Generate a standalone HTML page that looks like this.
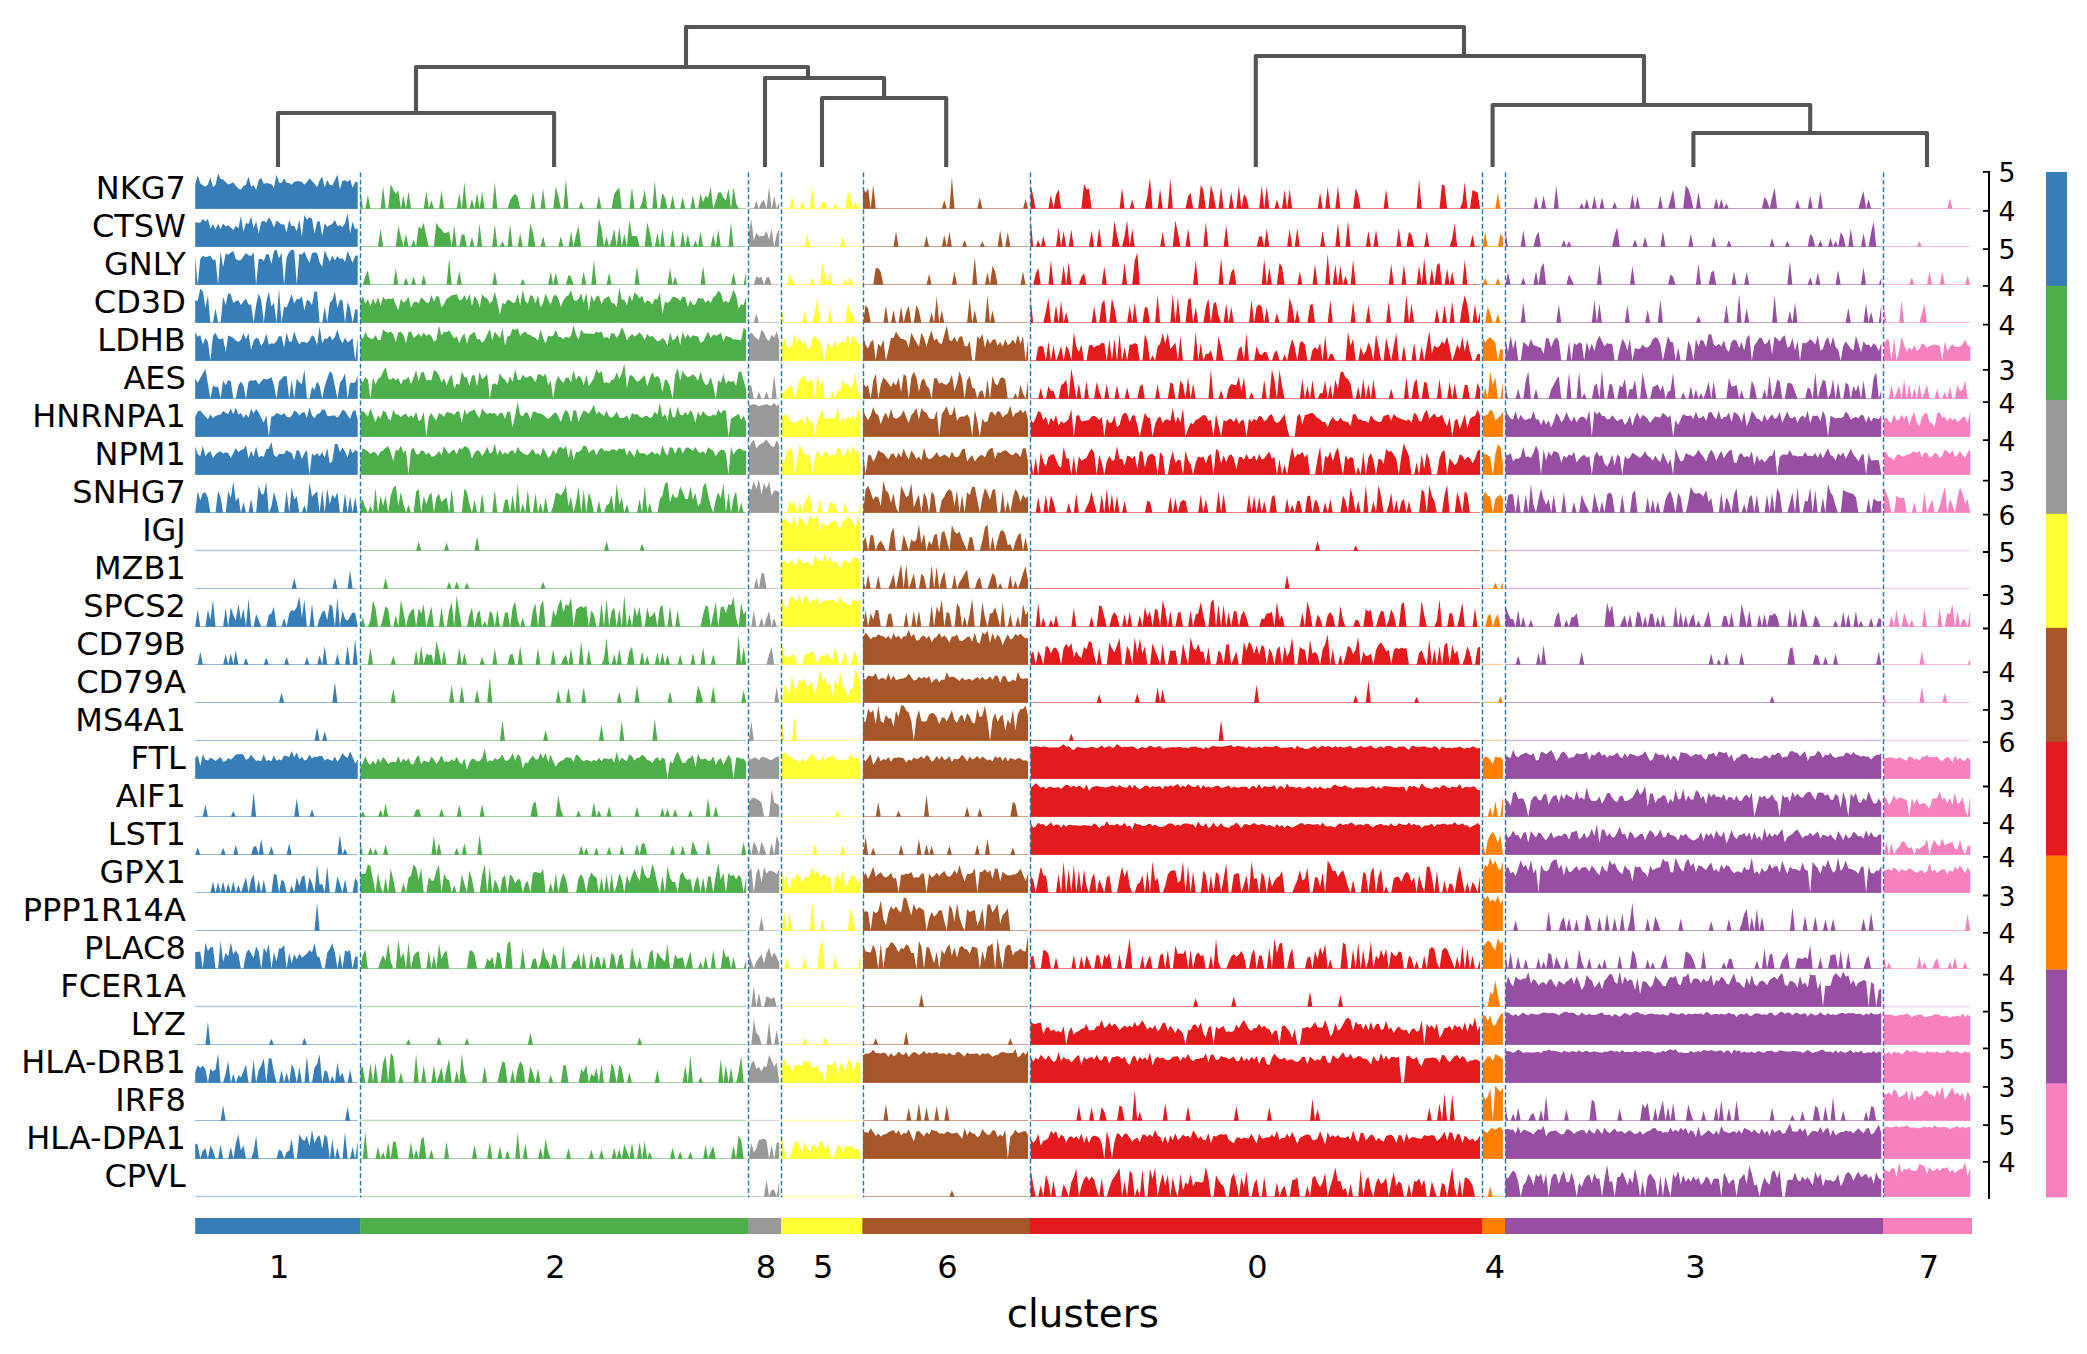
<!DOCTYPE html>
<html><head><meta charset="utf-8"><title>tracksplot</title>
<style>html,body{margin:0;padding:0;background:#fff}svg{display:block}text{font-family:"DejaVu Sans","Liberation Sans",sans-serif;fill:#000}</style></head><body>
<svg width="2087" height="1354" viewBox="0 0 2087 1354">
<rect width="2087" height="1354" fill="#fff"/>
<path d="M278,167V113H554.1V167M822,167V98H946.2V167M765,167V78H884.1V98M416,113V67H808V78M1693.4,167V133H1927V167M1492.6,167V105H1810.2V133M1255.8,167V56H1644V105M686,67V27H1464V56" fill="none" stroke="#555" stroke-width="4.1" stroke-linejoin="round"/>
<g>
<path d="M195.2,208.5H357.7" stroke="#377eb8" stroke-width="1" stroke-opacity="0.55" fill="none"/>
<path d="M195.2,208.8L195.2,184.5L197.7,175.3L200.3,183.2L202.8,185.2L205.4,186.8L207.9,184.5L210.4,177.5L213,187L215.5,185L218.1,173.4L220.6,179.1L223.1,179.4L225.7,182.2L228.2,184.6L230.8,183.4L233.3,182.2L235.8,185.7L238.4,188.4L240.9,189.8L243.4,186L246,184.8L248.5,176.4L251.1,186.8L253.6,185.3L256.1,189.9L258.7,180.1L261.2,177.9L263.8,183.9L266.3,183L268.8,183.5L271.4,184.1L273.9,188L276.5,174.6L279,182.6L281.5,183.2L284.1,178.3L286.6,182.7L289.2,183L291.7,184.7L294.2,181.7L296.8,181.2L299.3,181.3L301.9,182L304.4,184.4L306.9,182.2L309.5,178.2L312,181.1L314.5,183.5L317.1,187.2L319.6,180.6L322.2,176.6L324.7,187.4L327.2,180.1L329.8,184.8L332.3,185.6L334.9,180.3L337.4,174.5L339.9,189.2L342.5,180.8L345,180.2L347.6,181.9L350.1,179.3L352.6,187.8L355.2,181.8L357.7,182.3L357.7,208.8Z" fill="#377eb8"/>
<path d="M360.3,208.5H746.2" stroke="#4daf4a" stroke-width="1" stroke-opacity="0.55" fill="none"/>
<path d="M360.3,208.8L360.3,189.1L362.8,208.8L365.3,208.8L367.9,194.7L370.4,208.8L380.6,208.8L383.1,186L385.6,208.8L388.2,208.8L390.7,183.9L393.3,189.7L395.8,194.2L398.3,189.9L400.9,208.8L403.4,195.4L406,208.8L408.5,191.3L411,208.8L423.7,208.8L426.3,191L428.8,208.8L431.4,200.2L433.9,208.8L439,208.8L441.5,190.5L444.1,208.8L456.7,208.8L459.3,193.3L461.8,208.8L464.4,182.3L466.9,208.8L469.4,208.8L472,198.8L474.5,208.8L477.1,193L479.6,208.8L482.1,191.2L484.7,208.8L492.3,208.8L494.8,182.2L497.4,208.8L507.5,208.8L510.1,200.2L512.6,196.6L515.2,193.6L517.7,197.3L520.2,208.8L530.4,208.8L532.9,191.3L535.5,208.8L540.5,208.8L543.1,188.6L545.6,208.8L553.2,208.8L555.8,186.5L558.3,196.1L560.9,208.8L563.4,208.8L565.9,178.4L568.5,208.8L578.6,208.8L581.2,201.6L583.7,208.8L596.4,208.8L598.9,195.6L601.5,208.8L611.6,208.8L614.2,194L616.7,190.4L619.3,187.6L621.8,208.8L629.4,208.8L632,187.1L634.5,208.8L639.6,208.8L642.1,202.2L644.7,189.4L647.2,208.8L652.3,208.8L654.8,180.5L657.4,208.8L659.9,208.8L662.4,192.9L665,197.5L667.5,208.8L670,208.8L672.6,195.2L675.1,208.8L680.2,208.8L682.7,196.9L685.3,208.8L690.4,208.8L692.9,195.1L695.4,208.8L698,208.8L700.5,193.3L703.1,202.4L705.6,195.6L708.1,198.3L710.7,186.7L713.2,208.8L715.8,201L718.3,192.5L720.8,192.3L723.4,197.5L725.9,200.4L728.5,188.5L731,208.8L733.5,187.1L736.1,203.1L738.6,208.8L746.2,208.8L746.2,208.8Z" fill="#4daf4a"/>
<path d="M748.8,208.5H779.2" stroke="#999999" stroke-width="1" stroke-opacity="0.55" fill="none"/>
<path d="M748.8,208.8L748.8,208.8L753.8,208.8L756.4,201.1L758.9,208.8L761.5,202L764,200.1L766.5,208.8L769.1,186.8L771.6,208.8L774.2,196.1L776.7,208.8L779.2,201.9L779.2,208.8Z" fill="#999999"/>
<path d="M781.8,208.5H860.5" stroke="#ffff33" stroke-width="1" stroke-opacity="0.55" fill="none"/>
<path d="M781.8,208.8L781.8,208.8L789.4,208.8L791.9,195.8L794.5,208.8L799.6,208.8L802.1,200.9L804.6,208.8L809.7,208.8L812.2,186.6L814.8,208.8L819.9,208.8L822.4,201.3L824.9,202.5L827.5,208.8L832.6,208.8L835.1,202.9L837.6,208.8L845.3,208.8L847.8,191.6L850.3,195.7L852.9,208.8L855.4,200.7L858,208.8L860.5,202.5L860.5,208.8Z" fill="#ffff33"/>
<path d="M863,208.5H1028.1" stroke="#a65628" stroke-width="1" stroke-opacity="0.55" fill="none"/>
<path d="M863,208.8L863,188L865.6,192.7L868.1,188.3L870.7,208.8L873.2,184.3L875.7,208.8L941.8,208.8L944.3,200.1L946.8,208.8L949.4,208.8L951.9,177.1L954.5,208.8L977.3,208.8L979.8,197.5L982.4,208.8L1023,208.8L1025.6,199L1028.1,208.8L1028.1,208.8Z" fill="#a65628"/>
<path d="M1030.6,208.5H1480.1" stroke="#e41a1c" stroke-width="1" stroke-opacity="0.55" fill="none"/>
<path d="M1030.6,208.8L1030.6,184.5L1033.2,196.3L1035.7,208.8L1048.4,208.8L1050.9,194.5L1053.5,208.8L1056,194.7L1058.6,189.4L1061.1,208.8L1081.4,208.8L1084,184.1L1086.5,189.6L1089,188.5L1091.6,208.8L1119.5,208.8L1122,187.8L1124.6,208.8L1129.7,208.8L1132.2,199.5L1134.7,208.8L1144.9,208.8L1147.4,196.3L1150,177.9L1152.5,208.8L1157.6,208.8L1160.1,188.8L1162.7,208.8L1167.8,208.8L1170.3,178.4L1172.8,208.8L1185.5,208.8L1188.1,196.3L1190.6,192.7L1193.1,208.8L1198.2,208.8L1200.8,185L1203.3,189.9L1205.8,208.8L1208.4,208.8L1210.9,185.1L1213.5,194.7L1216,208.8L1218.5,208.8L1221.1,186.5L1223.6,208.8L1228.7,208.8L1231.2,192L1233.8,208.8L1236.3,208.8L1238.9,185L1241.4,208.8L1243.9,194.1L1246.5,197.7L1249,208.8L1259.2,208.8L1261.7,185.2L1264.2,208.8L1266.8,185.7L1269.3,208.8L1274.4,208.8L1276.9,199.4L1279.5,208.8L1282,208.8L1284.6,189.8L1287.1,208.8L1289.6,189.1L1292.2,208.8L1317.6,208.8L1320.1,192.8L1322.6,208.8L1325.2,208.8L1327.7,186.5L1330.3,208.8L1335.3,208.8L1337.9,186L1340.4,208.8L1353.1,208.8L1355.7,188.2L1358.2,194.7L1360.7,208.8L1383.6,208.8L1386.1,189.3L1388.7,208.8L1416.6,208.8L1419.1,179L1421.7,208.8L1439.5,208.8L1442,184.8L1444.5,185.2L1447.1,208.8L1459.8,208.8L1462.3,202.7L1464.8,182.1L1467.4,208.8L1469.9,208.8L1472.5,189.9L1475,191.2L1477.5,192.3L1480.1,208.8L1480.1,208.8Z" fill="#e41a1c"/>
<path d="M1482.6,208.5H1502.9" stroke="#ff7f00" stroke-width="1" stroke-opacity="0.55" fill="none"/>
<path d="M1482.6,208.8L1482.6,208.8L1495.3,208.8L1497.9,193.1L1500.4,208.8L1502.9,208.8L1502.9,208.8Z" fill="#ff7f00"/>
<path d="M1505.5,208.5H1881.3" stroke="#984ea3" stroke-width="1" stroke-opacity="0.55" fill="none"/>
<path d="M1505.5,208.8L1505.5,208.8L1533.4,208.8L1536,196.2L1538.5,208.8L1541,208.8L1543.6,195.3L1546.1,208.8L1553.7,208.8L1556.3,185.6L1558.8,208.8L1579.1,208.8L1581.7,203.3L1584.2,208.8L1586.7,198.5L1589.3,208.8L1591.8,208.8L1594.4,195.9L1596.9,208.8L1599.4,208.8L1602,197.5L1604.5,208.8L1612.1,208.8L1614.7,201.8L1617.2,208.8L1629.9,208.8L1632.4,194.3L1635,208.8L1637.5,196.2L1640.1,208.8L1657.8,208.8L1660.4,195.5L1662.9,208.8L1668,208.8L1670.5,199.7L1673.1,189.6L1675.6,208.8L1683.2,208.8L1685.8,185.2L1688.3,189.1L1690.8,196.5L1693.4,208.8L1695.9,208.8L1698.5,192L1701,208.8L1713.7,208.8L1716.2,198L1718.8,208.8L1721.3,198.5L1723.9,208.8L1726.4,203.4L1728.9,208.8L1761.9,208.8L1764.5,196.8L1767,200.5L1769.6,208.8L1772.1,197.5L1774.6,187.4L1777.2,208.8L1795,208.8L1797.5,199.8L1800,208.8L1807.7,208.8L1810.2,195.5L1812.7,208.8L1817.8,208.8L1820.4,191.6L1822.9,208.8L1858.4,208.8L1861,199L1863.5,191L1866.1,208.8L1868.6,199.1L1871.1,208.8L1881.3,208.8L1881.3,208.8Z" fill="#984ea3"/>
<path d="M1883.8,208.5H1970.2" stroke="#f781bf" stroke-width="1" stroke-opacity="0.55" fill="none"/>
<path d="M1883.8,208.8L1883.8,208.8L1947.3,208.8L1949.9,198.3L1952.4,208.8L1970.2,208.8L1970.2,208.8Z" fill="#f781bf"/>
</g>
<g>
<path d="M195.2,246.5H357.7" stroke="#377eb8" stroke-width="1" stroke-opacity="0.55" fill="none"/>
<path d="M195.2,246.8L195.2,222.2L197.7,222.4L200.3,222.8L202.8,219.1L205.4,221.4L207.9,218.9L210.4,228.8L213,223.9L215.5,229.5L218.1,223.6L220.6,228.9L223.1,223.4L225.7,226.4L228.2,225.2L230.8,227.6L233.3,229.9L235.8,225.7L238.4,228.2L240.9,216.1L243.4,231.8L246,222.9L248.5,224.1L251.1,216.4L253.6,228.6L256.1,221.1L258.7,233.8L261.2,221.9L263.8,220.8L266.3,222.8L268.8,217.2L271.4,221.3L273.9,227.4L276.5,220.4L279,222.6L281.5,224.6L284.1,224.3L286.6,232.6L289.2,220L291.7,226.3L294.2,225.5L296.8,231.4L299.3,219.6L301.9,236.7L304.4,214.7L306.9,220L309.5,217.3L312,218.7L314.5,233.5L317.1,222.1L319.6,221.1L322.2,236L324.7,223L327.2,226.9L329.8,224.9L332.3,224.1L334.9,219.9L337.4,226.1L339.9,225.3L342.5,227.1L345,223.2L347.6,213.3L350.1,233.5L352.6,221.8L355.2,229.6L357.7,227.9L357.7,246.8Z" fill="#377eb8"/>
<path d="M360.3,246.5H746.2" stroke="#4daf4a" stroke-width="1" stroke-opacity="0.55" fill="none"/>
<path d="M360.3,246.8L360.3,246.8L378,246.8L380.6,228.3L383.1,246.8L395.8,246.8L398.3,226.1L400.9,236.4L403.4,246.8L406,233.5L408.5,246.8L411,246.8L413.6,239.5L416.1,246.8L418.7,226.2L421.2,229.1L423.7,222.8L426.3,236.5L428.8,246.8L433.9,246.8L436.4,222.4L439,227.3L441.5,229.4L444.1,233.2L446.6,232.7L449.1,231.2L451.7,246.8L454.2,224.9L456.7,246.8L459.3,246.8L461.8,234.5L464.4,234.8L466.9,246.8L469.4,246.8L472,237L474.5,246.8L477.1,246.8L479.6,223.5L482.1,246.8L492.3,246.8L494.8,223.9L497.4,246.8L499.9,246.8L502.5,241L505,246.8L507.5,246.8L510.1,224.2L512.6,246.8L517.7,246.8L520.2,233L522.8,246.8L527.8,246.8L530.4,223L532.9,232.7L535.5,246.8L540.5,246.8L543.1,236.3L545.6,246.8L558.3,246.8L560.9,236.2L563.4,246.8L568.5,246.8L571,231.5L573.6,246.8L576.1,234.3L578.6,226.2L581.2,246.8L596.4,246.8L598.9,218.4L601.5,228.5L604,246.8L606.6,236.7L609.1,246.8L611.6,240.1L614.2,228.7L616.7,246.8L619.3,226.8L621.8,246.8L624.3,233.8L626.9,246.8L629.4,219.4L632,236.1L634.5,235.9L637,235.9L639.6,246.8L644.7,246.8L647.2,222.2L649.7,231.8L652.3,246.8L654.8,246.8L657.4,232.5L659.9,246.8L662.4,228.2L665,246.8L670,246.8L672.6,229.5L675.1,246.8L680.2,246.8L682.7,230.8L685.3,246.8L687.8,234.1L690.4,246.8L692.9,246.8L695.4,240.6L698,246.8L700.5,231.2L703.1,246.8L710.7,246.8L713.2,234L715.8,246.8L718.3,229.2L720.8,246.8L728.5,246.8L731,222.1L733.5,246.8L746.2,246.8L746.2,246.8Z" fill="#4daf4a"/>
<path d="M748.8,246.5H779.2" stroke="#999999" stroke-width="1" stroke-opacity="0.55" fill="none"/>
<path d="M748.8,246.8L748.8,233.7L751.3,219.1L753.8,240.7L756.4,232.4L758.9,236.4L761.5,236L764,235.9L766.5,230.7L769.1,239.8L771.6,228.9L774.2,246.8L776.7,234.2L779.2,228.5L779.2,246.8Z" fill="#999999"/>
<path d="M781.8,246.5H860.5" stroke="#ffff33" stroke-width="1" stroke-opacity="0.55" fill="none"/>
<path d="M781.8,246.8L781.8,246.8L804.6,246.8L807.2,232.5L809.7,246.8L840.2,246.8L842.7,236.5L845.3,246.8L860.5,246.8L860.5,246.8Z" fill="#ffff33"/>
<path d="M863,246.5H1028.1" stroke="#a65628" stroke-width="1" stroke-opacity="0.55" fill="none"/>
<path d="M863,246.8L863,246.8L893.5,246.8L896,231.6L898.6,246.8L924,246.8L926.5,235.8L929.1,246.8L941.8,246.8L944.3,235.1L946.8,246.8L949.4,231.7L951.9,246.8L962.1,246.8L964.6,240L967.1,246.8L979.8,246.8L982.4,241.5L984.9,246.8L997.6,246.8L1000.2,230.3L1002.7,246.8L1005.2,246.8L1007.8,232.1L1010.3,246.8L1028.1,246.8L1028.1,246.8Z" fill="#a65628"/>
<path d="M1030.6,246.5H1480.1" stroke="#e41a1c" stroke-width="1" stroke-opacity="0.55" fill="none"/>
<path d="M1030.6,246.8L1030.6,218.3L1033.2,246.8L1035.7,246.8L1038.2,240.2L1040.8,246.8L1043.3,236L1045.9,246.8L1056,246.8L1058.6,227.6L1061.1,246.8L1063.6,230.9L1066.2,246.8L1068.7,246.8L1071.3,229.6L1073.8,246.8L1089,246.8L1091.6,230.5L1094.1,246.8L1096.7,246.8L1099.2,227.8L1101.7,246.8L1111.9,246.8L1114.4,220.7L1117,235.2L1119.5,246.8L1122,246.8L1124.6,235.9L1127.1,220.3L1129.7,246.8L1132.2,228.6L1134.7,246.8L1160.1,246.8L1162.7,232L1165.2,246.8L1172.8,246.8L1175.4,220.5L1177.9,233.1L1180.4,246.8L1185.5,246.8L1188.1,228.4L1190.6,246.8L1203.3,246.8L1205.8,222.1L1208.4,246.8L1223.6,246.8L1226.2,225.2L1228.7,246.8L1256.6,246.8L1259.2,236.5L1261.7,236.3L1264.2,246.8L1266.8,228.2L1269.3,246.8L1287.1,246.8L1289.6,229.1L1292.2,246.8L1294.7,246.8L1297.3,228.1L1299.8,246.8L1320.1,246.8L1322.6,231L1325.2,246.8L1335.3,246.8L1337.9,223.2L1340.4,246.8L1345.5,246.8L1348,220.7L1350.6,246.8L1365.8,246.8L1368.4,231L1370.9,246.8L1373.4,246.8L1376,229.7L1378.5,246.8L1396.3,246.8L1398.8,227.8L1401.4,246.8L1406.4,246.8L1409,231.7L1411.5,234.7L1414.1,246.8L1424.2,246.8L1426.8,231.7L1429.3,246.8L1449.6,246.8L1452.2,238.6L1454.7,223.1L1457.2,246.8L1469.9,246.8L1472.5,234.8L1475,246.8L1480.1,246.8L1480.1,246.8Z" fill="#e41a1c"/>
<path d="M1482.6,246.5H1502.9" stroke="#ff7f00" stroke-width="1" stroke-opacity="0.55" fill="none"/>
<path d="M1482.6,246.8L1482.6,246.8L1485.2,232.1L1487.7,246.8L1497.9,246.8L1500.4,233.8L1502.9,238.1L1502.9,246.8Z" fill="#ff7f00"/>
<path d="M1505.5,246.5H1881.3" stroke="#984ea3" stroke-width="1" stroke-opacity="0.55" fill="none"/>
<path d="M1505.5,246.8L1505.5,232L1508,246.8L1520.7,246.8L1523.3,229.9L1525.8,246.8L1533.4,246.8L1536,236.6L1538.5,231.5L1541,246.8L1561.3,246.8L1563.9,239.8L1566.4,246.8L1569,241.2L1571.5,246.8L1612.1,246.8L1614.7,234.7L1617.2,227.4L1619.7,246.8L1632.4,246.8L1635,239.3L1637.5,246.8L1642.6,246.8L1645.1,236.9L1647.7,246.8L1660.4,246.8L1662.9,231.2L1665.5,246.8L1688.3,246.8L1690.8,233.4L1693.4,246.8L1711.2,246.8L1713.7,236.2L1716.2,246.8L1726.4,246.8L1728.9,239.9L1731.5,246.8L1769.6,246.8L1772.1,238L1774.6,246.8L1784.8,246.8L1787.3,241L1789.9,246.8L1807.7,246.8L1810.2,234L1812.7,237.1L1815.3,246.8L1817.8,246.8L1820.4,240.1L1822.9,246.8L1828,246.8L1830.5,237.4L1833,246.8L1835.6,241L1838.1,246.8L1840.7,232.3L1843.2,236.4L1845.7,246.8L1848.3,246.8L1850.8,228.2L1853.4,246.8L1861,246.8L1863.5,233.2L1866.1,246.8L1868.6,246.8L1871.1,232.5L1873.7,221.4L1876.2,246.8L1881.3,246.8L1881.3,246.8Z" fill="#984ea3"/>
<path d="M1883.8,246.5H1970.2" stroke="#f781bf" stroke-width="1" stroke-opacity="0.55" fill="none"/>
<path d="M1883.8,246.8L1883.8,246.8L1916.8,246.8L1919.4,241.2L1921.9,246.8L1970.2,246.8L1970.2,246.8Z" fill="#f781bf"/>
</g>
<g>
<path d="M195.2,284.5H357.7" stroke="#377eb8" stroke-width="1" stroke-opacity="0.55" fill="none"/>
<path d="M195.2,284.8L195.2,256.5L197.7,284.8L200.3,258.9L202.8,255.8L205.4,257.2L207.9,256.4L210.4,255.6L213,259.9L215.5,259.8L218.1,284.8L220.6,251.5L223.1,267.3L225.7,253.5L228.2,254.7L230.8,252.5L233.3,251.1L235.8,258.9L238.4,260.5L240.9,259.9L243.4,256.6L246,252.9L248.5,255.2L251.1,256L253.6,252.1L256.1,284.8L258.7,259.1L261.2,258.7L263.8,260.8L266.3,254.1L268.8,254.5L271.4,263.9L273.9,251.2L276.5,249.4L279,258.6L281.5,252.5L284.1,284.8L286.6,257.5L289.2,252.2L291.7,249.4L294.2,250.5L296.8,284.8L299.3,253.8L301.9,254.7L304.4,251.6L306.9,257.7L309.5,263.1L312,253.2L314.5,252.2L317.1,253.3L319.6,262.2L322.2,267L324.7,250.2L327.2,256.2L329.8,261.8L332.3,255.7L334.9,260.6L337.4,256L339.9,259.1L342.5,258.1L345,261.9L347.6,251L350.1,257.1L352.6,263.1L355.2,255.7L357.7,255.5L357.7,284.8Z" fill="#377eb8"/>
<path d="M360.3,284.5H746.2" stroke="#4daf4a" stroke-width="1" stroke-opacity="0.55" fill="none"/>
<path d="M360.3,284.8L360.3,284.8L362.8,284.8L365.3,276.2L367.9,270.6L370.4,284.8L393.3,284.8L395.8,268.1L398.3,284.8L403.4,284.8L406,277.4L408.5,284.8L411,284.8L413.6,276.5L416.1,284.8L421.2,284.8L423.7,274.7L426.3,284.8L446.6,284.8L449.1,258.5L451.7,284.8L456.7,284.8L459.3,270.8L461.8,284.8L492.3,284.8L494.8,271L497.4,284.8L520.2,284.8L522.8,278.9L525.3,284.8L548.2,284.8L550.7,271.5L553.2,284.8L555.8,272.6L558.3,284.8L565.9,284.8L568.5,274.9L571,276.8L573.6,284.8L581.2,284.8L583.7,271.4L586.3,284.8L591.3,284.8L593.9,259.8L596.4,284.8L606.6,284.8L609.1,273.1L611.6,284.8L634.5,284.8L637,266.2L639.6,284.8L667.5,284.8L670,267.7L672.6,284.8L675.1,276.4L677.7,284.8L700.5,284.8L703.1,266.2L705.6,284.8L731,284.8L733.5,272.4L736.1,284.8L743.7,284.8L746.2,271L746.2,284.8Z" fill="#4daf4a"/>
<path d="M748.8,284.5H779.2" stroke="#999999" stroke-width="1" stroke-opacity="0.55" fill="none"/>
<path d="M748.8,284.8L748.8,284.8L753.8,284.8L756.4,276.3L758.9,278.1L761.5,276.8L764,284.8L766.5,277.8L769.1,277.1L771.6,284.8L779.2,284.8L779.2,284.8Z" fill="#999999"/>
<path d="M781.8,284.5H860.5" stroke="#ffff33" stroke-width="1" stroke-opacity="0.55" fill="none"/>
<path d="M781.8,284.8L781.8,284.8L786.9,284.8L789.4,274.4L791.9,278L794.5,284.8L809.7,284.8L812.2,277.8L814.8,284.8L819.9,284.8L822.4,261.8L824.9,273.3L827.5,284.8L830,271.6L832.6,284.8L842.7,284.8L845.3,278.6L847.8,284.8L850.3,276.7L852.9,284.8L860.5,284.8L860.5,284.8Z" fill="#ffff33"/>
<path d="M863,284.5H1028.1" stroke="#a65628" stroke-width="1" stroke-opacity="0.55" fill="none"/>
<path d="M863,284.8L863,284.8L873.2,284.8L875.7,268.3L878.3,268.2L880.8,272L883.4,284.8L926.5,284.8L929.1,274.1L931.6,284.8L951.9,284.8L954.5,271.4L957,284.8L972.2,284.8L974.8,256.9L977.3,284.8L984.9,284.8L987.5,272.2L990,284.8L992.5,265.7L995.1,271.6L997.6,284.8L1020.5,284.8L1023,271.4L1025.6,284.8L1028.1,284.8L1028.1,284.8Z" fill="#a65628"/>
<path d="M1030.6,284.5H1480.1" stroke="#e41a1c" stroke-width="1" stroke-opacity="0.55" fill="none"/>
<path d="M1030.6,284.8L1030.6,284.8L1033.2,284.8L1035.7,273.7L1038.2,268.1L1040.8,284.8L1048.4,284.8L1050.9,260.1L1053.5,284.8L1061.1,284.8L1063.6,265.3L1066.2,284.8L1068.7,261.7L1071.3,284.8L1078.9,284.8L1081.4,277.1L1084,273L1086.5,284.8L1101.7,284.8L1104.3,266.6L1106.8,284.8L1122,284.8L1124.6,262.5L1127.1,284.8L1132.2,284.8L1134.7,260.8L1137.3,252.6L1139.8,284.8L1193.1,284.8L1195.7,260.1L1198.2,284.8L1218.5,284.8L1221.1,257.9L1223.6,284.8L1228.7,284.8L1231.2,272.3L1233.8,268.2L1236.3,284.8L1261.7,284.8L1264.2,258.7L1266.8,284.8L1269.3,267.5L1271.9,284.8L1276.9,284.8L1279.5,262.9L1282,266.9L1284.6,284.8L1297.3,284.8L1299.8,271.2L1302.3,284.8L1312.5,284.8L1315,264L1317.6,284.8L1325.2,284.8L1327.7,253.6L1330.3,284.8L1332.8,284.8L1335.3,264.3L1337.9,284.8L1340.4,265.6L1343,284.8L1345.5,275.3L1348,284.8L1350.6,284.8L1353.1,259.7L1355.7,284.8L1388.7,284.8L1391.2,263.7L1393.7,284.8L1401.4,284.8L1403.9,264.7L1406.4,284.8L1416.6,284.8L1419.1,265.5L1421.7,284.8L1424.2,258L1426.8,284.8L1429.3,284.8L1431.8,268.6L1434.4,284.8L1436.9,265L1439.5,263.1L1442,284.8L1444.5,284.8L1447.1,268.4L1449.6,284.8L1452.2,271.8L1454.7,284.8L1462.3,284.8L1464.8,259.6L1467.4,284.8L1480.1,284.8L1480.1,284.8Z" fill="#e41a1c"/>
<path d="M1482.6,284.5H1502.9" stroke="#ff7f00" stroke-width="1" stroke-opacity="0.55" fill="none"/>
<path d="M1482.6,284.8L1482.6,284.8L1485.2,277.7L1487.7,284.8L1495.3,284.8L1497.9,278.1L1500.4,284.8L1502.9,284.8L1502.9,284.8Z" fill="#ff7f00"/>
<path d="M1505.5,284.5H1881.3" stroke="#984ea3" stroke-width="1" stroke-opacity="0.55" fill="none"/>
<path d="M1505.5,284.8L1505.5,284.8L1508,271.9L1510.6,284.8L1520.7,284.8L1523.3,277.5L1525.8,284.8L1533.4,284.8L1536,271L1538.5,284.8L1541,267.7L1543.6,263L1546.1,284.8L1566.4,284.8L1569,274.2L1571.5,279.4L1574,284.8L1596.9,284.8L1599.4,264.1L1602,284.8L1629.9,284.8L1632.4,266.1L1635,284.8L1668,284.8L1670.5,274.4L1673.1,276.8L1675.6,284.8L1695.9,284.8L1698.5,263.6L1701,284.8L1708.6,284.8L1711.2,272.6L1713.7,270.5L1716.2,284.8L1731.5,284.8L1734,271.2L1736.6,284.8L1744.2,284.8L1746.7,271.9L1749.3,284.8L1787.3,284.8L1789.9,261.3L1792.4,284.8L1807.7,284.8L1810.2,277.2L1812.7,284.8L1815.3,284.8L1817.8,272.8L1820.4,284.8L1835.6,284.8L1838.1,270L1840.7,284.8L1861,284.8L1863.5,267.3L1866.1,284.8L1878.8,284.8L1881.3,277.8L1881.3,284.8Z" fill="#984ea3"/>
<path d="M1883.8,284.5H1970.2" stroke="#f781bf" stroke-width="1" stroke-opacity="0.55" fill="none"/>
<path d="M1883.8,284.8L1883.8,284.8L1909.2,284.8L1911.8,277.2L1914.3,284.8L1927,284.8L1929.5,271.2L1932.1,284.8L1939.7,284.8L1942.2,271.6L1944.8,284.8L1965.1,284.8L1967.6,275.4L1970.2,284.8L1970.2,284.8Z" fill="#f781bf"/>
</g>
<g>
<path d="M195.2,322.5H357.7" stroke="#377eb8" stroke-width="1" stroke-opacity="0.55" fill="none"/>
<path d="M195.2,322.8L195.2,300.2L197.7,301.1L200.3,288.6L202.8,291.4L205.4,307.8L207.9,295.5L210.4,322.8L213,322.8L215.5,308.2L218.1,322.8L220.6,322.8L223.1,297L225.7,305L228.2,292.9L230.8,294.6L233.3,303.1L235.8,301.1L238.4,300.3L240.9,305.1L243.4,301.4L246,298.6L248.5,304.6L251.1,304.4L253.6,322.8L256.1,304.9L258.7,293.5L261.2,300.3L263.8,322.8L266.3,301.9L268.8,291.5L271.4,306.6L273.9,302.5L276.5,322.8L279,288.5L281.5,322.8L284.1,306.6L286.6,307.4L289.2,301L291.7,294.1L294.2,303.4L296.8,299.1L299.3,299.2L301.9,296.6L304.4,310.5L306.9,299.6L309.5,301.3L312,304.9L314.5,291.2L317.1,291.7L319.6,322.8L322.2,322.8L324.7,306.3L327.2,322.8L329.8,302.8L332.3,300.1L334.9,291.4L337.4,308.3L339.9,299.9L342.5,300.3L345,322.8L347.6,302L350.1,308.6L352.6,322.8L355.2,309.5L357.7,309.2L357.7,322.8Z" fill="#377eb8"/>
<path d="M360.3,322.5H746.2" stroke="#4daf4a" stroke-width="1" stroke-opacity="0.55" fill="none"/>
<path d="M360.3,322.8L360.3,302.3L362.8,296.3L365.3,303.7L367.9,299.3L370.4,306.3L373,298.4L375.5,303.9L378,297.2L380.6,305.8L383.1,296.7L385.6,300L388.2,298.5L390.7,299.1L393.3,298.1L395.8,304.8L398.3,310.5L400.9,298.6L403.4,303L406,300.8L408.5,296.8L411,307.9L413.6,302.2L416.1,301.5L418.7,303.6L421.2,297.2L423.7,299.4L426.3,302.5L428.8,303.3L431.4,295L433.9,301.8L436.4,296.1L439,296.7L441.5,307.4L444.1,303.7L446.6,298.7L449.1,297.2L451.7,295.2L454.2,295.1L456.7,294L459.3,300.5L461.8,299.7L464.4,295.2L466.9,300.7L469.4,293.9L472,306L474.5,295.7L477.1,299.5L479.6,307.8L482.1,294.2L484.7,297.3L487.2,298.6L489.8,303.7L492.3,300.9L494.8,291.8L497.4,302.5L499.9,314.7L502.5,302.7L505,304.3L507.5,299.4L510.1,300.6L512.6,302.9L515.2,302.6L517.7,293.9L520.2,305.4L522.8,289.8L525.3,301.2L527.8,303.8L530.4,295.1L532.9,296.2L535.5,303.5L538,295.3L540.5,307.2L543.1,303L545.6,293.6L548.2,299.9L550.7,304.7L553.2,296.4L555.8,294.5L558.3,298.8L560.9,307L563.4,300.3L565.9,296.8L568.5,295.2L571,290.2L573.6,299.9L576.1,301L578.6,298.9L581.2,293.2L583.7,303.1L586.3,292.8L588.8,311.4L591.3,295.1L593.9,301.8L596.4,296.6L598.9,295.6L601.5,304.2L604,299.1L606.6,297.6L609.1,296.1L611.6,303L614.2,303.3L616.7,307.6L619.3,287.4L621.8,299.6L624.3,299.8L626.9,305.6L629.4,294.5L632,301.2L634.5,292.2L637,294.8L639.6,298.6L642.1,295.4L644.7,303.8L647.2,300.2L649.7,301.4L652.3,304.6L654.8,298.7L657.4,299.4L659.9,292.2L662.4,314.1L665,301.8L667.5,303L670,300.9L672.6,296.8L675.1,296.9L677.7,298.6L680.2,300.9L682.7,296.5L685.3,297.1L687.8,307.2L690.4,299.9L692.9,305.1L695.4,304.2L698,298.1L700.5,298.5L703.1,298.2L705.6,302.8L708.1,299.7L710.7,302.9L713.2,297L715.8,295.6L718.3,290.7L720.8,292.9L723.4,302.4L725.9,300.8L728.5,303.1L731,297.3L733.5,289.7L736.1,295.5L738.6,308.8L741.1,304.5L743.7,304.7L746.2,296.4L746.2,322.8Z" fill="#4daf4a"/>
<path d="M748.8,322.5H779.2" stroke="#999999" stroke-width="1" stroke-opacity="0.55" fill="none"/>
<path d="M748.8,322.8L748.8,322.8L753.8,322.8L756.4,313.5L758.9,322.8L779.2,322.8L779.2,322.8Z" fill="#999999"/>
<path d="M781.8,322.5H860.5" stroke="#ffff33" stroke-width="1" stroke-opacity="0.55" fill="none"/>
<path d="M781.8,322.8L781.8,309L784.3,322.8L802.1,322.8L804.6,309.9L807.2,322.8L812.2,322.8L814.8,311.7L817.3,297.2L819.9,322.8L827.5,322.8L830,307.5L832.6,322.8L845.3,322.8L847.8,302.7L850.3,311L852.9,314.6L855.4,322.8L860.5,322.8L860.5,322.8Z" fill="#ffff33"/>
<path d="M863,322.5H1028.1" stroke="#a65628" stroke-width="1" stroke-opacity="0.55" fill="none"/>
<path d="M863,322.8L863,322.8L865.6,305.1L868.1,308.6L870.7,322.8L883.4,322.8L885.9,305.4L888.4,322.8L891,322.8L893.5,310.1L896,322.8L898.6,322.8L901.1,306.3L903.7,322.8L906.2,311.8L908.7,305.8L911.3,322.8L913.8,322.8L916.4,304.7L918.9,310.5L921.4,322.8L929.1,322.8L931.6,312.6L934.1,322.8L936.7,296.3L939.2,322.8L941.8,310.3L944.3,322.8L967.1,322.8L969.7,298.1L972.2,322.8L974.8,309.9L977.3,322.8L984.9,322.8L987.5,295.6L990,322.8L992.5,310.2L995.1,322.8L1028.1,322.8L1028.1,322.8Z" fill="#a65628"/>
<path d="M1030.6,322.5H1480.1" stroke="#e41a1c" stroke-width="1" stroke-opacity="0.55" fill="none"/>
<path d="M1030.6,322.8L1030.6,298.3L1033.2,322.8L1043.3,322.8L1045.9,311.1L1048.4,298.1L1050.9,322.8L1053.5,322.8L1056,304.9L1058.6,322.8L1061.1,300.7L1063.6,322.8L1066.2,312.3L1068.7,322.8L1091.6,322.8L1094.1,305.9L1096.7,322.8L1099.2,322.8L1101.7,304.1L1104.3,299.7L1106.8,322.8L1109.3,322.8L1111.9,298.2L1114.4,308.1L1117,322.8L1127.1,322.8L1129.7,305.5L1132.2,322.8L1134.7,302.5L1137.3,322.8L1142.4,322.8L1144.9,307.3L1147.4,307.5L1150,322.8L1155.1,322.8L1157.6,294.4L1160.1,322.8L1170.3,322.8L1172.8,293.5L1175.4,322.8L1177.9,297L1180.4,322.8L1185.5,322.8L1188.1,299.8L1190.6,297.8L1193.1,322.8L1195.7,306.9L1198.2,322.8L1203.3,322.8L1205.8,307.1L1208.4,298.5L1210.9,322.8L1213.5,303.4L1216,301.9L1218.5,315.9L1221.1,322.8L1223.6,322.8L1226.2,303.5L1228.7,322.8L1231.2,306.4L1233.8,322.8L1249,322.8L1251.5,299.7L1254.1,322.8L1256.6,307L1259.2,304.4L1261.7,306.8L1264.2,322.8L1266.8,307.2L1269.3,322.8L1274.4,322.8L1276.9,313.1L1279.5,322.8L1287.1,322.8L1289.6,297.8L1292.2,306.5L1294.7,322.8L1297.3,309.4L1299.8,322.8L1307.4,322.8L1310,305.5L1312.5,303.5L1315,322.8L1327.7,322.8L1330.3,299.8L1332.8,322.8L1350.6,322.8L1353.1,301L1355.7,322.8L1365.8,322.8L1368.4,304.9L1370.9,322.8L1386.1,322.8L1388.7,301.5L1391.2,322.8L1403.9,322.8L1406.4,294.4L1409,322.8L1411.5,303.4L1414.1,322.8L1434.4,322.8L1436.9,308.8L1439.5,322.8L1442,322.8L1444.5,305.4L1447.1,322.8L1449.6,322.8L1452.2,301.6L1454.7,322.8L1459.8,322.8L1462.3,306L1464.8,295.2L1467.4,305.2L1469.9,322.8L1472.5,322.8L1475,303.7L1477.5,322.8L1480.1,311.8L1480.1,322.8Z" fill="#e41a1c"/>
<path d="M1482.6,322.5H1502.9" stroke="#ff7f00" stroke-width="1" stroke-opacity="0.55" fill="none"/>
<path d="M1482.6,322.8L1482.6,322.8L1485.2,322.8L1487.7,306.4L1490.2,313.6L1492.8,322.8L1495.3,322.8L1497.9,313.8L1500.4,322.8L1502.9,322.8L1502.9,322.8Z" fill="#ff7f00"/>
<path d="M1505.5,322.5H1881.3" stroke="#984ea3" stroke-width="1" stroke-opacity="0.55" fill="none"/>
<path d="M1505.5,322.8L1505.5,322.8L1520.7,322.8L1523.3,302.7L1525.8,322.8L1556.3,322.8L1558.8,304.2L1561.3,322.8L1591.8,322.8L1594.4,299.9L1596.9,322.8L1599.4,303.6L1602,322.8L1624.8,322.8L1627.4,305L1629.9,322.8L1645.1,322.8L1647.7,309.8L1650.2,322.8L1657.8,322.8L1660.4,299.4L1662.9,322.8L1695.9,322.8L1698.5,315.8L1701,322.8L1723.9,322.8L1726.4,304.8L1728.9,322.8L1736.6,322.8L1739.1,294.1L1741.6,322.8L1744.2,322.8L1746.7,308.3L1749.3,322.8L1772.1,322.8L1774.6,294.8L1777.2,322.8L1787.3,322.8L1789.9,310.7L1792.4,322.8L1795,302.3L1797.5,322.8L1845.7,322.8L1848.3,307.4L1850.8,322.8L1863.5,322.8L1866.1,303.4L1868.6,322.8L1871.1,311.7L1873.7,322.8L1878.8,322.8L1881.3,304.5L1881.3,322.8Z" fill="#984ea3"/>
<path d="M1883.8,322.5H1970.2" stroke="#f781bf" stroke-width="1" stroke-opacity="0.55" fill="none"/>
<path d="M1883.8,322.8L1883.8,305.4L1886.4,322.8L1899.1,322.8L1901.6,300.5L1904.1,322.8L1919.4,322.8L1921.9,313.6L1924.5,304.1L1927,322.8L1970.2,322.8L1970.2,322.8Z" fill="#f781bf"/>
</g>
<g>
<path d="M195.2,360.5H357.7" stroke="#377eb8" stroke-width="1" stroke-opacity="0.55" fill="none"/>
<path d="M195.2,360.8L195.2,332.1L197.7,336.8L200.3,335.1L202.8,344.8L205.4,337.7L207.9,342.1L210.4,360.8L213,336.1L215.5,332.8L218.1,338.6L220.6,339.3L223.1,338.1L225.7,351.9L228.2,335.5L230.8,336.4L233.3,338.1L235.8,340.6L238.4,342.1L240.9,339.7L243.4,333.5L246,339.3L248.5,332.9L251.1,350.2L253.6,340.9L256.1,337.7L258.7,338.9L261.2,346.2L263.8,341.8L266.3,333.4L268.8,344.6L271.4,343.2L273.9,343.7L276.5,341.3L279,336L281.5,336.2L284.1,347.8L286.6,332.4L289.2,341.5L291.7,341.5L294.2,331.5L296.8,339.2L299.3,344.3L301.9,341.7L304.4,342.1L306.9,343.3L309.5,340.3L312,335L314.5,337.3L317.1,344.9L319.6,326.6L322.2,343.2L324.7,338.4L327.2,338.7L329.8,335.5L332.3,340.3L334.9,336.9L337.4,329.6L339.9,338.4L342.5,343.6L345,337.4L347.6,342.4L350.1,340.5L352.6,338L355.2,360.8L357.7,337.4L357.7,360.8Z" fill="#377eb8"/>
<path d="M360.3,360.5H746.2" stroke="#4daf4a" stroke-width="1" stroke-opacity="0.55" fill="none"/>
<path d="M360.3,360.8L360.3,335.9L362.8,339.1L365.3,332.1L367.9,336.9L370.4,338.6L373,338.9L375.5,335.1L378,340.3L380.6,339.9L383.1,329.3L385.6,331.7L388.2,332.7L390.7,331.5L393.3,334.3L395.8,342.4L398.3,332.2L400.9,332L403.4,334.7L406,343.3L408.5,332L411,331.5L413.6,338.1L416.1,335.9L418.7,333.6L421.2,336.7L423.7,332.5L426.3,336.1L428.8,333.9L431.4,336.1L433.9,341.7L436.4,339.9L439,325.4L441.5,335.4L444.1,331.7L446.6,332.3L449.1,330.3L451.7,334.4L454.2,338.5L456.7,336.3L459.3,343.2L461.8,337.1L464.4,333.2L466.9,344.1L469.4,335.7L472,333.5L474.5,331.7L477.1,339.7L479.6,338.7L482.1,343.1L484.7,340L487.2,334.5L489.8,329L492.3,340.5L494.8,331.5L497.4,334.9L499.9,338.2L502.5,328.6L505,345.4L507.5,336.6L510.1,335.6L512.6,328.8L515.2,330L517.7,328.3L520.2,335.9L522.8,332.9L525.3,331.5L527.8,334.6L530.4,335.1L532.9,337L535.5,337.8L538,340.8L540.5,329.4L543.1,338L545.6,343.8L548.2,335.5L550.7,336.5L553.2,335.8L555.8,329.9L558.3,336.8L560.9,337.3L563.4,339.1L565.9,336.5L568.5,338L571,335.7L573.6,325.4L576.1,335L578.6,339.5L581.2,329.5L583.7,333.3L586.3,333.5L588.8,333.8L591.3,333.5L593.9,334L596.4,331.4L598.9,332.8L601.5,331.6L604,338.2L606.6,336.4L609.1,339L611.6,333L614.2,333.4L616.7,338.1L619.3,334.3L621.8,327L624.3,332L626.9,340.4L629.4,336.7L632,334.1L634.5,336.5L637,335L639.6,332.2L642.1,335.2L644.7,340.3L647.2,333.8L649.7,336.7L652.3,336L654.8,338.4L657.4,341.3L659.9,340.8L662.4,337.7L665,340.2L667.5,346.1L670,332.3L672.6,340.5L675.1,339L677.7,334.5L680.2,345L682.7,331.6L685.3,339.1L687.8,334L690.4,338.1L692.9,335.3L695.4,336L698,336.4L700.5,342.9L703.1,341.6L705.6,336.5L708.1,331.4L710.7,338.3L713.2,334.5L715.8,335.8L718.3,334.7L720.8,332.8L723.4,341.8L725.9,335.4L728.5,337L731,337.5L733.5,339.4L736.1,339.2L738.6,340.1L741.1,340.3L743.7,327.4L746.2,330.3L746.2,360.8Z" fill="#4daf4a"/>
<path d="M748.8,360.5H779.2" stroke="#999999" stroke-width="1" stroke-opacity="0.55" fill="none"/>
<path d="M748.8,360.8L748.8,334.9L751.3,332.5L753.8,335.4L756.4,338.2L758.9,340L761.5,329.8L764,332.5L766.5,338.7L769.1,341.2L771.6,334.7L774.2,337.5L776.7,331.5L779.2,340.3L779.2,360.8Z" fill="#999999"/>
<path d="M781.8,360.5H860.5" stroke="#ffff33" stroke-width="1" stroke-opacity="0.55" fill="none"/>
<path d="M781.8,360.8L781.8,346.1L784.3,338L786.9,345.8L789.4,348.2L791.9,344.9L794.5,333.7L797,342.8L799.6,337.2L802.1,344.8L804.6,341.1L807.2,348.4L809.7,349.3L812.2,338.8L814.8,335.6L817.3,338.9L819.9,341.9L822.4,350.8L824.9,360.8L827.5,341.4L830,347.2L832.6,347.1L835.1,340.6L837.6,346.4L840.2,342.3L842.7,342.1L845.3,342.5L847.8,334.1L850.3,344.6L852.9,335L855.4,338.1L858,344.3L860.5,342.7L860.5,360.8Z" fill="#ffff33"/>
<path d="M863,360.5H1028.1" stroke="#a65628" stroke-width="1" stroke-opacity="0.55" fill="none"/>
<path d="M863,360.8L863,334.7L865.6,345L868.1,348.6L870.7,341.9L873.2,339.7L875.7,360.8L878.3,343.6L880.8,347L883.4,339.5L885.9,360.8L888.4,350L891,337.8L893.5,338L896,331.6L898.6,335.9L901.1,338.7L903.7,339.2L906.2,340.5L908.7,347.7L911.3,332.8L913.8,337.8L916.4,342.2L918.9,346.8L921.4,332.7L924,337.8L926.5,347L929.1,337L931.6,330.5L934.1,340.8L936.7,338.5L939.2,342.9L941.8,344L944.3,334.9L946.8,325.4L949.4,340L951.9,341.3L954.5,336.4L957,342.3L959.5,336.7L962.1,336.2L964.6,346.1L967.1,346.4L969.7,341L972.2,360.8L974.8,360.8L977.3,336.2L979.8,339.1L982.4,334L984.9,348L987.5,338L990,344L992.5,340.1L995.1,338.9L997.6,345.8L1000.2,341.9L1002.7,346.8L1005.2,339.2L1007.8,345.2L1010.3,343.3L1012.9,339.5L1015.4,344.1L1017.9,334.5L1020.5,344L1023,336.1L1025.6,360.8L1028.1,339.1L1028.1,360.8Z" fill="#a65628"/>
<path d="M1030.6,360.5H1480.1" stroke="#e41a1c" stroke-width="1" stroke-opacity="0.55" fill="none"/>
<path d="M1030.6,360.8L1030.6,360.8L1035.7,360.8L1038.2,347L1040.8,345.9L1043.3,346.8L1045.9,360.8L1048.4,341.3L1050.9,360.8L1053.5,344.9L1056,360.8L1058.6,354.2L1061.1,345.7L1063.6,360.8L1066.2,345.8L1068.7,349.6L1071.3,360.8L1073.8,332.1L1076.3,346.9L1078.9,351.9L1081.4,344.4L1084,360.8L1086.5,360.8L1089,345.6L1091.6,344.8L1094.1,347.8L1096.7,345.5L1099.2,345.6L1101.7,342.7L1104.3,343.4L1106.8,360.8L1109.3,339.2L1111.9,360.8L1114.4,338.8L1117,360.8L1119.5,333.9L1122,360.8L1124.6,346.8L1127.1,360.8L1129.7,344.5L1132.2,344.8L1134.7,343L1137.3,344.2L1139.8,360.8L1142.4,360.8L1144.9,334.2L1147.4,341.4L1150,360.8L1152.5,355.3L1155.1,360.8L1157.6,346.8L1160.1,343.8L1162.7,333L1165.2,344L1167.8,332.7L1170.3,349.2L1172.8,346.2L1175.4,342.4L1177.9,360.8L1180.4,335.9L1183,360.8L1193.1,360.8L1195.7,331.7L1198.2,360.8L1200.8,342.8L1203.3,360.8L1205.8,353.8L1208.4,353.8L1210.9,350.2L1213.5,360.8L1216,360.8L1218.5,336.6L1221.1,347.3L1223.6,360.8L1236.3,360.8L1238.9,348.9L1241.4,346L1243.9,360.8L1246.5,332.7L1249,360.8L1254.1,360.8L1256.6,345.9L1259.2,353.6L1261.7,355.3L1264.2,351.7L1266.8,352.6L1269.3,360.8L1271.9,360.8L1274.4,352.7L1276.9,350.5L1279.5,360.8L1282,360.8L1284.6,354.5L1287.1,360.8L1289.6,348.3L1292.2,338.8L1294.7,346.9L1297.3,360.8L1299.8,343L1302.3,341L1304.9,344.9L1307.4,360.8L1310,360.8L1312.5,349.9L1315,346.9L1317.6,349.7L1320.1,342.8L1322.6,360.8L1325.2,335.6L1327.7,360.8L1330.3,353.8L1332.8,354.4L1335.3,360.8L1345.5,360.8L1348,331.8L1350.6,345.7L1353.1,338.8L1355.7,360.8L1358.2,360.8L1360.7,346.8L1363.3,354.9L1365.8,351.6L1368.4,342.6L1370.9,348L1373.4,360.8L1376,334.3L1378.5,346.3L1381.1,360.8L1383.6,360.8L1386.1,337.7L1388.7,349.1L1391.2,360.8L1393.7,346.2L1396.3,333L1398.8,360.8L1401.4,360.8L1403.9,345.3L1406.4,360.8L1411.5,360.8L1414.1,342.5L1416.6,360.8L1419.1,360.8L1421.7,346L1424.2,360.8L1426.8,345.7L1429.3,330.7L1431.8,353.5L1434.4,345.3L1436.9,347.7L1439.5,345.9L1442,341.5L1444.5,344.1L1447.1,336.5L1449.6,347.6L1452.2,360.8L1454.7,353.5L1457.2,344.7L1459.8,350.1L1462.3,337.1L1464.8,351.6L1467.4,338.9L1469.9,351.6L1472.5,360.8L1475,360.8L1477.5,353.9L1480.1,353.9L1480.1,360.8Z" fill="#e41a1c"/>
<path d="M1482.6,360.5H1502.9" stroke="#ff7f00" stroke-width="1" stroke-opacity="0.55" fill="none"/>
<path d="M1482.6,360.8L1482.6,337.3L1485.2,342.7L1487.7,339L1490.2,337.2L1492.8,339.9L1495.3,342.2L1497.9,360.8L1500.4,349.3L1502.9,349.5L1502.9,360.8Z" fill="#ff7f00"/>
<path d="M1505.5,360.5H1881.3" stroke="#984ea3" stroke-width="1" stroke-opacity="0.55" fill="none"/>
<path d="M1505.5,360.8L1505.5,338.8L1508,351.9L1510.6,335.8L1513.1,348.8L1515.6,339.4L1518.2,360.8L1520.7,360.8L1523.3,342L1525.8,344.1L1528.3,347L1530.9,339L1533.4,345L1536,346L1538.5,346.9L1541,347.8L1543.6,354.1L1546.1,338L1548.6,338.5L1551.2,347.4L1553.7,340.8L1556.3,337.2L1558.8,341L1561.3,360.8L1566.4,360.8L1569,341.3L1571.5,360.8L1574,343L1576.6,344.9L1579.1,342.4L1581.7,343.6L1584.2,360.8L1586.7,341.7L1589.3,351.1L1591.8,343.4L1594.4,351L1596.9,340.8L1599.4,335.8L1602,341.1L1604.5,346.4L1607.1,342.9L1609.6,344.1L1612.1,343.5L1614.7,360.8L1617.2,360.8L1619.7,349.4L1622.3,338.8L1624.8,342.7L1627.4,350.7L1629.9,338.8L1632.4,360.8L1635,347.9L1637.5,349L1640.1,348.8L1642.6,344.5L1645.1,347.2L1647.7,347.4L1650.2,344.8L1652.8,339.2L1655.3,337.2L1657.8,338.5L1660.4,344.8L1662.9,360.8L1665.5,347.6L1668,336L1670.5,341.8L1673.1,342.5L1675.6,360.8L1678.2,347.3L1680.7,360.8L1685.8,360.8L1688.3,340.4L1690.8,346.5L1693.4,360.8L1695.9,339.1L1698.5,346.6L1701,339.5L1703.5,341L1706.1,347.2L1708.6,334.2L1711.2,334.3L1713.7,344.4L1716.2,346.5L1718.8,343.7L1721.3,346.4L1723.9,340.3L1726.4,349.1L1728.9,352.1L1731.5,341.8L1734,339.6L1736.6,340.9L1739.1,348.2L1741.6,342L1744.2,350.4L1746.7,337.9L1749.3,334.8L1751.8,360.8L1754.3,345.4L1756.9,342.1L1759.4,337.4L1761.9,338.3L1764.5,344.2L1767,343.3L1769.6,338.3L1772.1,354.5L1774.6,336.2L1777.2,339L1779.7,341.4L1782.3,337.4L1784.8,335.3L1787.3,347.8L1789.9,346.2L1792.4,338.1L1795,350.7L1797.5,341.2L1800,360.8L1802.6,342.6L1805.1,343.4L1807.7,341.9L1810.2,339L1812.7,341.6L1815.3,344.5L1817.8,335.2L1820.4,350.8L1822.9,348.7L1825.4,340.9L1828,337L1830.5,346.4L1833,336.4L1835.6,347.1L1838.1,349.7L1840.7,360.8L1843.2,346.2L1845.7,341.3L1848.3,345.2L1850.8,348.4L1853.4,350.6L1855.9,335.8L1858.4,343.6L1861,352.4L1863.5,341.3L1866.1,344.9L1868.6,344.5L1871.1,347.6L1873.7,343L1876.2,345.7L1878.8,350.9L1881.3,342.8L1881.3,360.8Z" fill="#984ea3"/>
<path d="M1883.8,360.5H1970.2" stroke="#f781bf" stroke-width="1" stroke-opacity="0.55" fill="none"/>
<path d="M1883.8,360.8L1883.8,345.1L1886.4,339.1L1888.9,340.4L1891.5,360.8L1894,337.8L1896.5,360.8L1899.1,350.7L1901.6,336.8L1904.1,344.8L1906.7,352.1L1909.2,347.5L1911.8,350.6L1914.3,345L1916.8,351L1919.4,349L1921.9,343.6L1924.5,344.2L1927,348.2L1929.5,345.8L1932.1,345.3L1934.6,344.6L1937.2,344.9L1939.7,345.8L1942.2,360.8L1944.8,341.2L1947.3,351.5L1949.9,346.9L1952.4,344.3L1954.9,346.5L1957.5,347.1L1960,346.7L1962.6,344L1965.1,339.7L1967.6,345.6L1970.2,346L1970.2,360.8Z" fill="#f781bf"/>
</g>
<g>
<path d="M195.2,398.5H357.7" stroke="#377eb8" stroke-width="1" stroke-opacity="0.55" fill="none"/>
<path d="M195.2,398.8L195.2,378.4L197.7,382.8L200.3,378.2L202.8,373.5L205.4,369L207.9,383.9L210.4,398.8L213,385.6L215.5,387L218.1,386.8L220.6,398.8L223.1,380.4L225.7,385.3L228.2,380.1L230.8,381.2L233.3,398.8L235.8,398.8L238.4,385.3L240.9,381.6L243.4,385.4L246,398.8L248.5,381.8L251.1,380.3L253.6,380.7L256.1,379.9L258.7,384.4L261.2,381.6L263.8,378.5L266.3,379.6L268.8,379.1L271.4,376.9L273.9,385.1L276.5,398.8L279,381.4L281.5,378.7L284.1,376L286.6,376.2L289.2,398.8L291.7,380L294.2,398.8L296.8,378.6L299.3,382.5L301.9,383.9L304.4,369.3L306.9,398.8L309.5,398.8L312,386.7L314.5,389.9L317.1,381.5L319.6,385.8L322.2,398.8L324.7,386.2L327.2,378.6L329.8,371.3L332.3,373.8L334.9,386.1L337.4,398.8L339.9,382.9L342.5,379.2L345,373.2L347.6,398.8L350.1,382.8L352.6,382.9L355.2,382.6L357.7,376.1L357.7,398.8Z" fill="#377eb8"/>
<path d="M360.3,398.5H746.2" stroke="#4daf4a" stroke-width="1" stroke-opacity="0.55" fill="none"/>
<path d="M360.3,398.8L360.3,380L362.8,382.1L365.3,377.3L367.9,379.5L370.4,398.8L373,377.2L375.5,384.4L378,379L380.6,377.2L383.1,371.8L385.6,367L388.2,378.6L390.7,379.9L393.3,377.4L395.8,380.2L398.3,377.9L400.9,384.6L403.4,379.4L406,379.6L408.5,376.5L411,384.2L413.6,377.8L416.1,370.3L418.7,381.6L421.2,372.4L423.7,371.9L426.3,380.2L428.8,380.3L431.4,380.3L433.9,369.9L436.4,371.5L439,375.4L441.5,382.5L444.1,378L446.6,385.7L449.1,379.1L451.7,374.5L454.2,388.7L456.7,383.4L459.3,384.7L461.8,371.5L464.4,377.2L466.9,377.6L469.4,386L472,375.5L474.5,374.9L477.1,386.6L479.6,371.8L482.1,379.3L484.7,377.3L487.2,374L489.8,398.8L492.3,384.4L494.8,383.2L497.4,385L499.9,373.1L502.5,378.1L505,379.5L507.5,384.1L510.1,376.2L512.6,382L515.2,369.1L517.7,380.1L520.2,380.1L522.8,374.5L525.3,378L527.8,376.9L530.4,375.6L532.9,378.2L535.5,382.3L538,374.2L540.5,374.2L543.1,376.7L545.6,373.6L548.2,385.3L550.7,380.3L553.2,398.8L555.8,381.7L558.3,375.9L560.9,380.5L563.4,382.9L565.9,377.8L568.5,377.8L571,382.5L573.6,370.3L576.1,380L578.6,375.5L581.2,378L583.7,385.4L586.3,374.5L588.8,386.5L591.3,382.2L593.9,377.9L596.4,369L598.9,373.4L601.5,371L604,383.1L606.6,382.2L609.1,383.4L611.6,380.1L614.2,379.1L616.7,372.2L619.3,379.4L621.8,373.5L624.3,363.4L626.9,388.3L629.4,375.7L632,375.3L634.5,378.6L637,381.7L639.6,380.5L642.1,377.7L644.7,374.9L647.2,386.7L649.7,378.8L652.3,372.1L654.8,378.1L657.4,375.8L659.9,379.1L662.4,391.9L665,379.2L667.5,380.8L670,387.2L672.6,398.8L675.1,374.9L677.7,367.9L680.2,380.8L682.7,371L685.3,375L687.8,377.4L690.4,376.2L692.9,374.2L695.4,376.4L698,380.9L700.5,371.6L703.1,380.5L705.6,385L708.1,384.2L710.7,376.7L713.2,386.1L715.8,398.8L718.3,380.1L720.8,382.8L723.4,374.1L725.9,383.7L728.5,380.6L731,381.9L733.5,380.7L736.1,386L738.6,371.9L741.1,371.6L743.7,380.6L746.2,389.4L746.2,398.8Z" fill="#4daf4a"/>
<path d="M748.8,398.5H779.2" stroke="#999999" stroke-width="1" stroke-opacity="0.55" fill="none"/>
<path d="M748.8,398.8L748.8,384.4L751.3,385.9L753.8,398.8L756.4,398.8L758.9,391.6L761.5,398.8L764,398.8L766.5,391.4L769.1,398.8L771.6,398.8L774.2,374.4L776.7,398.8L779.2,398.8L779.2,398.8Z" fill="#999999"/>
<path d="M781.8,398.5H860.5" stroke="#ffff33" stroke-width="1" stroke-opacity="0.55" fill="none"/>
<path d="M781.8,398.8L781.8,393.5L784.3,391L786.9,388.9L789.4,386.5L791.9,385.7L794.5,398.8L797,390.1L799.6,380.8L802.1,377.8L804.6,375L807.2,382.9L809.7,380.9L812.2,379.1L814.8,398.8L817.3,374L819.9,386.3L822.4,379.5L824.9,398.8L830,398.8L832.6,391.3L835.1,398.8L837.6,390.1L840.2,390.9L842.7,380.1L845.3,384.8L847.8,383.4L850.3,388.9L852.9,384.3L855.4,372.9L858,393.3L860.5,390.8L860.5,398.8Z" fill="#ffff33"/>
<path d="M863,398.5H1028.1" stroke="#a65628" stroke-width="1" stroke-opacity="0.55" fill="none"/>
<path d="M863,398.8L863,381.9L865.6,386.9L868.1,385.2L870.7,398.8L873.2,380.9L875.7,373.7L878.3,398.8L880.8,384.7L883.4,377.6L885.9,379.9L888.4,383.3L891,387L893.5,382.1L896,385.6L898.6,377.7L901.1,392.2L903.7,374L906.2,376.3L908.7,398.8L911.3,377.5L913.8,371.7L916.4,377.3L918.9,391.8L921.4,380.8L924,378.3L926.5,385.4L929.1,388.2L931.6,398.8L934.1,378.4L936.7,377.9L939.2,383.8L941.8,382.6L944.3,384.3L946.8,384.7L949.4,381.5L951.9,374.4L954.5,391.2L957,383.2L959.5,371L962.1,379.1L964.6,398.8L967.1,380.1L969.7,375.9L972.2,387.4L974.8,388.7L977.3,398.8L979.8,391.5L982.4,390.2L984.9,398.8L987.5,379.5L990,398.8L992.5,375.8L995.1,383.7L997.6,385.4L1000.2,378.6L1002.7,377.3L1005.2,379.5L1007.8,398.8L1012.9,398.8L1015.4,393L1017.9,398.8L1020.5,384.5L1023,393.5L1025.6,398.8L1028.1,379.6L1028.1,398.8Z" fill="#a65628"/>
<path d="M1030.6,398.5H1480.1" stroke="#e41a1c" stroke-width="1" stroke-opacity="0.55" fill="none"/>
<path d="M1030.6,398.8L1030.6,398.8L1038.2,398.8L1040.8,387.7L1043.3,398.8L1045.9,398.8L1048.4,386.3L1050.9,390.8L1053.5,390.9L1056,398.8L1058.6,398.8L1061.1,385.3L1063.6,383.6L1066.2,379.4L1068.7,398.8L1071.3,368.7L1073.8,382.4L1076.3,398.8L1078.9,383.5L1081.4,398.8L1084,398.8L1086.5,381L1089,398.8L1094.1,398.8L1096.7,382.1L1099.2,391.3L1101.7,398.8L1104.3,398.8L1106.8,383.6L1109.3,398.8L1114.4,398.8L1117,385L1119.5,398.8L1124.6,398.8L1127.1,386.9L1129.7,398.8L1137.3,398.8L1139.8,386.6L1142.4,383.9L1144.9,398.8L1155.1,398.8L1157.6,383.9L1160.1,398.8L1167.8,398.8L1170.3,382.7L1172.8,383.6L1175.4,398.8L1177.9,398.8L1180.4,380.2L1183,385.1L1185.5,398.8L1188.1,377.1L1190.6,398.8L1193.1,383.4L1195.7,398.8L1208.4,398.8L1210.9,369.4L1213.5,398.8L1218.5,398.8L1221.1,389.9L1223.6,398.8L1226.2,398.8L1228.7,388L1231.2,384L1233.8,384.7L1236.3,385.3L1238.9,376.8L1241.4,391.8L1243.9,376.9L1246.5,398.8L1249,398.8L1251.5,391.9L1254.1,398.8L1261.7,398.8L1264.2,380.1L1266.8,398.8L1269.3,398.8L1271.9,369.4L1274.4,379.6L1276.9,398.8L1279.5,369.8L1282,385.9L1284.6,398.8L1299.8,398.8L1302.3,379.1L1304.9,398.8L1307.4,385.7L1310,398.8L1312.5,380.1L1315,398.8L1317.6,398.8L1320.1,393.3L1322.6,393.3L1325.2,380.8L1327.7,398.8L1330.3,384.8L1332.8,398.8L1335.3,379.6L1337.9,389L1340.4,372.5L1343,371.6L1345.5,377.4L1348,379.1L1350.6,384.1L1353.1,398.8L1355.7,398.8L1358.2,386.6L1360.7,398.8L1363.3,378.4L1365.8,398.8L1368.4,384.2L1370.9,398.8L1373.4,379.6L1376,398.8L1388.7,398.8L1391.2,388.4L1393.7,398.8L1403.9,398.8L1406.4,377.3L1409,398.8L1411.5,398.8L1414.1,383.2L1416.6,378.8L1419.1,398.8L1421.7,398.8L1424.2,382.1L1426.8,382.8L1429.3,398.8L1436.9,398.8L1439.5,378.9L1442,398.8L1447.1,398.8L1449.6,381.5L1452.2,398.8L1454.7,383.5L1457.2,398.8L1462.3,398.8L1464.8,385L1467.4,385L1469.9,398.8L1475,398.8L1477.5,382.8L1480.1,389.5L1480.1,398.8Z" fill="#e41a1c"/>
<path d="M1482.6,398.5H1502.9" stroke="#ff7f00" stroke-width="1" stroke-opacity="0.55" fill="none"/>
<path d="M1482.6,398.8L1482.6,398.8L1485.2,387.2L1487.7,398.8L1490.2,371.2L1492.8,385L1495.3,377.2L1497.9,398.8L1500.4,398.8L1502.9,382.6L1502.9,398.8Z" fill="#ff7f00"/>
<path d="M1505.5,398.5H1881.3" stroke="#984ea3" stroke-width="1" stroke-opacity="0.55" fill="none"/>
<path d="M1505.5,398.8L1505.5,386.1L1508,398.8L1515.6,398.8L1518.2,388.8L1520.7,398.8L1523.3,398.8L1525.8,380.7L1528.3,371.3L1530.9,398.8L1533.4,398.8L1536,389.1L1538.5,398.8L1548.6,398.8L1551.2,389.5L1553.7,384.7L1556.3,379.4L1558.8,376.4L1561.3,398.8L1566.4,398.8L1569,372.5L1571.5,398.8L1576.6,398.8L1579.1,371.5L1581.7,398.8L1584.2,393.3L1586.7,398.8L1591.8,398.8L1594.4,385.7L1596.9,383.5L1599.4,398.8L1602,370.5L1604.5,398.8L1607.1,398.8L1609.6,384L1612.1,384.4L1614.7,398.8L1617.2,398.8L1619.7,385.4L1622.3,387.2L1624.8,378.8L1627.4,398.8L1629.9,388.8L1632.4,389.4L1635,380.1L1637.5,398.8L1640.1,398.8L1642.6,371.9L1645.1,387.1L1647.7,398.8L1650.2,398.8L1652.8,387.1L1655.3,385.9L1657.8,384.3L1660.4,391.5L1662.9,384.8L1665.5,398.8L1668,391.7L1670.5,390.6L1673.1,372.8L1675.6,398.8L1680.7,398.8L1683.2,392.1L1685.8,398.8L1688.3,398.8L1690.8,385.9L1693.4,398.8L1695.9,389.3L1698.5,398.8L1701,393.1L1703.5,398.8L1706.1,391L1708.6,381.4L1711.2,398.8L1713.7,380.9L1716.2,398.8L1726.4,398.8L1728.9,377.8L1731.5,386.4L1734,386.3L1736.6,384.7L1739.1,398.8L1741.6,390L1744.2,398.8L1749.3,398.8L1751.8,380.7L1754.3,386.4L1756.9,398.8L1761.9,398.8L1764.5,389.3L1767,398.8L1769.6,375.2L1772.1,398.8L1774.6,392.5L1777.2,379.5L1779.7,381.7L1782.3,398.8L1784.8,398.8L1787.3,383.6L1789.9,382.8L1792.4,384.6L1795,392.1L1797.5,398.8L1805.1,398.8L1807.7,387.4L1810.2,388.9L1812.7,398.8L1815.3,372.2L1817.8,398.8L1820.4,387.8L1822.9,380.1L1825.4,380.7L1828,398.8L1830.5,393.3L1833,379L1835.6,398.8L1838.1,382.1L1840.7,398.8L1843.2,398.8L1845.7,382.7L1848.3,384.2L1850.8,398.8L1853.4,385.7L1855.9,391.5L1858.4,384.5L1861,398.8L1863.5,380.5L1866.1,398.8L1871.1,398.8L1873.7,377.8L1876.2,372.2L1878.8,398.8L1881.3,390.5L1881.3,398.8Z" fill="#984ea3"/>
<path d="M1883.8,398.5H1970.2" stroke="#f781bf" stroke-width="1" stroke-opacity="0.55" fill="none"/>
<path d="M1883.8,398.8L1883.8,398.8L1888.9,398.8L1891.5,385.1L1894,398.8L1896.5,393.2L1899.1,385.6L1901.6,398.8L1904.1,379.2L1906.7,398.8L1909.2,384L1911.8,398.8L1914.3,388.2L1916.8,398.8L1919.4,383.7L1921.9,398.8L1924.5,392.7L1927,384.7L1929.5,398.8L1934.6,398.8L1937.2,389.1L1939.7,398.8L1942.2,398.8L1944.8,392L1947.3,398.8L1949.9,386.2L1952.4,398.8L1954.9,398.8L1957.5,385L1960,391.2L1962.6,389.7L1965.1,380.4L1967.6,398.8L1970.2,398.8L1970.2,398.8Z" fill="#f781bf"/>
</g>
<g>
<path d="M195.2,436.5H357.7" stroke="#377eb8" stroke-width="1" stroke-opacity="0.55" fill="none"/>
<path d="M195.2,436.8L195.2,417.2L197.7,411.6L200.3,410.6L202.8,413.8L205.4,416.6L207.9,419.3L210.4,414.6L213,418L215.5,415.9L218.1,415.1L220.6,414.7L223.1,410.9L225.7,413.1L228.2,414L230.8,408.4L233.3,414.2L235.8,407.7L238.4,414.4L240.9,412.9L243.4,418.1L246,414L248.5,417.7L251.1,409.1L253.6,413.6L256.1,409.1L258.7,412.5L261.2,418L263.8,422.8L266.3,414.7L268.8,436.8L271.4,416.4L273.9,415.9L276.5,413.1L279,413.9L281.5,415.3L284.1,413.1L286.6,416.8L289.2,417.6L291.7,416.1L294.2,410.4L296.8,412L299.3,415.6L301.9,412.7L304.4,411.9L306.9,418.1L309.5,407.3L312,415.6L314.5,418.3L317.1,413.9L319.6,413.5L322.2,409.4L324.7,409.6L327.2,415.8L329.8,416.2L332.3,415.4L334.9,415.4L337.4,417.8L339.9,414.7L342.5,409.7L345,410.9L347.6,415.4L350.1,418.8L352.6,411.8L355.2,409.8L357.7,419.4L357.7,436.8Z" fill="#377eb8"/>
<path d="M360.3,436.5H746.2" stroke="#4daf4a" stroke-width="1" stroke-opacity="0.55" fill="none"/>
<path d="M360.3,436.8L360.3,411.7L362.8,411L365.3,413.5L367.9,416.8L370.4,408.5L373,415.2L375.5,422.3L378,415.3L380.6,418.6L383.1,410.8L385.6,412.1L388.2,418.5L390.7,420.5L393.3,409.8L395.8,414.6L398.3,414.5L400.9,417.3L403.4,414.7L406,413.6L408.5,417.8L411,415.3L413.6,417.9L416.1,411.8L418.7,420.9L421.2,419.6L423.7,411.8L426.3,436.8L428.8,416.8L431.4,413.1L433.9,417.8L436.4,420.6L439,413L441.5,414.4L444.1,416.8L446.6,412L449.1,412.5L451.7,413.2L454.2,414.9L456.7,411.6L459.3,411.4L461.8,423.3L464.4,409.2L466.9,414.7L469.4,411.8L472,410.8L474.5,409.3L477.1,415L479.6,417.9L482.1,408.4L484.7,411.9L487.2,414.1L489.8,413L492.3,413.5L494.8,412.9L497.4,416.3L499.9,413.1L502.5,413.1L505,419L507.5,411.6L510.1,412L512.6,427.6L515.2,415L517.7,402L520.2,415L522.8,416.2L525.3,412.5L527.8,412.8L530.4,420.8L532.9,411.4L535.5,411.8L538,413.4L540.5,413.4L543.1,414.7L545.6,416.9L548.2,418.9L550.7,416.7L553.2,413.9L555.8,412.3L558.3,416.2L560.9,421.9L563.4,413.9L565.9,409.5L568.5,413L571,422.6L573.6,410.3L576.1,410.4L578.6,422.2L581.2,415L583.7,410.3L586.3,411.7L588.8,413.8L591.3,409.7L593.9,405L596.4,414.6L598.9,411.2L601.5,413.9L604,416.2L606.6,410.5L609.1,416.6L611.6,417.7L614.2,415.7L616.7,411.5L619.3,417.5L621.8,417.9L624.3,417.5L626.9,415.2L629.4,420.6L632,412.9L634.5,414.8L637,414L639.6,416.5L642.1,418.1L644.7,416.2L647.2,415.7L649.7,417.9L652.3,416.9L654.8,411.8L657.4,414.8L659.9,403.1L662.4,417.3L665,413.8L667.5,421L670,406.3L672.6,417.3L675.1,417.3L677.7,406.4L680.2,414.7L682.7,415.6L685.3,412L687.8,415.6L690.4,409.9L692.9,414L695.4,423.1L698,411.6L700.5,416.4L703.1,410.9L705.6,414.6L708.1,416L710.7,416.2L713.2,414.5L715.8,415.4L718.3,409.2L720.8,413.4L723.4,410.1L725.9,410.9L728.5,436.8L731,418.7L733.5,417.2L736.1,415.4L738.6,413.7L741.1,419.9L743.7,415.8L746.2,421.9L746.2,436.8Z" fill="#4daf4a"/>
<path d="M748.8,436.5H779.2" stroke="#999999" stroke-width="1" stroke-opacity="0.55" fill="none"/>
<path d="M748.8,436.8L748.8,405L751.3,404.9L753.8,404L756.4,405L758.9,406.3L761.5,405.2L764,405L766.5,404.1L769.1,405.2L771.6,405.8L774.2,402.7L776.7,406.3L779.2,403.7L779.2,436.8Z" fill="#999999"/>
<path d="M781.8,436.5H860.5" stroke="#ffff33" stroke-width="1" stroke-opacity="0.55" fill="none"/>
<path d="M781.8,436.8L781.8,415.9L784.3,415L786.9,414.7L789.4,419.6L791.9,422L794.5,422.7L797,422.1L799.6,420L802.1,418.6L804.6,424.6L807.2,414.6L809.7,423.6L812.2,420.1L814.8,436.8L817.3,420.3L819.9,413.9L822.4,409.8L824.9,418.8L827.5,418.5L830,418.9L832.6,418.2L835.1,418L837.6,407.2L840.2,421.8L842.7,417.8L845.3,420.6L847.8,415.9L850.3,419.5L852.9,415L855.4,421.8L858,408.7L860.5,416.5L860.5,436.8Z" fill="#ffff33"/>
<path d="M863,436.5H1028.1" stroke="#a65628" stroke-width="1" stroke-opacity="0.55" fill="none"/>
<path d="M863,436.8L863,410.6L865.6,416.1L868.1,420.3L870.7,415.2L873.2,407.3L875.7,413.6L878.3,415.2L880.8,424.2L883.4,416.8L885.9,412.4L888.4,419.1L891,408.8L893.5,417.4L896,418.8L898.6,417.5L901.1,415.3L903.7,410.3L906.2,417.4L908.7,422.9L911.3,415.2L913.8,412.5L916.4,407.9L918.9,419.9L921.4,408.2L924,411.8L926.5,412.8L929.1,418.3L931.6,418.8L934.1,419.2L936.7,410.6L939.2,436.8L941.8,413.9L944.3,410L946.8,406.6L949.4,414.8L951.9,415.1L954.5,406.2L957,420.8L959.5,416.9L962.1,416.5L964.6,416.6L967.1,414.2L969.7,418.6L972.2,436.8L974.8,409.6L977.3,421L979.8,436.8L982.4,418.5L984.9,422.5L987.5,421.2L990,412.2L992.5,412L995.1,415.7L997.6,411.1L1000.2,412.1L1002.7,417.5L1005.2,415L1007.8,413.2L1010.3,405.8L1012.9,416.9L1015.4,413.2L1017.9,412.4L1020.5,409.4L1023,412.9L1025.6,410L1028.1,419.7L1028.1,436.8Z" fill="#a65628"/>
<path d="M1030.6,436.5H1480.1" stroke="#e41a1c" stroke-width="1" stroke-opacity="0.55" fill="none"/>
<path d="M1030.6,436.8L1030.6,419.4L1033.2,422.9L1035.7,418L1038.2,411L1040.8,412.5L1043.3,420.4L1045.9,416.5L1048.4,424.9L1050.9,417.6L1053.5,422L1056,414.9L1058.6,425.7L1061.1,421.1L1063.6,423.5L1066.2,421.5L1068.7,419.1L1071.3,409L1073.8,436.8L1076.3,416.1L1078.9,415L1081.4,421.4L1084,420.9L1086.5,420.4L1089,419.9L1091.6,416.4L1094.1,415.7L1096.7,417.3L1099.2,420.2L1101.7,416.7L1104.3,436.8L1106.8,418.2L1109.3,423L1111.9,422.4L1114.4,416.1L1117,427.2L1119.5,424.9L1122,415.8L1124.6,412.5L1127.1,413.9L1129.7,422.5L1132.2,415.6L1134.7,415.3L1137.3,425.3L1139.8,436.8L1142.4,423.3L1144.9,412.8L1147.4,417.6L1150,417.9L1152.5,436.8L1155.1,424.3L1157.6,418.5L1160.1,416.3L1162.7,423.2L1165.2,419.6L1167.8,419.4L1170.3,421.1L1172.8,407.8L1175.4,423.5L1177.9,416.4L1180.4,422.5L1183,408.5L1185.5,436.8L1188.1,428.8L1190.6,422.8L1193.1,424.2L1195.7,420L1198.2,418.9L1200.8,417L1203.3,415.1L1205.8,415.6L1208.4,421L1210.9,419.7L1213.5,436.8L1216,414.1L1218.5,425.4L1221.1,436.8L1223.6,419.9L1226.2,421.5L1228.7,419.2L1231.2,418.8L1233.8,421.9L1236.3,417.4L1238.9,424L1241.4,420.2L1243.9,420.2L1246.5,436.8L1249,418.5L1251.5,422.1L1254.1,418.8L1256.6,420.8L1259.2,415.7L1261.7,416.7L1264.2,421.4L1266.8,419.5L1269.3,415.5L1271.9,414.1L1274.4,420.9L1276.9,423L1279.5,421.5L1282,418.1L1284.6,414L1287.1,428.1L1289.6,436.8L1294.7,436.8L1297.3,416.2L1299.8,413.8L1302.3,424.2L1304.9,415L1307.4,414.5L1310,413.2L1312.5,413L1315,415.2L1317.6,418.1L1320.1,419.5L1322.6,422.1L1325.2,421.9L1327.7,427.2L1330.3,420.5L1332.8,416.9L1335.3,420.4L1337.9,421.2L1340.4,417.6L1343,420.9L1345.5,421.6L1348,422.3L1350.6,426.1L1353.1,414.1L1355.7,414.4L1358.2,419.5L1360.7,419.5L1363.3,420.9L1365.8,421L1368.4,423L1370.9,415L1373.4,418.9L1376,420.7L1378.5,421.9L1381.1,421.7L1383.6,415.9L1386.1,415.3L1388.7,414.6L1391.2,421.1L1393.7,413.9L1396.3,416.7L1398.8,418L1401.4,419.1L1403.9,419.9L1406.4,420.8L1409,419.3L1411.5,423L1414.1,412.8L1416.6,414.8L1419.1,421.3L1421.7,421.2L1424.2,413.5L1426.8,409.8L1429.3,419.3L1431.8,416.3L1434.4,413.6L1436.9,417.6L1439.5,416.8L1442,414.4L1444.5,421.6L1447.1,426.6L1449.6,417.3L1452.2,436.8L1454.7,420.7L1457.2,418.7L1459.8,429.3L1462.3,422L1464.8,414.2L1467.4,428.5L1469.9,418.8L1472.5,416.7L1475,415.9L1477.5,409.5L1480.1,415.6L1480.1,436.8Z" fill="#e41a1c"/>
<path d="M1482.6,436.5H1502.9" stroke="#ff7f00" stroke-width="1" stroke-opacity="0.55" fill="none"/>
<path d="M1482.6,436.8L1482.6,416.6L1485.2,415.6L1487.7,414.6L1490.2,409.7L1492.8,411.3L1495.3,420.3L1497.9,418.2L1500.4,415.5L1502.9,411.8L1502.9,436.8Z" fill="#ff7f00"/>
<path d="M1505.5,436.5H1881.3" stroke="#984ea3" stroke-width="1" stroke-opacity="0.55" fill="none"/>
<path d="M1505.5,436.8L1505.5,409.8L1508,414.8L1510.6,418.5L1513.1,419.5L1515.6,411L1518.2,420.3L1520.7,414.8L1523.3,418.7L1525.8,420.2L1528.3,418.6L1530.9,418.8L1533.4,411L1536,419.4L1538.5,419.2L1541,425.1L1543.6,419.2L1546.1,424.4L1548.6,420.3L1551.2,427.5L1553.7,421.6L1556.3,413L1558.8,416.2L1561.3,422.6L1563.9,418.9L1566.4,412L1569,418L1571.5,422.1L1574,416.3L1576.6,422.6L1579.1,418.2L1581.7,416.4L1584.2,417.2L1586.7,420.2L1589.3,410.2L1591.8,436.8L1594.4,410.9L1596.9,414.6L1599.4,411.8L1602,416L1604.5,416.1L1607.1,419.6L1609.6,418.9L1612.1,415.2L1614.7,418.2L1617.2,421.3L1619.7,419.5L1622.3,419L1624.8,424.8L1627.4,421.7L1629.9,415.3L1632.4,425.9L1635,416.9L1637.5,412.6L1640.1,419.5L1642.6,414.8L1645.1,416.2L1647.7,419.1L1650.2,422.9L1652.8,419.3L1655.3,416.3L1657.8,417.3L1660.4,417.5L1662.9,412.7L1665.5,415L1668,417.8L1670.5,415L1673.1,436.8L1675.6,420.1L1678.2,425L1680.7,419.5L1683.2,414L1685.8,415.7L1688.3,415.9L1690.8,415.3L1693.4,418.9L1695.9,411.6L1698.5,418.6L1701,417.9L1703.5,415.6L1706.1,421.1L1708.6,412.8L1711.2,411.7L1713.7,415.9L1716.2,419.3L1718.8,410.8L1721.3,419.5L1723.9,417L1726.4,416.8L1728.9,412.4L1731.5,422.1L1734,411.9L1736.6,413.4L1739.1,416.2L1741.6,422.1L1744.2,411.7L1746.7,426.2L1749.3,420.2L1751.8,410.8L1754.3,414.2L1756.9,418.5L1759.4,419.2L1761.9,422.1L1764.5,414.2L1767,420.8L1769.6,417.4L1772.1,414.2L1774.6,418.9L1777.2,417.5L1779.7,412.1L1782.3,422.9L1784.8,416.7L1787.3,411.3L1789.9,417.9L1792.4,418.6L1795,415.9L1797.5,423.1L1800,417.6L1802.6,415.4L1805.1,418.2L1807.7,410.8L1810.2,423.6L1812.7,415.6L1815.3,416L1817.8,415.5L1820.4,421.4L1822.9,410.8L1825.4,416.2L1828,436.8L1830.5,415.8L1833,417L1835.6,418.6L1838.1,417.7L1840.7,418.3L1843.2,416.9L1845.7,411.6L1848.3,414.3L1850.8,419.7L1853.4,417.9L1855.9,416.7L1858.4,418.5L1861,414.7L1863.5,415.6L1866.1,422.6L1868.6,416L1871.1,421.4L1873.7,417.6L1876.2,418.8L1878.8,419.3L1881.3,415L1881.3,436.8Z" fill="#984ea3"/>
<path d="M1883.8,436.5H1970.2" stroke="#f781bf" stroke-width="1" stroke-opacity="0.55" fill="none"/>
<path d="M1883.8,436.8L1883.8,419.6L1886.4,417.2L1888.9,421.8L1891.5,422.4L1894,414.2L1896.5,420.6L1899.1,419.8L1901.6,414.8L1904.1,419.2L1906.7,415L1909.2,425.3L1911.8,417L1914.3,412.3L1916.8,422.5L1919.4,426.6L1921.9,417.3L1924.5,413.7L1927,412.8L1929.5,422.5L1932.1,423.4L1934.6,426.8L1937.2,413.3L1939.7,412.2L1942.2,417.4L1944.8,417.1L1947.3,421.2L1949.9,417.3L1952.4,420.4L1954.9,418.3L1957.5,422L1960,420.2L1962.6,417.3L1965.1,416.8L1967.6,423.3L1970.2,410.9L1970.2,436.8Z" fill="#f781bf"/>
</g>
<g>
<path d="M195.2,474.5H357.7" stroke="#377eb8" stroke-width="1" stroke-opacity="0.55" fill="none"/>
<path d="M195.2,474.8L195.2,446.5L197.7,454L200.3,456.3L202.8,445.8L205.4,456.2L207.9,453L210.4,451.1L213,458.2L215.5,454.5L218.1,452.3L220.6,451.3L223.1,453.6L225.7,452.4L228.2,453L230.8,458.3L233.3,453.3L235.8,448.1L238.4,452.2L240.9,449.9L243.4,449.3L246,445.6L248.5,458.8L251.1,450.6L253.6,456.8L256.1,446.4L258.7,457.5L261.2,455.9L263.8,456.7L266.3,449.2L268.8,448.5L271.4,442.1L273.9,454.9L276.5,457L279,453.7L281.5,454L284.1,454L286.6,449.9L289.2,452.1L291.7,453.1L294.2,460.3L296.8,449.7L299.3,451.2L301.9,459L304.4,453.5L306.9,449.7L309.5,474.8L312,453.5L314.5,455.8L317.1,453.2L319.6,456.3L322.2,452.2L324.7,457.9L327.2,447.7L329.8,463.5L332.3,461.3L334.9,444.1L337.4,444.1L339.9,452L342.5,447.4L345,451.5L347.6,457.9L350.1,447.9L352.6,453.6L355.2,449.9L357.7,451.4L357.7,474.8Z" fill="#377eb8"/>
<path d="M360.3,474.5H746.2" stroke="#4daf4a" stroke-width="1" stroke-opacity="0.55" fill="none"/>
<path d="M360.3,474.8L360.3,456.3L362.8,448.1L365.3,449.8L367.9,451.3L370.4,454.2L373,451.7L375.5,452.5L378,456L380.6,451.6L383.1,450.4L385.6,447.7L388.2,446.3L390.7,452.8L393.3,461.1L395.8,449.5L398.3,450.8L400.9,445.6L403.4,452.9L406,450L408.5,474.8L411,450.1L413.6,447.4L416.1,454L418.7,454.5L421.2,450.3L423.7,451L426.3,454.8L428.8,452.6L431.4,456.5L433.9,456.5L436.4,454.6L439,451.1L441.5,455.5L444.1,446.2L446.6,450.7L449.1,453.9L451.7,450.7L454.2,449.6L456.7,454.5L459.3,447.8L461.8,449.6L464.4,446.3L466.9,446.8L469.4,449.7L472,458.8L474.5,453.1L477.1,450L479.6,451.3L482.1,456L484.7,452.5L487.2,446.8L489.8,453.8L492.3,452L494.8,443.6L497.4,455.8L499.9,449.3L502.5,454.7L505,452.3L507.5,454.2L510.1,451.2L512.6,450L515.2,453.9L517.7,446.7L520.2,450.9L522.8,453.1L525.3,454.4L527.8,455.3L530.4,451.5L532.9,448.7L535.5,454.2L538,453.2L540.5,455.9L543.1,447.5L545.6,452.2L548.2,458L550.7,455.4L553.2,449.2L555.8,454.5L558.3,447.7L560.9,447L563.4,448.9L565.9,446.1L568.5,458L571,447.5L573.6,460.3L576.1,452L578.6,452.1L581.2,450.3L583.7,445.5L586.3,446.2L588.8,452.9L591.3,450.5L593.9,449.1L596.4,455.5L598.9,450L601.5,447.8L604,450.8L606.6,450.6L609.1,451.5L611.6,449.2L614.2,449.6L616.7,451.1L619.3,448.3L621.8,449.5L624.3,448.1L626.9,455.7L629.4,450L632,453.6L634.5,456.9L637,448.5L639.6,453.2L642.1,453.3L644.7,453.5L647.2,455.5L649.7,452.9L652.3,451.6L654.8,454.2L657.4,452.7L659.9,455.8L662.4,444.9L665,452.3L667.5,455.7L670,447.3L672.6,447.7L675.1,454.1L677.7,448L680.2,447.3L682.7,453.5L685.3,448.5L687.8,447.3L690.4,449L692.9,450.9L695.4,447L698,451.6L700.5,452.9L703.1,451.2L705.6,454.3L708.1,447.3L710.7,449.3L713.2,450.7L715.8,456.2L718.3,452.3L720.8,450.1L723.4,449.5L725.9,453.3L728.5,474.8L731,447L733.5,454.8L736.1,450.6L738.6,448.6L741.1,449L743.7,451L746.2,450.2L746.2,474.8Z" fill="#4daf4a"/>
<path d="M748.8,474.5H779.2" stroke="#999999" stroke-width="1" stroke-opacity="0.55" fill="none"/>
<path d="M748.8,474.8L748.8,448.9L751.3,442.4L753.8,439.8L756.4,448.2L758.9,445.3L761.5,443.6L764,442.1L766.5,439.4L769.1,443.4L771.6,446.6L774.2,447L776.7,439.9L779.2,445.4L779.2,474.8Z" fill="#999999"/>
<path d="M781.8,474.5H860.5" stroke="#ffff33" stroke-width="1" stroke-opacity="0.55" fill="none"/>
<path d="M781.8,474.8L781.8,461.3L784.3,461.4L786.9,450.5L789.4,450.5L791.9,446.9L794.5,474.8L797,458.9L799.6,443.9L802.1,449.7L804.6,454.8L807.2,455.3L809.7,454.9L812.2,474.8L814.8,459L817.3,450.1L819.9,456.3L822.4,456.8L824.9,451.3L827.5,453.1L830,456.2L832.6,454.6L835.1,455.8L837.6,447.6L840.2,449.1L842.7,456.8L845.3,453.7L847.8,447.5L850.3,454.9L852.9,445.7L855.4,451.6L858,450.6L860.5,462.9L860.5,474.8Z" fill="#ffff33"/>
<path d="M863,474.5H1028.1" stroke="#a65628" stroke-width="1" stroke-opacity="0.55" fill="none"/>
<path d="M863,474.8L863,451.6L865.6,474.8L868.1,455.3L870.7,455L873.2,461.4L875.7,457.6L878.3,450.1L880.8,452.2L883.4,453L885.9,456.4L888.4,459.2L891,454.3L893.5,453.2L896,458.4L898.6,452.8L901.1,457.2L903.7,448.4L906.2,455L908.7,459.7L911.3,450.8L913.8,453.7L916.4,459.2L918.9,456.2L921.4,460.5L924,447.8L926.5,456.8L929.1,459.2L931.6,458.2L934.1,455.9L936.7,452L939.2,456.7L941.8,456.3L944.3,454.4L946.8,456.1L949.4,458.2L951.9,451.4L954.5,456.5L957,457.4L959.5,455.2L962.1,449.5L964.6,448.4L967.1,461.6L969.7,457.7L972.2,454.9L974.8,461.5L977.3,458.3L979.8,455.5L982.4,454.9L984.9,457.6L987.5,451.4L990,448.7L992.5,447.8L995.1,458.9L997.6,452.3L1000.2,452.8L1002.7,451.6L1005.2,450.1L1007.8,451.9L1010.3,454.2L1012.9,455.3L1015.4,452.5L1017.9,453.8L1020.5,456.9L1023,448.2L1025.6,448.2L1028.1,461.7L1028.1,474.8Z" fill="#a65628"/>
<path d="M1030.6,474.5H1480.1" stroke="#e41a1c" stroke-width="1" stroke-opacity="0.55" fill="none"/>
<path d="M1030.6,474.8L1030.6,456.9L1033.2,474.8L1035.7,457.6L1038.2,474.8L1040.8,451.7L1043.3,461.8L1045.9,466.4L1048.4,456.9L1050.9,455L1053.5,454.1L1056,459.4L1058.6,465.8L1061.1,467.7L1063.6,446.9L1066.2,458.3L1068.7,458.6L1071.3,474.8L1073.8,456.1L1076.3,474.8L1078.9,456.2L1081.4,461.1L1084,459.2L1086.5,457.8L1089,452.5L1091.6,448.6L1094.1,452.7L1096.7,474.8L1099.2,454.4L1101.7,462.4L1104.3,474.8L1106.8,461.2L1109.3,456.1L1111.9,460.8L1114.4,460L1117,446.1L1119.5,459.2L1122,458.7L1124.6,465.9L1127.1,455.4L1129.7,456.4L1132.2,458.8L1134.7,455.5L1137.3,469.3L1139.8,451.2L1142.4,451.6L1144.9,467.4L1147.4,456.9L1150,454.3L1152.5,453.8L1155.1,456.9L1157.6,474.8L1160.1,452.2L1162.7,455.5L1165.2,474.8L1167.8,474.8L1170.3,459.6L1172.8,450.9L1175.4,463.2L1177.9,459.8L1180.4,459.8L1183,474.8L1185.5,450.3L1188.1,460.2L1190.6,464.2L1193.1,474.8L1195.7,462.5L1198.2,456.5L1200.8,457.7L1203.3,456.2L1205.8,463.7L1208.4,456.1L1210.9,453.9L1213.5,474.8L1216,449.1L1218.5,450.9L1221.1,463.7L1223.6,455.3L1226.2,462.3L1228.7,455.8L1231.2,454.2L1233.8,458.5L1236.3,469.5L1238.9,457.1L1241.4,457.1L1243.9,460L1246.5,454.1L1249,459.3L1251.5,458.7L1254.1,455.1L1256.6,460.9L1259.2,454L1261.7,459.7L1264.2,458.4L1266.8,454.8L1269.3,451.5L1271.9,458.8L1274.4,456.7L1276.9,474.8L1279.5,458.9L1282,474.8L1284.6,464.6L1287.1,474.8L1289.6,459.4L1292.2,446.7L1294.7,458.5L1297.3,453.9L1299.8,454.8L1302.3,451.8L1304.9,457.5L1307.4,454.1L1310,474.8L1315,474.8L1317.6,458.4L1320.1,446.5L1322.6,474.8L1325.2,455.7L1327.7,458L1330.3,451.6L1332.8,461.3L1335.3,452.8L1337.9,447.3L1340.4,461.9L1343,474.8L1345.5,454.9L1348,459.9L1350.6,457.1L1353.1,458.3L1355.7,474.8L1358.2,467L1360.7,474.8L1363.3,451.9L1365.8,474.8L1368.4,457.6L1370.9,453.1L1373.4,460.4L1376,474.8L1378.5,459.1L1381.1,459.2L1383.6,463.9L1386.1,448.9L1388.7,451.7L1391.2,451.1L1393.7,454.4L1396.3,458.9L1398.8,474.8L1401.4,455.4L1403.9,443.3L1406.4,449.9L1409,455.9L1411.5,474.8L1414.1,474.8L1416.6,462.3L1419.1,474.8L1421.7,454.1L1424.2,469.1L1426.8,452.4L1429.3,460L1431.8,474.8L1436.9,474.8L1439.5,458.3L1442,452L1444.5,450.1L1447.1,474.8L1449.6,458.3L1452.2,461.7L1454.7,465.2L1457.2,462.4L1459.8,454.3L1462.3,455.7L1464.8,459.9L1467.4,456.8L1469.9,458.2L1472.5,463.3L1475,458.8L1477.5,451.2L1480.1,449.2L1480.1,474.8Z" fill="#e41a1c"/>
<path d="M1482.6,474.5H1502.9" stroke="#ff7f00" stroke-width="1" stroke-opacity="0.55" fill="none"/>
<path d="M1482.6,474.8L1482.6,451.9L1485.2,454.2L1487.7,454.9L1490.2,457.1L1492.8,474.8L1495.3,454.6L1497.9,444.3L1500.4,446.9L1502.9,463L1502.9,474.8Z" fill="#ff7f00"/>
<path d="M1505.5,474.5H1881.3" stroke="#984ea3" stroke-width="1" stroke-opacity="0.55" fill="none"/>
<path d="M1505.5,474.8L1505.5,455.3L1508,455.2L1510.6,453L1513.1,461.4L1515.6,458.5L1518.2,458.7L1520.7,457L1523.3,446.8L1525.8,456.9L1528.3,456.2L1530.9,458.1L1533.4,452.8L1536,445.6L1538.5,451.3L1541,474.8L1543.6,449.8L1546.1,460.4L1548.6,451.7L1551.2,455.9L1553.7,451L1556.3,451.8L1558.8,453.4L1561.3,462.8L1563.9,455.5L1566.4,458.1L1569,454.2L1571.5,455.9L1574,451.8L1576.6,462.5L1579.1,459L1581.7,456.3L1584.2,454.7L1586.7,457.7L1589.3,456.2L1591.8,474.8L1594.4,455.8L1596.9,451.8L1599.4,456.5L1602,455.1L1604.5,463.4L1607.1,466.7L1609.6,462L1612.1,454.6L1614.7,465.4L1617.2,454.4L1619.7,456.4L1622.3,474.8L1624.8,456L1627.4,459L1629.9,457.7L1632.4,452.7L1635,454.6L1637.5,456.1L1640.1,458L1642.6,455.2L1645.1,451.2L1647.7,456.1L1650.2,457.5L1652.8,460.8L1655.3,455.6L1657.8,459.8L1660.4,461.9L1662.9,452.5L1665.5,458.6L1668,464.3L1670.5,459L1673.1,474.8L1675.6,448.6L1678.2,456.5L1680.7,461.4L1683.2,460.5L1685.8,453.1L1688.3,454.4L1690.8,455.2L1693.4,456.8L1695.9,454.1L1698.5,449.8L1701,454.1L1703.5,456.7L1706.1,461.7L1708.6,454.2L1711.2,449.7L1713.7,453.4L1716.2,461.1L1718.8,455.3L1721.3,450.8L1723.9,458.6L1726.4,454L1728.9,451.1L1731.5,449.4L1734,462.5L1736.6,463.1L1739.1,454.5L1741.6,453.2L1744.2,457.5L1746.7,456.1L1749.3,457.7L1751.8,451.2L1754.3,465L1756.9,455L1759.4,461.2L1761.9,458.8L1764.5,462.3L1767,459.7L1769.6,456.1L1772.1,455.9L1774.6,448.8L1777.2,474.8L1779.7,456.9L1782.3,454.6L1784.8,454.6L1787.3,455L1789.9,450.1L1792.4,455.5L1795,455.4L1797.5,456.5L1800,456L1802.6,456.3L1805.1,452L1807.7,456L1810.2,455.8L1812.7,456.2L1815.3,453L1817.8,458L1820.4,452.2L1822.9,458.4L1825.4,453.2L1828,448.2L1830.5,455.1L1833,456.4L1835.6,460.8L1838.1,453L1840.7,456L1843.2,452.3L1845.7,458.7L1848.3,453.9L1850.8,448.7L1853.4,454.4L1855.9,457.4L1858.4,461.3L1861,456.1L1863.5,453.4L1866.1,474.8L1868.6,453.6L1871.1,460.6L1873.7,460.2L1876.2,460L1878.8,460.2L1881.3,474.8L1881.3,474.8Z" fill="#984ea3"/>
<path d="M1883.8,474.5H1970.2" stroke="#f781bf" stroke-width="1" stroke-opacity="0.55" fill="none"/>
<path d="M1883.8,474.8L1883.8,452.6L1886.4,452.3L1888.9,457.2L1891.5,457.8L1894,460.5L1896.5,455.2L1899.1,454.2L1901.6,456.5L1904.1,456.2L1906.7,454.7L1909.2,454.2L1911.8,452.5L1914.3,451.6L1916.8,452.9L1919.4,450.7L1921.9,457.3L1924.5,452.4L1927,453.1L1929.5,457.6L1932.1,456.4L1934.6,452.9L1937.2,454L1939.7,458.3L1942.2,456L1944.8,449.4L1947.3,451.6L1949.9,454L1952.4,450L1954.9,457.2L1957.5,454.8L1960,451.2L1962.6,455.3L1965.1,457.8L1967.6,452.4L1970.2,449.2L1970.2,474.8Z" fill="#f781bf"/>
</g>
<g>
<path d="M195.2,512.5H357.7" stroke="#377eb8" stroke-width="1" stroke-opacity="0.55" fill="none"/>
<path d="M195.2,512.8L195.2,512.8L197.7,491.2L200.3,500.6L202.8,493.1L205.4,492.5L207.9,497.7L210.4,512.8L215.5,512.8L218.1,490.8L220.6,497.4L223.1,512.8L225.7,512.8L228.2,491.1L230.8,498.1L233.3,481.5L235.8,501.2L238.4,497L240.9,512.8L243.4,502.2L246,512.8L248.5,512.8L251.1,498.7L253.6,512.8L256.1,512.8L258.7,485.4L261.2,494L263.8,494.4L266.3,482.3L268.8,512.8L271.4,506.4L273.9,492L276.5,500.8L279,512.8L284.1,512.8L286.6,491.1L289.2,512.8L291.7,487.2L294.2,499.4L296.8,496.3L299.3,512.8L301.9,512.8L304.4,505.3L306.9,512.8L309.5,482.6L312,496.7L314.5,493.9L317.1,491.3L319.6,512.8L322.2,490.1L324.7,512.8L327.2,488.5L329.8,504.3L332.3,494.4L334.9,498.6L337.4,492.1L339.9,512.8L342.5,512.8L345,493.1L347.6,512.8L350.1,496L352.6,512.8L355.2,496.9L357.7,512.8L357.7,512.8Z" fill="#377eb8"/>
<path d="M360.3,512.5H746.2" stroke="#4daf4a" stroke-width="1" stroke-opacity="0.55" fill="none"/>
<path d="M360.3,512.8L360.3,501.4L362.8,499.7L365.3,507.1L367.9,512.8L370.4,505.8L373,512.8L375.5,487.8L378,512.8L380.6,496L383.1,505.8L385.6,495.9L388.2,512.8L390.7,495.9L393.3,487.6L395.8,486.1L398.3,505.7L400.9,492L403.4,504.6L406,512.8L408.5,504.5L411,512.8L413.6,512.8L416.1,491.4L418.7,489.2L421.2,512.8L423.7,495.9L426.3,504.6L428.8,496.2L431.4,492L433.9,512.8L436.4,497.5L439,493.7L441.5,502L444.1,499.2L446.6,497.6L449.1,512.8L451.7,488.4L454.2,512.8L461.8,512.8L464.4,488.5L466.9,491.9L469.4,504L472,512.8L474.5,499.4L477.1,512.8L479.6,512.8L482.1,493.3L484.7,512.8L492.3,512.8L494.8,489.6L497.4,512.8L502.5,512.8L505,499.9L507.5,499.2L510.1,512.8L512.6,494.6L515.2,512.8L517.7,483.3L520.2,512.8L522.8,503.3L525.3,512.8L527.8,489.4L530.4,512.8L532.9,512.8L535.5,493L538,512.8L540.5,502.9L543.1,512.8L545.6,497.3L548.2,512.8L550.7,512.8L553.2,505.9L555.8,493L558.3,493.2L560.9,495.6L563.4,491.7L565.9,485.4L568.5,506.3L571,496.6L573.6,512.8L576.1,501.9L578.6,486.7L581.2,512.8L583.7,489.7L586.3,512.8L588.8,492.5L591.3,499.6L593.9,512.8L596.4,512.8L598.9,500.5L601.5,512.8L604,512.8L606.6,505.3L609.1,503.6L611.6,495.1L614.2,512.8L616.7,483.2L619.3,505L621.8,497.1L624.3,512.8L626.9,504.4L629.4,512.8L637,512.8L639.6,499.1L642.1,512.8L644.7,485.7L647.2,512.8L649.7,502.5L652.3,512.8L657.4,512.8L659.9,499.1L662.4,495.8L665,483.6L667.5,482.3L670,502.4L672.6,493.5L675.1,497.9L677.7,496.9L680.2,486.2L682.7,491.7L685.3,499L687.8,499.2L690.4,486.6L692.9,499.8L695.4,492.7L698,506.7L700.5,503L703.1,487.1L705.6,482.3L708.1,495.6L710.7,505.8L713.2,512.8L715.8,499.3L718.3,492.2L720.8,498.7L723.4,483.1L725.9,512.8L728.5,492.5L731,512.8L733.5,498L736.1,491.3L738.6,512.8L741.1,502.4L743.7,512.8L746.2,512.8L746.2,512.8Z" fill="#4daf4a"/>
<path d="M748.8,512.5H779.2" stroke="#999999" stroke-width="1" stroke-opacity="0.55" fill="none"/>
<path d="M748.8,512.8L748.8,487.9L751.3,490.1L753.8,481.1L756.4,488.9L758.9,479.3L761.5,494.7L764,482.8L766.5,488.9L769.1,481.5L771.6,495.5L774.2,490.4L776.7,490.7L779.2,492.1L779.2,512.8Z" fill="#999999"/>
<path d="M781.8,512.5H860.5" stroke="#ffff33" stroke-width="1" stroke-opacity="0.55" fill="none"/>
<path d="M781.8,512.8L781.8,512.8L786.9,512.8L789.4,499.7L791.9,505.9L794.5,500.7L797,512.8L799.6,501.3L802.1,512.8L804.6,502.7L807.2,497.7L809.7,493.7L812.2,512.8L817.3,512.8L819.9,498.6L822.4,512.8L827.5,512.8L830,501.2L832.6,503.3L835.1,504.6L837.6,512.8L842.7,512.8L845.3,501.5L847.8,512.8L858,512.8L860.5,502.9L860.5,512.8Z" fill="#ffff33"/>
<path d="M863,512.5H1028.1" stroke="#a65628" stroke-width="1" stroke-opacity="0.55" fill="none"/>
<path d="M863,512.8L863,512.8L865.6,489.8L868.1,485.5L870.7,492.3L873.2,500L875.7,496.3L878.3,497.5L880.8,506.2L883.4,480.8L885.9,490.5L888.4,493.1L891,503L893.5,493.4L896,507.5L898.6,512.8L901.1,486L903.7,491.4L906.2,497.5L908.7,495.2L911.3,483.2L913.8,507.5L916.4,500.3L918.9,494.6L921.4,512.8L924,492.3L926.5,498.1L929.1,512.8L931.6,491.5L934.1,495L936.7,512.8L939.2,512.8L941.8,500.3L944.3,496.8L946.8,491.7L949.4,488.9L951.9,491.4L954.5,506.1L957,490.3L959.5,512.8L962.1,494.9L964.6,512.8L967.1,492.1L969.7,495.2L972.2,486.8L974.8,487L977.3,500.1L979.8,512.8L982.4,497.8L984.9,488.1L987.5,492.7L990,499.7L992.5,490L995.1,488.9L997.6,512.8L1000.2,512.8L1002.7,491.3L1005.2,512.8L1007.8,500.4L1010.3,512.8L1012.9,497.4L1015.4,488.9L1017.9,492.8L1020.5,502.3L1023,494.4L1025.6,498.5L1028.1,495.9L1028.1,512.8Z" fill="#a65628"/>
<path d="M1030.6,512.5H1480.1" stroke="#e41a1c" stroke-width="1" stroke-opacity="0.55" fill="none"/>
<path d="M1030.6,512.8L1030.6,512.8L1035.7,512.8L1038.2,497L1040.8,512.8L1043.3,512.8L1045.9,494.8L1048.4,512.8L1050.9,495.6L1053.5,502L1056,512.8L1066.2,512.8L1068.7,503L1071.3,512.8L1073.8,512.8L1076.3,493.5L1078.9,512.8L1084,512.8L1086.5,507.3L1089,501.9L1091.6,491.7L1094.1,503.1L1096.7,512.8L1099.2,512.8L1101.7,494.5L1104.3,512.8L1106.8,488.7L1109.3,512.8L1111.9,493.7L1114.4,512.8L1117,495.6L1119.5,512.8L1122,512.8L1124.6,500.9L1127.1,512.8L1144.9,512.8L1147.4,500.5L1150,501.9L1152.5,512.8L1167.8,512.8L1170.3,496.8L1172.8,512.8L1175.4,498.3L1177.9,512.8L1180.4,502.3L1183,500L1185.5,501L1188.1,512.8L1198.2,512.8L1200.8,494.3L1203.3,512.8L1205.8,499L1208.4,512.8L1216,512.8L1218.5,491L1221.1,512.8L1223.6,493.6L1226.2,512.8L1246.5,512.8L1249,494.2L1251.5,512.8L1254.1,496L1256.6,512.8L1259.2,497.1L1261.7,512.8L1264.2,501L1266.8,512.8L1269.3,512.8L1271.9,496.7L1274.4,495.1L1276.9,512.8L1284.6,512.8L1287.1,498L1289.6,512.8L1292.2,504.6L1294.7,512.8L1297.3,500.9L1299.8,501.1L1302.3,512.8L1304.9,512.8L1307.4,496.2L1310,495.6L1312.5,512.8L1315,499.5L1317.6,502.6L1320.1,512.8L1322.6,512.8L1325.2,502.2L1327.7,512.8L1330.3,498.9L1332.8,512.8L1340.4,512.8L1343,495.2L1345.5,501.3L1348,512.8L1350.6,488L1353.1,498L1355.7,512.8L1358.2,500.4L1360.7,512.8L1363.3,512.8L1365.8,485L1368.4,512.8L1370.9,512.8L1373.4,501.1L1376,512.8L1378.5,484.8L1381.1,496.4L1383.6,512.8L1386.1,512.8L1388.7,505.3L1391.2,492.8L1393.7,512.8L1396.3,500.2L1398.8,512.8L1401.4,501.8L1403.9,498.8L1406.4,512.8L1409,500.7L1411.5,512.8L1419.1,512.8L1421.7,489.6L1424.2,491.9L1426.8,512.8L1429.3,485.2L1431.8,496.2L1434.4,501.2L1436.9,512.8L1442,512.8L1444.5,495L1447.1,484.9L1449.6,512.8L1454.7,512.8L1457.2,492L1459.8,500.5L1462.3,512.8L1464.8,490.9L1467.4,494.6L1469.9,512.8L1480.1,512.8L1480.1,512.8Z" fill="#e41a1c"/>
<path d="M1482.6,512.5H1502.9" stroke="#ff7f00" stroke-width="1" stroke-opacity="0.55" fill="none"/>
<path d="M1482.6,512.8L1482.6,496.6L1485.2,491.7L1487.7,495.5L1490.2,496.7L1492.8,512.8L1495.3,499.2L1497.9,496.1L1500.4,495L1502.9,498.4L1502.9,512.8Z" fill="#ff7f00"/>
<path d="M1505.5,512.5H1881.3" stroke="#984ea3" stroke-width="1" stroke-opacity="0.55" fill="none"/>
<path d="M1505.5,512.8L1505.5,512.8L1508,495.5L1510.6,493.9L1513.1,494.5L1515.6,512.8L1518.2,493.2L1520.7,512.8L1523.3,512.8L1525.8,494.2L1528.3,512.8L1530.9,484.2L1533.4,504.7L1536,512.8L1538.5,499.2L1541,488.7L1543.6,499L1546.1,504.7L1548.6,498.9L1551.2,512.8L1553.7,494.6L1556.3,512.8L1561.3,512.8L1563.9,491.9L1566.4,512.8L1571.5,512.8L1574,501.9L1576.6,512.8L1579.1,512.8L1581.7,494.4L1584.2,501.9L1586.7,506.7L1589.3,512.8L1591.8,512.8L1594.4,492.7L1596.9,504.4L1599.4,512.8L1602,501.6L1604.5,512.8L1607.1,494.5L1609.6,492.6L1612.1,494.7L1614.7,512.8L1619.7,512.8L1622.3,494.1L1624.8,512.8L1629.9,512.8L1632.4,493.7L1635,490L1637.5,512.8L1645.1,512.8L1647.7,497.3L1650.2,512.8L1652.8,499.5L1655.3,512.8L1657.8,501.1L1660.4,512.8L1662.9,512.8L1665.5,499.6L1668,493.9L1670.5,491.1L1673.1,500L1675.6,512.8L1678.2,492.8L1680.7,497.2L1683.2,512.8L1685.8,512.8L1688.3,501.3L1690.8,486.7L1693.4,492L1695.9,493.9L1698.5,492.7L1701,494.3L1703.5,496.5L1706.1,489.9L1708.6,502.1L1711.2,497.9L1713.7,512.8L1718.8,512.8L1721.3,492.3L1723.9,512.8L1726.4,496.9L1728.9,502.2L1731.5,512.8L1734,494.4L1736.6,488.3L1739.1,512.8L1741.6,512.8L1744.2,503.9L1746.7,512.8L1749.3,497.9L1751.8,494.7L1754.3,512.8L1756.9,494.7L1759.4,512.8L1764.5,512.8L1767,494.7L1769.6,512.8L1772.1,492.5L1774.6,512.8L1777.2,488.1L1779.7,493.4L1782.3,512.8L1787.3,512.8L1789.9,502.9L1792.4,492.6L1795,512.8L1797.5,486.4L1800,512.8L1802.6,512.8L1805.1,500.4L1807.7,501.7L1810.2,487.4L1812.7,512.8L1815.3,489.9L1817.8,512.8L1820.4,512.8L1822.9,497.4L1825.4,512.8L1828,484.1L1830.5,492.4L1833,496L1835.6,506.1L1838.1,512.8L1840.7,512.8L1843.2,489.9L1845.7,491.4L1848.3,492.5L1850.8,493.3L1853.4,494.2L1855.9,497.2L1858.4,512.8L1866.1,512.8L1868.6,498.6L1871.1,512.8L1873.7,498.2L1876.2,500.8L1878.8,501.4L1881.3,500.8L1881.3,512.8Z" fill="#984ea3"/>
<path d="M1883.8,512.5H1970.2" stroke="#f781bf" stroke-width="1" stroke-opacity="0.55" fill="none"/>
<path d="M1883.8,512.8L1883.8,487.1L1886.4,493.6L1888.9,499.8L1891.5,512.8L1894,512.8L1896.5,495.6L1899.1,497.8L1901.6,497.9L1904.1,497.2L1906.7,512.8L1911.8,512.8L1914.3,501.9L1916.8,512.8L1921.9,512.8L1924.5,492.4L1927,512.8L1929.5,506.2L1932.1,499.4L1934.6,512.8L1937.2,512.8L1939.7,506L1942.2,496.6L1944.8,486.9L1947.3,512.8L1949.9,498.6L1952.4,505.1L1954.9,512.8L1957.5,497.6L1960,487.6L1962.6,493.8L1965.1,503.9L1967.6,498.4L1970.2,512.8L1970.2,512.8Z" fill="#f781bf"/>
</g>
<g>
<path d="M195.2,550.5H357.7" stroke="#377eb8" stroke-width="1.3" stroke-opacity="0.4" fill="none"/>
<path d="M360.3,550.5H746.2" stroke="#4daf4a" stroke-width="1" stroke-opacity="0.55" fill="none"/>
<path d="M360.3,550.8L360.3,550.8L416.1,550.8L418.7,541.3L421.2,550.8L444.1,550.8L446.6,542.2L449.1,550.8L474.5,550.8L477.1,536.3L479.6,550.8L604,550.8L606.6,541.3L609.1,550.8L639.6,550.8L642.1,543.8L644.7,550.8L746.2,550.8L746.2,550.8Z" fill="#4daf4a"/>
<path d="M748.8,550.5H779.2" stroke="#999999" stroke-width="1.3" stroke-opacity="0.4" fill="none"/>
<path d="M781.8,550.5H860.5" stroke="#ffff33" stroke-width="1" stroke-opacity="0.55" fill="none"/>
<path d="M781.8,550.8L781.8,521.4L784.3,518.3L786.9,520.7L789.4,523.3L791.9,524.1L794.5,515.5L797,528.7L799.6,515.5L802.1,519.9L804.6,522.8L807.2,526.5L809.7,515.5L812.2,517.7L814.8,519.1L817.3,515.5L819.9,531.3L822.4,522.7L824.9,524.6L827.5,526.4L830,522.9L832.6,520.7L835.1,520.8L837.6,523.8L840.2,529.2L842.7,520.6L845.3,520.5L847.8,515.5L850.3,519L852.9,523.1L855.4,528.4L858,515.5L860.5,526.3L860.5,550.8Z" fill="#ffff33"/>
<path d="M863,550.5H1028.1" stroke="#a65628" stroke-width="1" stroke-opacity="0.55" fill="none"/>
<path d="M863,550.8L863,541.4L865.6,537L868.1,550.8L870.7,534.9L873.2,535.5L875.7,550.8L878.3,543.5L880.8,540.8L883.4,545L885.9,550.8L888.4,550.8L891,533.3L893.5,527.2L896,550.8L901.1,550.8L903.7,534.4L906.2,542.4L908.7,550.8L911.3,539.3L913.8,542L916.4,539.8L918.9,524.3L921.4,543.4L924,533.3L926.5,550.8L929.1,540.7L931.6,545L934.1,535.3L936.7,533.4L939.2,550.8L941.8,532.6L944.3,531L946.8,540.2L949.4,550.8L951.9,525.3L954.5,531.4L957,533.9L959.5,531.5L962.1,539.4L964.6,545L967.1,550.8L969.7,536.8L972.2,537.7L974.8,550.8L979.8,550.8L982.4,540.4L984.9,527.4L987.5,524.6L990,550.8L992.5,536.3L995.1,550.8L997.6,540.8L1000.2,531.4L1002.7,529.9L1005.2,534.2L1007.8,545.2L1010.3,544.1L1012.9,550.8L1015.4,541.7L1017.9,535.4L1020.5,532.4L1023,550.8L1025.6,537.4L1028.1,550.8L1028.1,550.8Z" fill="#a65628"/>
<path d="M1030.6,550.5H1480.1" stroke="#e41a1c" stroke-width="1" stroke-opacity="0.55" fill="none"/>
<path d="M1030.6,550.8L1030.6,550.8L1315,550.8L1317.6,540.7L1320.1,550.8L1353.1,550.8L1355.7,545.4L1358.2,550.8L1480.1,550.8L1480.1,550.8Z" fill="#e41a1c"/>
<path d="M1482.6,550.5H1502.9" stroke="#ff7f00" stroke-width="1.3" stroke-opacity="0.4" fill="none"/>
<path d="M1505.5,550.5H1881.3" stroke="#984ea3" stroke-width="1.3" stroke-opacity="0.4" fill="none"/>
<path d="M1883.8,550.5H1970.2" stroke="#f781bf" stroke-width="1.3" stroke-opacity="0.4" fill="none"/>
</g>
<g>
<path d="M195.2,588.5H357.7" stroke="#377eb8" stroke-width="1" stroke-opacity="0.55" fill="none"/>
<path d="M195.2,588.8L195.2,588.8L291.7,588.8L294.2,578L296.8,588.8L332.3,588.8L334.9,577.6L337.4,588.8L347.6,588.8L350.1,569.9L352.6,588.8L357.7,588.8L357.7,588.8Z" fill="#377eb8"/>
<path d="M360.3,588.5H746.2" stroke="#4daf4a" stroke-width="1" stroke-opacity="0.55" fill="none"/>
<path d="M360.3,588.8L360.3,588.8L383.1,588.8L385.6,578.1L388.2,588.8L446.6,588.8L449.1,581.7L451.7,588.8L454.2,588.8L456.7,581.6L459.3,588.8L464.4,588.8L466.9,582.6L469.4,588.8L540.5,588.8L543.1,581.7L545.6,588.8L746.2,588.8L746.2,588.8Z" fill="#4daf4a"/>
<path d="M748.8,588.5H779.2" stroke="#999999" stroke-width="1" stroke-opacity="0.55" fill="none"/>
<path d="M748.8,588.8L748.8,588.8L753.8,588.8L756.4,577.8L758.9,588.8L761.5,573.5L764,573.1L766.5,588.8L779.2,588.8L779.2,588.8Z" fill="#999999"/>
<path d="M781.8,588.5H860.5" stroke="#ffff33" stroke-width="1" stroke-opacity="0.55" fill="none"/>
<path d="M781.8,588.8L781.8,562.7L784.3,560.4L786.9,562.7L789.4,563.3L791.9,559.1L794.5,565.5L797,562.9L799.6,557.2L802.1,563.1L804.6,562.7L807.2,561.8L809.7,563.4L812.2,566.7L814.8,554.9L817.3,560.3L819.9,560.6L822.4,562.3L824.9,553.6L827.5,562.7L830,556.8L832.6,563.5L835.1,560.4L837.6,563.5L840.2,568.8L842.7,561.5L845.3,559.8L847.8,563L850.3,562.9L852.9,557.7L855.4,556.7L858,559.4L860.5,562.3L860.5,588.8Z" fill="#ffff33"/>
<path d="M863,588.5H1028.1" stroke="#a65628" stroke-width="1" stroke-opacity="0.55" fill="none"/>
<path d="M863,588.8L863,579.5L865.6,588.8L868.1,574.6L870.7,588.8L875.7,588.8L878.3,576L880.8,588.8L888.4,588.8L891,581.7L893.5,573.9L896,588.8L898.6,575.7L901.1,564.1L903.7,588.8L906.2,563.9L908.7,588.8L911.3,581.2L913.8,573.4L916.4,588.8L918.9,588.8L921.4,573.5L924,577.1L926.5,588.8L929.1,588.8L931.6,565L934.1,588.8L936.7,566.5L939.2,588.8L941.8,578.3L944.3,571.2L946.8,588.8L951.9,588.8L954.5,574.2L957,588.8L959.5,582.2L962.1,578.3L964.6,573.6L967.1,569.8L969.7,588.8L974.8,588.8L977.3,580.6L979.8,577.1L982.4,588.8L987.5,588.8L990,581.2L992.5,573L995.1,576.1L997.6,588.8L1000.2,583L1002.7,588.8L1007.8,588.8L1010.3,575.2L1012.9,588.8L1015.4,580.8L1017.9,588.8L1020.5,581.6L1023,573.3L1025.6,566.2L1028.1,581.5L1028.1,588.8Z" fill="#a65628"/>
<path d="M1030.6,588.5H1480.1" stroke="#e41a1c" stroke-width="1" stroke-opacity="0.55" fill="none"/>
<path d="M1030.6,588.8L1030.6,588.8L1284.6,588.8L1287.1,574.9L1289.6,588.8L1480.1,588.8L1480.1,588.8Z" fill="#e41a1c"/>
<path d="M1482.6,588.5H1502.9" stroke="#ff7f00" stroke-width="1" stroke-opacity="0.55" fill="none"/>
<path d="M1482.6,588.8L1482.6,588.8L1492.8,588.8L1495.3,582.5L1497.9,588.8L1500.4,588.8L1502.9,581.8L1502.9,588.8Z" fill="#ff7f00"/>
<path d="M1505.5,588.5H1881.3" stroke="#984ea3" stroke-width="1.3" stroke-opacity="0.4" fill="none"/>
<path d="M1883.8,588.5H1970.2" stroke="#f781bf" stroke-width="1.3" stroke-opacity="0.4" fill="none"/>
</g>
<g>
<path d="M195.2,626.5H357.7" stroke="#377eb8" stroke-width="1" stroke-opacity="0.55" fill="none"/>
<path d="M195.2,626.8L195.2,626.8L197.7,609.7L200.3,626.8L205.4,626.8L207.9,609.2L210.4,620.2L213,599.6L215.5,626.8L223.1,626.8L225.7,608L228.2,626.8L230.8,607.2L233.3,615.1L235.8,620.8L238.4,603.7L240.9,619.7L243.4,608.8L246,626.8L248.5,598.4L251.1,626.8L253.6,626.8L256.1,613.9L258.7,620.1L261.2,626.8L266.3,626.8L268.8,615.1L271.4,613.6L273.9,606.7L276.5,626.8L281.5,626.8L284.1,617.8L286.6,626.8L289.2,613.4L291.7,610.3L294.2,610.9L296.8,607.3L299.3,596.5L301.9,617.4L304.4,599.5L306.9,626.8L309.5,626.8L312,603.4L314.5,626.8L317.1,626.8L319.6,618.4L322.2,612L324.7,610.5L327.2,620.5L329.8,603.9L332.3,606.5L334.9,626.8L337.4,597.3L339.9,626.8L342.5,610.2L345,619.1L347.6,620.7L350.1,616.6L352.6,612.6L355.2,612.9L357.7,626.8L357.7,626.8Z" fill="#377eb8"/>
<path d="M360.3,626.5H746.2" stroke="#4daf4a" stroke-width="1" stroke-opacity="0.55" fill="none"/>
<path d="M360.3,626.8L360.3,626.8L362.8,617.1L365.3,626.8L367.9,626.8L370.4,620.3L373,600.8L375.5,608L378,626.8L380.6,626.8L383.1,616.9L385.6,605.9L388.2,609.2L390.7,626.8L393.3,626.8L395.8,615.1L398.3,626.8L400.9,600.3L403.4,611.6L406,626.8L408.5,615.7L411,610.7L413.6,608.6L416.1,626.8L418.7,608.1L421.2,614.1L423.7,604.3L426.3,626.8L428.8,616.8L431.4,606L433.9,626.8L439,626.8L441.5,606.4L444.1,626.8L446.6,626.8L449.1,611.1L451.7,602.3L454.2,626.8L456.7,595.3L459.3,612L461.8,626.8L466.9,626.8L469.4,615.1L472,607.5L474.5,626.8L477.1,614.3L479.6,610.1L482.1,626.8L484.7,620.9L487.2,626.8L489.8,611.1L492.3,613.5L494.8,626.8L497.4,609.6L499.9,626.8L502.5,626.8L505,612.4L507.5,612.6L510.1,626.8L512.6,607.7L515.2,601.4L517.7,619.7L520.2,626.8L522.8,617.4L525.3,626.8L530.4,626.8L532.9,610.3L535.5,603.5L538,626.8L540.5,605.5L543.1,600.3L545.6,626.8L550.7,626.8L553.2,609.9L555.8,616.6L558.3,605.4L560.9,599L563.4,612.1L565.9,603.9L568.5,605.9L571,597.2L573.6,626.8L576.1,609.6L578.6,607.4L581.2,606L583.7,608L586.3,605.5L588.8,626.8L591.3,610.6L593.9,614.4L596.4,626.8L598.9,626.8L601.5,602.3L604,626.8L606.6,598.6L609.1,626.8L611.6,611.2L614.2,607.5L616.7,626.8L619.3,608.6L621.8,626.8L624.3,595.1L626.9,626.8L629.4,613.9L632,626.8L634.5,606.7L637,616.4L639.6,606.8L642.1,626.8L644.7,626.8L647.2,607.4L649.7,617.5L652.3,615.4L654.8,611.6L657.4,626.8L659.9,607.8L662.4,604.8L665,626.8L667.5,626.8L670,606.2L672.6,626.8L675.1,626.8L677.7,610.2L680.2,626.8L700.5,626.8L703.1,614.5L705.6,605.4L708.1,606.6L710.7,626.8L713.2,614.5L715.8,602.1L718.3,626.8L720.8,607.3L723.4,606.2L725.9,613.3L728.5,604L731,605.6L733.5,597.1L736.1,618.3L738.6,626.8L741.1,603.1L743.7,614.4L746.2,610.3L746.2,626.8Z" fill="#4daf4a"/>
<path d="M748.8,626.5H779.2" stroke="#999999" stroke-width="1" stroke-opacity="0.55" fill="none"/>
<path d="M748.8,626.8L748.8,626.8L751.3,626.8L753.8,610.3L756.4,626.8L758.9,626.8L761.5,617.3L764,626.8L766.5,618.6L769.1,610.9L771.6,626.8L774.2,617.8L776.7,626.8L779.2,626.8L779.2,626.8Z" fill="#999999"/>
<path d="M781.8,626.5H860.5" stroke="#ffff33" stroke-width="1" stroke-opacity="0.55" fill="none"/>
<path d="M781.8,626.8L781.8,597.6L784.3,606L786.9,608.7L789.4,598.9L791.9,596L794.5,600L797,600.7L799.6,594.3L802.1,604.4L804.6,595.7L807.2,596.9L809.7,603.5L812.2,600.1L814.8,600.1L817.3,598L819.9,605.1L822.4,601.7L824.9,600.2L827.5,600.5L830,600.5L832.6,599.5L835.1,601.5L837.6,602.9L840.2,596L842.7,603.5L845.3,602.1L847.8,604.6L850.3,605.8L852.9,598.6L855.4,600.8L858,601.2L860.5,598.6L860.5,626.8Z" fill="#ffff33"/>
<path d="M863,626.5H1028.1" stroke="#a65628" stroke-width="1" stroke-opacity="0.55" fill="none"/>
<path d="M863,626.8L863,626.8L865.6,610.3L868.1,626.8L870.7,613L873.2,619.7L875.7,609.9L878.3,610.2L880.8,626.8L885.9,626.8L888.4,614.3L891,613.2L893.5,626.8L903.7,626.8L906.2,612L908.7,626.8L911.3,626.8L913.8,610.9L916.4,626.8L918.9,610.2L921.4,626.8L929.1,626.8L931.6,605.3L934.1,626.8L936.7,606.6L939.2,612.7L941.8,599.7L944.3,626.8L946.8,611.8L949.4,613.6L951.9,626.8L954.5,626.8L957,603.6L959.5,607.1L962.1,626.8L964.6,616.6L967.1,626.8L969.7,613.9L972.2,598.7L974.8,626.8L979.8,626.8L982.4,601.9L984.9,617.2L987.5,626.8L990,613.5L992.5,613.1L995.1,607.2L997.6,615.7L1000.2,626.8L1002.7,602.1L1005.2,626.8L1007.8,626.8L1010.3,613.6L1012.9,626.8L1015.4,626.8L1017.9,616L1020.5,626.8L1023,604.1L1025.6,614.9L1028.1,611.2L1028.1,626.8Z" fill="#a65628"/>
<path d="M1030.6,626.5H1480.1" stroke="#e41a1c" stroke-width="1" stroke-opacity="0.55" fill="none"/>
<path d="M1030.6,626.8L1030.6,626.8L1035.7,626.8L1038.2,602.9L1040.8,626.8L1043.3,617.6L1045.9,626.8L1048.4,626.8L1050.9,619.6L1053.5,626.8L1056,614.4L1058.6,626.8L1071.3,626.8L1073.8,607.8L1076.3,626.8L1089,626.8L1091.6,616.5L1094.1,626.8L1096.7,626.8L1099.2,605.4L1101.7,606.2L1104.3,616.9L1106.8,626.8L1109.3,626.8L1111.9,616.3L1114.4,611.9L1117,615.9L1119.5,626.8L1122,626.8L1124.6,614.2L1127.1,626.8L1129.7,611.9L1132.2,626.8L1137.3,626.8L1139.8,615L1142.4,626.8L1144.9,607L1147.4,617.3L1150,611.2L1152.5,626.8L1155.1,608.8L1157.6,610.2L1160.1,626.8L1162.7,600.2L1165.2,610.1L1167.8,626.8L1170.3,610.9L1172.8,626.8L1175.4,626.8L1177.9,613L1180.4,611.6L1183,626.8L1188.1,626.8L1190.6,610.6L1193.1,626.8L1195.7,614.5L1198.2,613.2L1200.8,601.9L1203.3,614.9L1205.8,626.8L1208.4,626.8L1210.9,602.4L1213.5,599.3L1216,626.8L1218.5,604.6L1221.1,626.8L1223.6,604.8L1226.2,626.8L1228.7,611.7L1231.2,626.8L1233.8,611.3L1236.3,611.2L1238.9,626.8L1241.4,614.7L1243.9,610.9L1246.5,617.9L1249,626.8L1259.2,626.8L1261.7,618.5L1264.2,618.9L1266.8,613.3L1269.3,613.4L1271.9,611.8L1274.4,626.8L1276.9,601.6L1279.5,620.1L1282,614.9L1284.6,626.8L1299.8,626.8L1302.3,612.4L1304.9,626.8L1307.4,601L1310,611.6L1312.5,626.8L1315,626.8L1317.6,614.4L1320.1,618.6L1322.6,626.8L1325.2,626.8L1327.7,615.3L1330.3,612.1L1332.8,616L1335.3,626.8L1337.9,626.8L1340.4,605.8L1343,620L1345.5,626.8L1353.1,626.8L1355.7,619.5L1358.2,620.5L1360.7,626.8L1363.3,626.8L1365.8,609.1L1368.4,611.7L1370.9,609.6L1373.4,626.8L1376,626.8L1378.5,617.4L1381.1,610.8L1383.6,611.6L1386.1,626.8L1388.7,620.2L1391.2,609.3L1393.7,614.9L1396.3,626.8L1398.8,626.8L1401.4,604.3L1403.9,601.9L1406.4,626.8L1419.1,626.8L1421.7,600.7L1424.2,614.7L1426.8,626.8L1434.4,626.8L1436.9,620.4L1439.5,599.3L1442,626.8L1447.1,626.8L1449.6,612.9L1452.2,613.6L1454.7,626.8L1457.2,626.8L1459.8,615.8L1462.3,602.2L1464.8,626.8L1472.5,626.8L1475,608.3L1477.5,626.8L1480.1,626.8L1480.1,626.8Z" fill="#e41a1c"/>
<path d="M1482.6,626.5H1502.9" stroke="#ff7f00" stroke-width="1" stroke-opacity="0.55" fill="none"/>
<path d="M1482.6,626.8L1482.6,626.8L1485.2,626.8L1487.7,616.4L1490.2,613.8L1492.8,626.8L1495.3,618.5L1497.9,614L1500.4,626.8L1502.9,626.8L1502.9,626.8Z" fill="#ff7f00"/>
<path d="M1505.5,626.5H1881.3" stroke="#984ea3" stroke-width="1" stroke-opacity="0.55" fill="none"/>
<path d="M1505.5,626.8L1505.5,605.5L1508,613.3L1510.6,618.9L1513.1,619L1515.6,626.8L1518.2,609.8L1520.7,626.8L1523.3,616.4L1525.8,626.8L1528.3,626.8L1530.9,619.6L1533.4,626.8L1553.7,626.8L1556.3,616.2L1558.8,611.7L1561.3,626.8L1563.9,626.8L1566.4,619.7L1569,626.8L1571.5,616.9L1574,617.2L1576.6,613.1L1579.1,626.8L1604.5,626.8L1607.1,602.6L1609.6,612.4L1612.1,605.1L1614.7,626.8L1619.7,626.8L1622.3,620.7L1624.8,615.3L1627.4,626.8L1629.9,614.3L1632.4,626.8L1635,626.8L1637.5,611L1640.1,614L1642.6,626.8L1645.1,616.3L1647.7,626.8L1650.2,613.7L1652.8,613.8L1655.3,626.8L1657.8,616.7L1660.4,626.8L1662.9,614.1L1665.5,626.8L1673.1,626.8L1675.6,605.7L1678.2,626.8L1680.7,611.7L1683.2,626.8L1685.8,615.4L1688.3,626.8L1690.8,619.3L1693.4,613.8L1695.9,626.8L1698.5,620.4L1701,626.8L1703.5,626.8L1706.1,618.9L1708.6,611.5L1711.2,626.8L1721.3,626.8L1723.9,615.5L1726.4,616.4L1728.9,626.8L1731.5,612.7L1734,626.8L1739.1,626.8L1741.6,603.8L1744.2,614.7L1746.7,626.8L1749.3,610.4L1751.8,626.8L1756.9,626.8L1759.4,614.2L1761.9,626.8L1764.5,614L1767,626.8L1769.6,615L1772.1,615.6L1774.6,613L1777.2,616.7L1779.7,626.8L1787.3,626.8L1789.9,608.4L1792.4,626.8L1795,612.4L1797.5,626.8L1800,626.8L1802.6,608.4L1805.1,616.5L1807.7,626.8L1812.7,626.8L1815.3,615.3L1817.8,619.6L1820.4,626.8L1833,626.8L1835.6,620L1838.1,626.8L1840.7,626.8L1843.2,611.7L1845.7,626.8L1848.3,614.1L1850.8,626.8L1853.4,626.8L1855.9,610.9L1858.4,626.8L1861,620.5L1863.5,626.8L1868.6,626.8L1871.1,617.8L1873.7,626.8L1876.2,626.8L1878.8,617.9L1881.3,619.4L1881.3,626.8Z" fill="#984ea3"/>
<path d="M1883.8,626.5H1970.2" stroke="#f781bf" stroke-width="1" stroke-opacity="0.55" fill="none"/>
<path d="M1883.8,626.8L1883.8,626.8L1888.9,626.8L1891.5,615.6L1894,626.8L1896.5,609.4L1899.1,626.8L1901.6,626.8L1904.1,612.7L1906.7,620.4L1909.2,626.8L1911.8,619.4L1914.3,626.8L1921.9,626.8L1924.5,609.1L1927,626.8L1937.2,626.8L1939.7,608.5L1942.2,626.8L1944.8,626.8L1947.3,612.8L1949.9,614.2L1952.4,604.1L1954.9,626.8L1957.5,610.7L1960,626.8L1962.6,619.4L1965.1,619.7L1967.6,626.8L1970.2,610.8L1970.2,626.8Z" fill="#f781bf"/>
</g>
<g>
<path d="M195.2,664.5H357.7" stroke="#377eb8" stroke-width="1" stroke-opacity="0.55" fill="none"/>
<path d="M195.2,664.8L195.2,664.8L197.7,664.8L200.3,651.4L202.8,664.8L223.1,664.8L225.7,654L228.2,664.8L230.8,653.3L233.3,664.8L235.8,650.2L238.4,664.8L243.4,664.8L246,657.8L248.5,664.8L263.8,664.8L266.3,657.4L268.8,664.8L284.1,664.8L286.6,656.8L289.2,664.8L304.4,664.8L306.9,657L309.5,664.8L317.1,664.8L319.6,655.3L322.2,664.8L324.7,646.1L327.2,664.8L334.9,664.8L337.4,653.8L339.9,664.8L345,664.8L347.6,645.8L350.1,664.8L352.6,664.8L355.2,639.2L357.7,664.8L357.7,664.8Z" fill="#377eb8"/>
<path d="M360.3,664.5H746.2" stroke="#4daf4a" stroke-width="1" stroke-opacity="0.55" fill="none"/>
<path d="M360.3,664.8L360.3,664.8L367.9,664.8L370.4,647.3L373,664.8L390.7,664.8L393.3,656L395.8,664.8L413.6,664.8L416.1,650.7L418.7,664.8L421.2,645.6L423.7,664.8L426.3,653.8L428.8,655.2L431.4,654.2L433.9,664.8L436.4,641L439,651.4L441.5,664.8L444.1,649.5L446.6,664.8L456.7,664.8L459.3,647.9L461.8,664.8L464.4,653.1L466.9,664.8L479.6,664.8L482.1,656.9L484.7,664.8L492.3,664.8L494.8,648.5L497.4,664.8L507.5,664.8L510.1,654.6L512.6,654.1L515.2,664.8L517.7,664.8L520.2,645.8L522.8,664.8L535.5,664.8L538,648.3L540.5,664.8L550.7,664.8L553.2,649.2L555.8,664.8L560.9,664.8L563.4,658.3L565.9,654.4L568.5,664.8L571,647.7L573.6,664.8L578.6,664.8L581.2,641.2L583.7,664.8L586.3,664.8L588.8,648.7L591.3,664.8L601.5,664.8L604,658.4L606.6,637.9L609.1,664.8L611.6,664.8L614.2,654.1L616.7,664.8L619.3,649.1L621.8,664.8L626.9,664.8L629.4,651.6L632,646.7L634.5,664.8L639.6,664.8L642.1,651L644.7,664.8L647.2,655.4L649.7,664.8L654.8,664.8L657.4,652.2L659.9,664.8L662.4,652.3L665,664.8L667.5,654.7L670,664.8L677.7,664.8L680.2,654.5L682.7,664.8L690.4,664.8L692.9,652.9L695.4,664.8L700.5,664.8L703.1,647L705.6,664.8L710.7,664.8L713.2,654.2L715.8,664.8L736.1,664.8L738.6,635.6L741.1,664.8L743.7,646.8L746.2,664.8L746.2,664.8Z" fill="#4daf4a"/>
<path d="M748.8,664.5H779.2" stroke="#999999" stroke-width="1" stroke-opacity="0.55" fill="none"/>
<path d="M748.8,664.8L748.8,664.8L766.5,664.8L769.1,654.5L771.6,647L774.2,664.8L779.2,664.8L779.2,664.8Z" fill="#999999"/>
<path d="M781.8,664.5H860.5" stroke="#ffff33" stroke-width="1" stroke-opacity="0.55" fill="none"/>
<path d="M781.8,664.8L781.8,642.2L784.3,655.5L786.9,656.6L789.4,657.6L791.9,653.9L794.5,655.4L797,664.8L802.1,664.8L804.6,654.5L807.2,653.5L809.7,653.5L812.2,650.7L814.8,654.9L817.3,664.8L819.9,656.2L822.4,654.4L824.9,656.8L827.5,652.2L830,658.5L832.6,659.5L835.1,646.5L837.6,659.5L840.2,664.8L842.7,659L845.3,651.8L847.8,664.8L850.3,664.8L852.9,655.7L855.4,650.4L858,664.8L860.5,659.5L860.5,664.8Z" fill="#ffff33"/>
<path d="M863,664.5H1028.1" stroke="#a65628" stroke-width="1" stroke-opacity="0.55" fill="none"/>
<path d="M863,664.8L863,637.7L865.6,632.4L868.1,635.6L870.7,639.5L873.2,636.8L875.7,637.3L878.3,634.3L880.8,635.7L883.4,636.3L885.9,638.4L888.4,635.8L891,639.8L893.5,633.3L896,637.8L898.6,635.6L901.1,639.4L903.7,636.2L906.2,636.3L908.7,629.8L911.3,636.9L913.8,633.8L916.4,640.4L918.9,640.3L921.4,636.8L924,635.3L926.5,638.8L929.1,635.6L931.6,642.3L934.1,638.2L936.7,636.8L939.2,632.9L941.8,637.8L944.3,635.2L946.8,638.1L949.4,642.6L951.9,636.5L954.5,636.6L957,634.3L959.5,640.4L962.1,640.9L964.6,639.2L967.1,637L969.7,636.8L972.2,641.8L974.8,632.4L977.3,642.3L979.8,643.5L982.4,632.3L984.9,634.5L987.5,630.4L990,643.1L992.5,633.1L995.1,640L997.6,634.6L1000.2,637.9L1002.7,645.4L1005.2,639.3L1007.8,634.2L1010.3,639.4L1012.9,638.4L1015.4,633.8L1017.9,636.1L1020.5,633.8L1023,636.3L1025.6,638.5L1028.1,637.4L1028.1,664.8Z" fill="#a65628"/>
<path d="M1030.6,664.5H1480.1" stroke="#e41a1c" stroke-width="1" stroke-opacity="0.55" fill="none"/>
<path d="M1030.6,664.8L1030.6,655L1033.2,651.1L1035.7,664.8L1038.2,651L1040.8,655.7L1043.3,664.8L1045.9,646.1L1048.4,647.3L1050.9,653.6L1053.5,647.8L1056,647.7L1058.6,652.5L1061.1,664.8L1063.6,648.3L1066.2,643.7L1068.7,647.7L1071.3,642.9L1073.8,657.1L1076.3,651.2L1078.9,656L1081.4,658.3L1084,646.8L1086.5,649.5L1089,641L1091.6,642.6L1094.1,656.1L1096.7,664.8L1099.2,648L1101.7,664.8L1106.8,664.8L1109.3,642.6L1111.9,648.3L1114.4,652.4L1117,645.6L1119.5,638L1122,664.8L1124.6,664.8L1127.1,646L1129.7,651L1132.2,664.8L1134.7,637.2L1137.3,653.8L1139.8,638.4L1142.4,653.6L1144.9,646.3L1147.4,664.8L1150,664.8L1152.5,643.2L1155.1,650.5L1157.6,656.5L1160.1,664.8L1162.7,643.2L1165.2,664.8L1167.8,664.8L1170.3,650.5L1172.8,651.1L1175.4,650.1L1177.9,664.8L1180.4,664.8L1183,643.2L1185.5,654.8L1188.1,664.8L1190.6,637.2L1193.1,647.4L1195.7,650.6L1198.2,644L1200.8,652.1L1203.3,651.2L1205.8,664.8L1208.4,647L1210.9,664.8L1216,664.8L1218.5,650.5L1221.1,653.2L1223.6,664.8L1226.2,644.4L1228.7,644.3L1231.2,664.8L1233.8,658L1236.3,651.6L1238.9,664.8L1241.4,664.8L1243.9,642L1246.5,650.5L1249,641.8L1251.5,645.1L1254.1,653.9L1256.6,645.5L1259.2,655.1L1261.7,645L1264.2,647.1L1266.8,664.8L1269.3,648.2L1271.9,653.1L1274.4,664.8L1276.9,649.4L1279.5,646.1L1282,664.8L1284.6,646.1L1287.1,656.8L1289.6,651.6L1292.2,637.6L1294.7,664.8L1297.3,664.8L1299.8,646.8L1302.3,649.1L1304.9,650.1L1307.4,664.8L1310,639.7L1312.5,653.8L1315,651.7L1317.6,654.9L1320.1,664.8L1322.6,649.4L1325.2,644.2L1327.7,634.3L1330.3,664.8L1332.8,648.4L1335.3,664.8L1337.9,664.8L1340.4,654.7L1343,664.8L1345.5,656.2L1348,645.7L1350.6,647.7L1353.1,654.2L1355.7,649.3L1358.2,636.7L1360.7,664.8L1363.3,651.7L1365.8,656L1368.4,655.4L1370.9,653.4L1373.4,664.8L1376,650L1378.5,645.3L1381.1,642.3L1383.6,646.5L1386.1,651.5L1388.7,649.8L1391.2,664.8L1393.7,650.2L1396.3,647.5L1398.8,649.6L1401.4,647.5L1403.9,648.7L1406.4,647.9L1409,664.8L1416.6,664.8L1419.1,652.9L1421.7,650.2L1424.2,657.8L1426.8,664.8L1429.3,639L1431.8,664.8L1434.4,649.5L1436.9,664.8L1439.5,646L1442,664.8L1444.5,644.9L1447.1,642.5L1449.6,664.8L1452.2,644.8L1454.7,653.9L1457.2,650.6L1459.8,664.8L1462.3,664.8L1464.8,657.7L1467.4,646.2L1469.9,653.1L1472.5,664.8L1475,664.8L1477.5,648.1L1480.1,646.5L1480.1,664.8Z" fill="#e41a1c"/>
<path d="M1482.6,664.5H1502.9" stroke="#ff7f00" stroke-width="1.3" stroke-opacity="0.4" fill="none"/>
<path d="M1505.5,664.5H1881.3" stroke="#984ea3" stroke-width="1" stroke-opacity="0.55" fill="none"/>
<path d="M1505.5,664.8L1505.5,664.8L1515.6,664.8L1518.2,655.4L1520.7,664.8L1536,664.8L1538.5,652.4L1541,664.8L1543.6,645L1546.1,664.8L1579.1,664.8L1581.7,652L1584.2,664.8L1708.6,664.8L1711.2,653.6L1713.7,664.8L1716.2,664.8L1718.8,659.3L1721.3,664.8L1723.9,664.8L1726.4,653.1L1728.9,664.8L1739.1,664.8L1741.6,652.7L1744.2,664.8L1787.3,664.8L1789.9,649.1L1792.4,647.1L1795,664.8L1812.7,664.8L1815.3,654.6L1817.8,656L1820.4,664.8L1822.9,664.8L1825.4,656.6L1828,664.8L1833,664.8L1835.6,653.5L1838.1,664.8L1876.2,664.8L1878.8,651.4L1881.3,664.8L1881.3,664.8Z" fill="#984ea3"/>
<path d="M1883.8,664.5H1970.2" stroke="#f781bf" stroke-width="1" stroke-opacity="0.55" fill="none"/>
<path d="M1883.8,664.8L1883.8,664.8L1919.4,664.8L1921.9,651.6L1924.5,664.8L1967.6,664.8L1970.2,658.9L1970.2,664.8Z" fill="#f781bf"/>
</g>
<g>
<path d="M195.2,702.5H357.7" stroke="#377eb8" stroke-width="1" stroke-opacity="0.55" fill="none"/>
<path d="M195.2,702.8L195.2,702.8L279,702.8L281.5,692.4L284.1,702.8L332.3,702.8L334.9,682.1L337.4,702.8L357.7,702.8L357.7,702.8Z" fill="#377eb8"/>
<path d="M360.3,702.5H746.2" stroke="#4daf4a" stroke-width="1" stroke-opacity="0.55" fill="none"/>
<path d="M360.3,702.8L360.3,702.8L390.7,702.8L393.3,688.8L395.8,702.8L449.1,702.8L451.7,684.7L454.2,702.8L459.3,702.8L461.8,685.8L464.4,702.8L474.5,702.8L477.1,689.7L479.6,702.8L487.2,702.8L489.8,677.2L492.3,702.8L555.8,702.8L558.3,689.8L560.9,702.8L565.9,702.8L568.5,687.6L571,702.8L581.2,702.8L583.7,687.5L586.3,702.8L616.7,702.8L619.3,692L621.8,702.8L634.5,702.8L637,685L639.6,702.8L667.5,702.8L670,691.2L672.6,702.8L695.4,702.8L698,685.5L700.5,692.2L703.1,702.8L710.7,702.8L713.2,686.3L715.8,702.8L741.1,702.8L743.7,690.2L746.2,702.8L746.2,702.8Z" fill="#4daf4a"/>
<path d="M748.8,702.5H779.2" stroke="#999999" stroke-width="1" stroke-opacity="0.55" fill="none"/>
<path d="M748.8,702.8L748.8,702.8L774.2,702.8L776.7,686.7L779.2,702.8L779.2,702.8Z" fill="#999999"/>
<path d="M781.8,702.5H860.5" stroke="#ffff33" stroke-width="1" stroke-opacity="0.55" fill="none"/>
<path d="M781.8,702.8L781.8,702.8L784.3,685.6L786.9,686.4L789.4,694.9L791.9,675.2L794.5,688.9L797,688.1L799.6,679.3L802.1,681.9L804.6,678.4L807.2,688.2L809.7,684.6L812.2,681.9L814.8,695.1L817.3,684.2L819.9,669.2L822.4,682.1L824.9,677.2L827.5,685.4L830,681.9L832.6,696L835.1,678.7L837.6,686.7L840.2,673.5L842.7,686.1L845.3,689.2L847.8,697.4L850.3,688.9L852.9,688.7L855.4,667.5L858,676.3L860.5,683L860.5,702.8Z" fill="#ffff33"/>
<path d="M863,702.5H1028.1" stroke="#a65628" stroke-width="1" stroke-opacity="0.55" fill="none"/>
<path d="M863,702.8L863,678.1L865.6,679.5L868.1,675.5L870.7,676.2L873.2,676.4L875.7,673.1L878.3,680L880.8,678.3L883.4,677.9L885.9,680.1L888.4,673.3L891,679.9L893.5,675.6L896,679.9L898.6,679.2L901.1,678.8L903.7,678.3L906.2,677.1L908.7,673.5L911.3,677.2L913.8,680.4L916.4,679.8L918.9,676.7L921.4,678.7L924,676.7L926.5,678.5L929.1,675.9L931.6,683L934.1,679.7L936.7,678.6L939.2,682.3L941.8,679.4L944.3,680L946.8,672L949.4,677.6L951.9,676.6L954.5,677.3L957,679.1L959.5,680.9L962.1,677.6L964.6,680.1L967.1,679.6L969.7,678.7L972.2,680.7L974.8,678.8L977.3,676.9L979.8,679.5L982.4,676.7L984.9,679.7L987.5,679L990,676.2L992.5,679.8L995.1,675.7L997.6,675.5L1000.2,683.1L1002.7,676.3L1005.2,675.8L1007.8,681.4L1010.3,681.7L1012.9,679.3L1015.4,681.5L1017.9,671.8L1020.5,678.1L1023,679.1L1025.6,678.2L1028.1,678.6L1028.1,702.8Z" fill="#a65628"/>
<path d="M1030.6,702.5H1480.1" stroke="#e41a1c" stroke-width="1" stroke-opacity="0.55" fill="none"/>
<path d="M1030.6,702.8L1030.6,702.8L1096.7,702.8L1099.2,694.2L1101.7,702.8L1134.7,702.8L1137.3,693.3L1139.8,702.8L1155.1,702.8L1157.6,687.6L1160.1,702.8L1162.7,689.3L1165.2,702.8L1254.1,702.8L1256.6,684.8L1259.2,702.8L1353.1,702.8L1355.7,695L1358.2,702.8L1365.8,702.8L1368.4,680.4L1370.9,702.8L1414.1,702.8L1416.6,696.8L1419.1,702.8L1480.1,702.8L1480.1,702.8Z" fill="#e41a1c"/>
<path d="M1482.6,702.5H1502.9" stroke="#ff7f00" stroke-width="1" stroke-opacity="0.55" fill="none"/>
<path d="M1482.6,702.8L1482.6,702.8L1497.9,702.8L1500.4,696.2L1502.9,702.8L1502.9,702.8Z" fill="#ff7f00"/>
<path d="M1505.5,702.5H1881.3" stroke="#984ea3" stroke-width="1" stroke-opacity="0.55" fill="none"/>
<path d="M1505.5,702.8L1505.5,702.8L1769.6,702.8L1772.1,695.7L1774.6,702.8L1881.3,702.8L1881.3,702.8Z" fill="#984ea3"/>
<path d="M1883.8,702.5H1970.2" stroke="#f781bf" stroke-width="1" stroke-opacity="0.55" fill="none"/>
<path d="M1883.8,702.8L1883.8,694.2L1886.4,702.8L1919.4,702.8L1921.9,687.1L1924.5,702.8L1942.2,702.8L1944.8,692.7L1947.3,702.8L1970.2,702.8L1970.2,702.8Z" fill="#f781bf"/>
</g>
<g>
<path d="M195.2,740.5H357.7" stroke="#377eb8" stroke-width="1" stroke-opacity="0.55" fill="none"/>
<path d="M195.2,740.8L195.2,740.8L314.5,740.8L317.1,727.2L319.6,740.8L322.2,740.8L324.7,731.4L327.2,740.8L357.7,740.8L357.7,740.8Z" fill="#377eb8"/>
<path d="M360.3,740.5H746.2" stroke="#4daf4a" stroke-width="1" stroke-opacity="0.55" fill="none"/>
<path d="M360.3,740.8L360.3,740.8L499.9,740.8L502.5,720.6L505,740.8L543.1,740.8L545.6,730.3L548.2,740.8L598.9,740.8L601.5,724.8L604,740.8L619.3,740.8L621.8,721.1L624.3,740.8L652.3,740.8L654.8,718.8L657.4,740.8L746.2,740.8L746.2,740.8Z" fill="#4daf4a"/>
<path d="M748.8,740.5H779.2" stroke="#999999" stroke-width="1" stroke-opacity="0.55" fill="none"/>
<path d="M748.8,740.8L748.8,740.8L751.3,721.6L753.8,740.8L779.2,740.8L779.2,740.8Z" fill="#999999"/>
<path d="M781.8,740.5H860.5" stroke="#ffff33" stroke-width="1" stroke-opacity="0.55" fill="none"/>
<path d="M781.8,740.8L781.8,718L784.3,740.8L791.9,740.8L794.5,716.2L797,740.8L860.5,740.8L860.5,740.8Z" fill="#ffff33"/>
<path d="M863,740.5H1028.1" stroke="#a65628" stroke-width="1" stroke-opacity="0.55" fill="none"/>
<path d="M863,740.8L863,721.9L865.6,721.7L868.1,708.9L870.7,712.8L873.2,710.1L875.7,724.3L878.3,705.5L880.8,721L883.4,723.3L885.9,714.7L888.4,718.6L891,718L893.5,727.1L896,710.7L898.6,717L901.1,705.5L903.7,705.5L906.2,710.4L908.7,712.5L911.3,721L913.8,740.8L916.4,718.7L918.9,710.1L921.4,721.2L924,721.5L926.5,721.2L929.1,714.6L931.6,713.1L934.1,713.6L936.7,716.9L939.2,724.2L941.8,717.6L944.3,717.6L946.8,721.4L949.4,715.7L951.9,710.3L954.5,720L957,723L959.5,716.9L962.1,714.6L964.6,721.9L967.1,713.1L969.7,716.4L972.2,722.4L974.8,723.5L977.3,708.9L979.8,717.3L982.4,716.1L984.9,705.5L987.5,720.3L990,740.8L992.5,719.9L995.1,713L997.6,722.1L1000.2,716.7L1002.7,714.8L1005.2,730.8L1007.8,719.3L1010.3,724.1L1012.9,709.7L1015.4,730.5L1017.9,713.9L1020.5,709.1L1023,709L1025.6,705.5L1028.1,715.9L1028.1,740.8Z" fill="#a65628"/>
<path d="M1030.6,740.5H1480.1" stroke="#e41a1c" stroke-width="1" stroke-opacity="0.55" fill="none"/>
<path d="M1030.6,740.8L1030.6,740.8L1068.7,740.8L1071.3,733.6L1073.8,740.8L1218.5,740.8L1221.1,720L1223.6,740.8L1480.1,740.8L1480.1,740.8Z" fill="#e41a1c"/>
<path d="M1482.6,740.5H1502.9" stroke="#ff7f00" stroke-width="1.3" stroke-opacity="0.4" fill="none"/>
<path d="M1505.5,740.5H1881.3" stroke="#984ea3" stroke-width="1.3" stroke-opacity="0.4" fill="none"/>
<path d="M1883.8,740.5H1970.2" stroke="#f781bf" stroke-width="1.3" stroke-opacity="0.4" fill="none"/>
</g>
<g>
<path d="M195.2,778.5H357.7" stroke="#377eb8" stroke-width="1" stroke-opacity="0.55" fill="none"/>
<path d="M195.2,778.8L195.2,758.1L197.7,755.6L200.3,765.9L202.8,754.3L205.4,759.8L207.9,760.4L210.4,757.8L213,759.1L215.5,761L218.1,758.9L220.6,757L223.1,761.7L225.7,760.9L228.2,758.1L230.8,759.8L233.3,757.2L235.8,754.5L238.4,754.3L240.9,754.1L243.4,754.8L246,760L248.5,758.5L251.1,754.7L253.6,758L256.1,760.8L258.7,760.5L261.2,761.3L263.8,754.3L266.3,760.9L268.8,760L271.4,761.3L273.9,755.4L276.5,760.7L279,759.2L281.5,760.5L284.1,755.5L286.6,756.1L289.2,757L291.7,751.1L294.2,757.2L296.8,752.5L299.3,759.2L301.9,756.7L304.4,760.4L306.9,759.4L309.5,754.5L312,758.4L314.5,756.4L317.1,756.9L319.6,755.8L322.2,756.2L324.7,760.6L327.2,758.7L329.8,759.7L332.3,760.9L334.9,756.5L337.4,762L339.9,758.6L342.5,753.1L345,756.3L347.6,757.9L350.1,751.6L352.6,757.1L355.2,763.4L357.7,759.4L357.7,778.8Z" fill="#377eb8"/>
<path d="M360.3,778.5H746.2" stroke="#4daf4a" stroke-width="1" stroke-opacity="0.55" fill="none"/>
<path d="M360.3,778.8L360.3,766.5L362.8,762.7L365.3,756.2L367.9,762.5L370.4,765L373,760.4L375.5,764.5L378,758.2L380.6,762.5L383.1,756.8L385.6,760.1L388.2,763.9L390.7,762.2L393.3,761.6L395.8,762.4L398.3,755.9L400.9,763L403.4,758.5L406,761.6L408.5,757.9L411,764.3L413.6,764.4L416.1,758.1L418.7,755.3L421.2,764.2L423.7,760.6L426.3,761.4L428.8,762.5L431.4,756.6L433.9,759.5L436.4,764.2L439,760.3L441.5,755.5L444.1,761.8L446.6,761.4L449.1,762.1L451.7,759.2L454.2,761.3L456.7,756.9L459.3,762.1L461.8,764.4L464.4,758.3L466.9,769.9L469.4,762.5L472,758.8L474.5,758.9L477.1,761.6L479.6,761L482.1,758.1L484.7,748.4L487.2,762.3L489.8,760.2L492.3,761.2L494.8,758L497.4,759.7L499.9,758L502.5,754.5L505,760.5L507.5,760.7L510.1,758.5L512.6,753L515.2,760.7L517.7,754.3L520.2,756L522.8,768.5L525.3,762.6L527.8,762.9L530.4,758.4L532.9,755.5L535.5,759.5L538,759.2L540.5,753.1L543.1,758.6L545.6,753.1L548.2,762.6L550.7,754.6L553.2,761.4L555.8,767L558.3,762.4L560.9,761.1L563.4,759.9L565.9,757.3L568.5,757.5L571,758.1L573.6,762.1L576.1,754.2L578.6,755.9L581.2,759.5L583.7,761.6L586.3,759.8L588.8,760.5L591.3,761.7L593.9,759.8L596.4,761.6L598.9,757.7L601.5,761.6L604,758.2L606.6,758.7L609.1,759.2L611.6,758L614.2,763L616.7,751.8L619.3,762L621.8,757.4L624.3,759.7L626.9,760.9L629.4,754.2L632,756.3L634.5,760.6L637,757.9L639.6,757.5L642.1,754.8L644.7,756.5L647.2,760.1L649.7,760.5L652.3,763.2L654.8,758.9L657.4,757L659.9,761L662.4,757.6L665,759.3L667.5,778.8L670,761L672.6,763.6L675.1,756.3L677.7,751.6L680.2,758L682.7,763.2L685.3,762.8L687.8,758.9L690.4,757.7L692.9,754.9L695.4,767L698,753.8L700.5,759.1L703.1,759.3L705.6,758.5L708.1,760.9L710.7,760.5L713.2,756.3L715.8,764.9L718.3,760.1L720.8,757.9L723.4,765L725.9,760.1L728.5,754.8L731,758.5L733.5,778.8L736.1,757.5L738.6,757.5L741.1,759L743.7,758.6L746.2,762.3L746.2,778.8Z" fill="#4daf4a"/>
<path d="M748.8,778.5H779.2" stroke="#999999" stroke-width="1" stroke-opacity="0.55" fill="none"/>
<path d="M748.8,778.8L748.8,758.5L751.3,759.4L753.8,757.6L756.4,758.1L758.9,760.2L761.5,756.7L764,757.3L766.5,758L769.1,759.6L771.6,759.9L774.2,758.4L776.7,756.5L779.2,756.7L779.2,778.8Z" fill="#999999"/>
<path d="M781.8,778.5H860.5" stroke="#ffff33" stroke-width="1" stroke-opacity="0.55" fill="none"/>
<path d="M781.8,778.8L781.8,754.8L784.3,752.4L786.9,753.7L789.4,756.7L791.9,757.3L794.5,759.8L797,760L799.6,763.2L802.1,758.4L804.6,761.3L807.2,759.9L809.7,756.5L812.2,753.1L814.8,758L817.3,760.1L819.9,760.9L822.4,755.3L824.9,760.2L827.5,757.7L830,757.2L832.6,755.6L835.1,757.6L837.6,760.5L840.2,759.6L842.7,760.5L845.3,759.2L847.8,760.6L850.3,754.6L852.9,757.2L855.4,758.7L858,756.7L860.5,764.2L860.5,778.8Z" fill="#ffff33"/>
<path d="M863,778.5H1028.1" stroke="#a65628" stroke-width="1" stroke-opacity="0.55" fill="none"/>
<path d="M863,778.8L863,759.1L865.6,761.2L868.1,757.7L870.7,754L873.2,765.1L875.7,761.2L878.3,755.8L880.8,761.2L883.4,758.9L885.9,760L888.4,756.9L891,761.8L893.5,757.9L896,758.1L898.6,757.3L901.1,757.7L903.7,758.3L906.2,762.5L908.7,759.4L911.3,760.7L913.8,757.4L916.4,759.1L918.9,758.3L921.4,756.2L924,758.9L926.5,754.9L929.1,756.7L931.6,761.9L934.1,760L936.7,755.9L939.2,759.8L941.8,756L944.3,759.9L946.8,758.9L949.4,756.3L951.9,762.1L954.5,758.5L957,759.6L959.5,758.2L962.1,754.8L964.6,757.5L967.1,761.6L969.7,756.4L972.2,759.6L974.8,758.3L977.3,756.1L979.8,759.3L982.4,756.5L984.9,758.2L987.5,760.6L990,759.3L992.5,761.6L995.1,755.9L997.6,758.3L1000.2,756.4L1002.7,761.1L1005.2,756.7L1007.8,761.3L1010.3,758L1012.9,758.7L1015.4,760L1017.9,757.9L1020.5,758.6L1023,760.5L1025.6,760.3L1028.1,761.5L1028.1,778.8Z" fill="#a65628"/>
<path d="M1030.6,778.5H1480.1" stroke="#e41a1c" stroke-width="1" stroke-opacity="0.55" fill="none"/>
<path d="M1030.6,778.8L1030.6,746.4L1033.2,746.9L1035.7,746L1038.2,746.7L1040.8,747.3L1043.3,746.4L1045.9,746.8L1048.4,747.4L1050.9,747.4L1053.5,747.4L1056,747.3L1058.6,747.4L1061.1,746L1063.6,744.2L1066.2,747.1L1068.7,745.9L1071.3,748.9L1073.8,750.1L1076.3,747.4L1078.9,747.1L1081.4,747.7L1084,748.3L1086.5,747.8L1089,747.5L1091.6,746.8L1094.1,747.3L1096.7,748.2L1099.2,747.3L1101.7,745.5L1104.3,747.8L1106.8,746.9L1109.3,746L1111.9,747.8L1114.4,747.5L1117,744.1L1119.5,745.8L1122,747.5L1124.6,746.8L1127.1,746.9L1129.7,746.8L1132.2,746.5L1134.7,747.3L1137.3,749.2L1139.8,747.9L1142.4,746.8L1144.9,748.3L1147.4,747.3L1150,745.5L1152.5,746.7L1155.1,747.6L1157.6,746.8L1160.1,746L1162.7,748.7L1165.2,748.2L1167.8,747.6L1170.3,747.4L1172.8,747.1L1175.4,747.5L1177.9,746.9L1180.4,746.9L1183,748.1L1185.5,747.6L1188.1,748.2L1190.6,746.7L1193.1,746.7L1195.7,746.4L1198.2,747.8L1200.8,747.5L1203.3,749.2L1205.8,747L1208.4,748.6L1210.9,746.6L1213.5,745.9L1216,746.6L1218.5,746.4L1221.1,746.8L1223.6,746.6L1226.2,746.1L1228.7,745.7L1231.2,745L1233.8,747.2L1236.3,746.2L1238.9,746.1L1241.4,746.6L1243.9,746.7L1246.5,748.2L1249,745.9L1251.5,747.8L1254.1,747.6L1256.6,747.8L1259.2,746.4L1261.7,747.9L1264.2,746.5L1266.8,746.4L1269.3,746.9L1271.9,747.3L1274.4,746.4L1276.9,745.7L1279.5,747.4L1282,748L1284.6,747.6L1287.1,747.8L1289.6,747.2L1292.2,747.1L1294.7,749.3L1297.3,745.6L1299.8,747.8L1302.3,747.4L1304.9,748.9L1307.4,748.9L1310,748L1312.5,746.8L1315,746.1L1317.6,748.7L1320.1,746.8L1322.6,745.5L1325.2,747.3L1327.7,746.1L1330.3,746.7L1332.8,747.9L1335.3,746L1337.9,747.6L1340.4,746.6L1343,747.4L1345.5,747.2L1348,746.8L1350.6,745.7L1353.1,748.6L1355.7,748.1L1358.2,746.9L1360.7,746L1363.3,747.2L1365.8,747.2L1368.4,746.5L1370.9,745.4L1373.4,747.8L1376,748.6L1378.5,747.3L1381.1,746.2L1383.6,748.2L1386.1,745.9L1388.7,746.1L1391.2,746.2L1393.7,747.8L1396.3,748.3L1398.8,746.4L1401.4,746.7L1403.9,746.3L1406.4,748.3L1409,749.8L1411.5,745.9L1414.1,746L1416.6,747.3L1419.1,747L1421.7,746.5L1424.2,746.3L1426.8,747.2L1429.3,747.5L1431.8,747.9L1434.4,746L1436.9,746.9L1439.5,750.2L1442,746.6L1444.5,747.5L1447.1,748.2L1449.6,747.5L1452.2,748.2L1454.7,747.4L1457.2,747.5L1459.8,746.5L1462.3,748L1464.8,748.7L1467.4,747.6L1469.9,748.3L1472.5,746.3L1475,747.2L1477.5,748.6L1480.1,747.8L1480.1,778.8Z" fill="#e41a1c"/>
<path d="M1482.6,778.5H1502.9" stroke="#ff7f00" stroke-width="1" stroke-opacity="0.55" fill="none"/>
<path d="M1482.6,778.8L1482.6,759.6L1485.2,756.7L1487.7,757L1490.2,760L1492.8,764.2L1495.3,756.5L1497.9,757.4L1500.4,757L1502.9,760.2L1502.9,778.8Z" fill="#ff7f00"/>
<path d="M1505.5,778.5H1881.3" stroke="#984ea3" stroke-width="1" stroke-opacity="0.55" fill="none"/>
<path d="M1505.5,778.8L1505.5,754.9L1508,757.1L1510.6,758L1513.1,749.8L1515.6,755.8L1518.2,757.5L1520.7,754.7L1523.3,754.1L1525.8,752.6L1528.3,754.1L1530.9,755.2L1533.4,752.9L1536,760.5L1538.5,760L1541,751.5L1543.6,752.5L1546.1,754.2L1548.6,752.3L1551.2,749.9L1553.7,754.4L1556.3,761.1L1558.8,757.7L1561.3,752.7L1563.9,751.4L1566.4,754.7L1569,758.4L1571.5,757.3L1574,757L1576.6,752.9L1579.1,754.3L1581.7,754.1L1584.2,753.6L1586.7,751.8L1589.3,760.1L1591.8,754.1L1594.4,755.7L1596.9,753L1599.4,751.5L1602,755.7L1604.5,754.2L1607.1,757.8L1609.6,755.3L1612.1,756L1614.7,754.8L1617.2,752.6L1619.7,756.4L1622.3,758.3L1624.8,753.1L1627.4,757.5L1629.9,753.7L1632.4,754.5L1635,755.2L1637.5,756.6L1640.1,755.5L1642.6,754.3L1645.1,751.2L1647.7,756.4L1650.2,761.1L1652.8,759.2L1655.3,752.6L1657.8,754.6L1660.4,755L1662.9,754.2L1665.5,758.3L1668,753.3L1670.5,760.3L1673.1,755.6L1675.6,757.1L1678.2,761.2L1680.7,752.1L1683.2,753.1L1685.8,752.9L1688.3,754.6L1690.8,756.8L1693.4,755.5L1695.9,753.8L1698.5,755L1701,754.3L1703.5,757.9L1706.1,759.7L1708.6,754.3L1711.2,753.9L1713.7,752.8L1716.2,756.9L1718.8,751.4L1721.3,752.2L1723.9,753.2L1726.4,751.9L1728.9,758L1731.5,754.2L1734,761.7L1736.6,757.9L1739.1,757.2L1741.6,754.6L1744.2,754L1746.7,754.3L1749.3,758.4L1751.8,756.8L1754.3,758.6L1756.9,758.1L1759.4,758.7L1761.9,758L1764.5,755.6L1767,756.1L1769.6,758.8L1772.1,754.3L1774.6,755.2L1777.2,753.1L1779.7,753.1L1782.3,757.7L1784.8,756.8L1787.3,756.8L1789.9,751.4L1792.4,750.9L1795,752.5L1797.5,752.8L1800,756.6L1802.6,753.4L1805.1,751.3L1807.7,761L1810.2,756.1L1812.7,756.3L1815.3,755L1817.8,750.8L1820.4,752.7L1822.9,757.7L1825.4,754.4L1828,755.4L1830.5,753L1833,756.8L1835.6,758L1838.1,756.8L1840.7,756.3L1843.2,756.2L1845.7,752.5L1848.3,752.9L1850.8,755.3L1853.4,752L1855.9,754.8L1858.4,755.2L1861,756.7L1863.5,755.8L1866.1,756.8L1868.6,756.4L1871.1,759.7L1873.7,756.6L1876.2,755L1878.8,754.9L1881.3,752.9L1881.3,778.8Z" fill="#984ea3"/>
<path d="M1883.8,778.5H1970.2" stroke="#f781bf" stroke-width="1" stroke-opacity="0.55" fill="none"/>
<path d="M1883.8,778.8L1883.8,758.7L1886.4,758L1888.9,757.4L1891.5,757.2L1894,758L1896.5,759.1L1899.1,757.3L1901.6,758.3L1904.1,759.4L1906.7,760.4L1909.2,756.2L1911.8,757.3L1914.3,759.7L1916.8,758.4L1919.4,760.8L1921.9,756.8L1924.5,756.7L1927,754.9L1929.5,757.6L1932.1,756.9L1934.6,757.1L1937.2,756.5L1939.7,759.7L1942.2,761.4L1944.8,758.4L1947.3,757.1L1949.9,758.2L1952.4,762.4L1954.9,755.6L1957.5,759.9L1960,757.7L1962.6,760.6L1965.1,760.7L1967.6,757L1970.2,759.9L1970.2,778.8Z" fill="#f781bf"/>
</g>
<g>
<path d="M195.2,816.5H357.7" stroke="#377eb8" stroke-width="1" stroke-opacity="0.55" fill="none"/>
<path d="M195.2,816.8L195.2,816.8L202.8,816.8L205.4,804.6L207.9,816.8L230.8,816.8L233.3,811L235.8,816.8L251.1,816.8L253.6,792L256.1,816.8L294.2,816.8L296.8,798.2L299.3,816.8L309.5,816.8L312,809.4L314.5,816.8L357.7,816.8L357.7,816.8Z" fill="#377eb8"/>
<path d="M360.3,816.5H746.2" stroke="#4daf4a" stroke-width="1" stroke-opacity="0.55" fill="none"/>
<path d="M360.3,816.8L360.3,816.8L362.8,810.9L365.3,816.8L378,816.8L380.6,809.6L383.1,816.8L385.6,803.4L388.2,816.8L413.6,816.8L416.1,809.9L418.7,808.8L421.2,816.8L439,816.8L441.5,808.4L444.1,816.8L456.7,816.8L459.3,805.1L461.8,816.8L479.6,816.8L482.1,804L484.7,816.8L530.4,816.8L532.9,804.1L535.5,801.3L538,816.8L555.8,816.8L558.3,795.2L560.9,809.7L563.4,816.8L576.1,816.8L578.6,810.5L581.2,816.8L591.3,816.8L593.9,802.3L596.4,816.8L598.9,810.4L601.5,816.8L606.6,816.8L609.1,806.2L611.6,816.8L634.5,816.8L637,806.4L639.6,816.8L659.9,816.8L662.4,807.8L665,816.8L667.5,808.6L670,816.8L672.6,816.8L675.1,809.3L677.7,816.8L687.8,816.8L690.4,809.7L692.9,816.8L705.6,816.8L708.1,798.1L710.7,816.8L713.2,816.8L715.8,805.9L718.3,816.8L746.2,816.8L746.2,816.8Z" fill="#4daf4a"/>
<path d="M748.8,816.5H779.2" stroke="#999999" stroke-width="1" stroke-opacity="0.55" fill="none"/>
<path d="M748.8,816.8L748.8,801.9L751.3,798.7L753.8,797.6L756.4,799.1L758.9,800.3L761.5,802.8L764,816.8L769.1,816.8L771.6,789.6L774.2,802.5L776.7,803.7L779.2,805.5L779.2,816.8Z" fill="#999999"/>
<path d="M781.8,816.5H860.5" stroke="#ffff33" stroke-width="1" stroke-opacity="0.55" fill="none"/>
<path d="M781.8,816.8L781.8,816.8L835.1,816.8L837.6,809.7L840.2,816.8L860.5,816.8L860.5,816.8Z" fill="#ffff33"/>
<path d="M863,816.5H1028.1" stroke="#a65628" stroke-width="1" stroke-opacity="0.55" fill="none"/>
<path d="M863,816.8L863,816.8L875.7,816.8L878.3,802.1L880.8,816.8L896,816.8L898.6,810.7L901.1,816.8L924,816.8L926.5,795.1L929.1,816.8L964.6,816.8L967.1,806.4L969.7,816.8L977.3,816.8L979.8,808.2L982.4,816.8L1010.3,816.8L1012.9,801.8L1015.4,804.1L1017.9,816.8L1028.1,816.8L1028.1,816.8Z" fill="#a65628"/>
<path d="M1030.6,816.5H1480.1" stroke="#e41a1c" stroke-width="1" stroke-opacity="0.55" fill="none"/>
<path d="M1030.6,816.8L1030.6,787.8L1033.2,785.8L1035.7,783L1038.2,785.6L1040.8,787.7L1043.3,786.4L1045.9,789.1L1048.4,787.3L1050.9,786.4L1053.5,787.9L1056,787.5L1058.6,787L1061.1,789L1063.6,786.6L1066.2,784.7L1068.7,785.5L1071.3,787.4L1073.8,785.6L1076.3,787.4L1078.9,785.5L1081.4,786.9L1084,789L1086.5,784.6L1089,790.7L1091.6,787.6L1094.1,786.4L1096.7,785.9L1099.2,786.6L1101.7,787.1L1104.3,787.2L1106.8,787.5L1109.3,786.8L1111.9,785.6L1114.4,786.2L1117,787.6L1119.5,784.9L1122,787L1124.6,787.4L1127.1,787.8L1129.7,784.6L1132.2,788.3L1134.7,784.7L1137.3,788.1L1139.8,789.2L1142.4,787.7L1144.9,785.7L1147.4,785.7L1150,787.9L1152.5,786.1L1155.1,787.3L1157.6,786.6L1160.1,786.2L1162.7,789.3L1165.2,785.4L1167.8,787L1170.3,785.3L1172.8,786.8L1175.4,785.3L1177.9,784L1180.4,787.8L1183,785.5L1185.5,787.3L1188.1,784.1L1190.6,785.9L1193.1,787L1195.7,786.7L1198.2,784.8L1200.8,789L1203.3,785.1L1205.8,787.4L1208.4,786.5L1210.9,787.7L1213.5,786.9L1216,786.1L1218.5,785.7L1221.1,788L1223.6,787.5L1226.2,786.4L1228.7,785.5L1231.2,788.6L1233.8,786.6L1236.3,787.5L1238.9,787.8L1241.4,786.6L1243.9,787.1L1246.5,786.5L1249,789.2L1251.5,786.4L1254.1,786.1L1256.6,788.2L1259.2,784.1L1261.7,789L1264.2,785.9L1266.8,786.7L1269.3,786.9L1271.9,786.8L1274.4,785.1L1276.9,789.8L1279.5,786.2L1282,786.2L1284.6,789L1287.1,783.5L1289.6,787.2L1292.2,786.6L1294.7,787.5L1297.3,787.7L1299.8,786.6L1302.3,788.4L1304.9,788.2L1307.4,786.6L1310,786.8L1312.5,789L1315,786.7L1317.6,788.4L1320.1,786.2L1322.6,788.5L1325.2,788.7L1327.7,787.5L1330.3,788.5L1332.8,785.8L1335.3,784.6L1337.9,786.2L1340.4,786.9L1343,786.4L1345.5,785.3L1348,787.6L1350.6,787.5L1353.1,788.9L1355.7,787.3L1358.2,787.3L1360.7,787.6L1363.3,787.3L1365.8,788.2L1368.4,787.6L1370.9,786.6L1373.4,786L1376,788.7L1378.5,786.4L1381.1,788.7L1383.6,786L1386.1,786.2L1388.7,786.5L1391.2,786.8L1393.7,787.1L1396.3,787.1L1398.8,787.4L1401.4,786.8L1403.9,786.7L1406.4,791.4L1409,785.8L1411.5,786.8L1414.1,786L1416.6,787.3L1419.1,788.6L1421.7,783.2L1424.2,785.9L1426.8,787.8L1429.3,788.3L1431.8,789.3L1434.4,787.2L1436.9,787L1439.5,788.6L1442,785.6L1444.5,785.6L1447.1,787.4L1449.6,788.3L1452.2,786.4L1454.7,787.3L1457.2,787.3L1459.8,784.1L1462.3,788.9L1464.8,786.9L1467.4,787.1L1469.9,787.4L1472.5,786.4L1475,786.7L1477.5,789.9L1480.1,790.3L1480.1,816.8Z" fill="#e41a1c"/>
<path d="M1482.6,816.5H1502.9" stroke="#ff7f00" stroke-width="1" stroke-opacity="0.55" fill="none"/>
<path d="M1482.6,816.8L1482.6,816.8L1487.7,816.8L1490.2,807.3L1492.8,816.8L1495.3,801.3L1497.9,816.8L1500.4,816.8L1502.9,795.4L1502.9,816.8Z" fill="#ff7f00"/>
<path d="M1505.5,816.5H1881.3" stroke="#984ea3" stroke-width="1" stroke-opacity="0.55" fill="none"/>
<path d="M1505.5,816.8L1505.5,800.3L1508,800.7L1510.6,805.9L1513.1,793.3L1515.6,791.5L1518.2,799L1520.7,798.6L1523.3,798.6L1525.8,804.7L1528.3,816.8L1530.9,801.1L1533.4,796.9L1536,795.7L1538.5,799.7L1541,800.5L1543.6,794.7L1546.1,793.4L1548.6,805L1551.2,799.1L1553.7,795.7L1556.3,794.9L1558.8,803L1561.3,793.9L1563.9,799.2L1566.4,793.8L1569,796.6L1571.5,797.1L1574,800.5L1576.6,791L1579.1,798.8L1581.7,797.3L1584.2,800L1586.7,787.3L1589.3,797.8L1591.8,800.9L1594.4,800.9L1596.9,800.4L1599.4,796.2L1602,803.8L1604.5,799.3L1607.1,793.2L1609.6,793L1612.1,797.5L1614.7,800.9L1617.2,802L1619.7,796.6L1622.3,795.6L1624.8,801.2L1627.4,800.8L1629.9,799.2L1632.4,797.7L1635,793.2L1637.5,788.2L1640.1,794.8L1642.6,791.9L1645.1,785.9L1647.7,806.8L1650.2,793.4L1652.8,793.6L1655.3,803.1L1657.8,798.5L1660.4,798.1L1662.9,795.2L1665.5,796L1668,803.9L1670.5,798.5L1673.1,802.5L1675.6,789.6L1678.2,799.6L1680.7,798.8L1683.2,788.9L1685.8,800.9L1688.3,795.4L1690.8,799.6L1693.4,799.5L1695.9,790.2L1698.5,792.1L1701,798.4L1703.5,795.8L1706.1,804.2L1708.6,792.4L1711.2,797.1L1713.7,793.6L1716.2,797.1L1718.8,796.6L1721.3,797.9L1723.9,794.1L1726.4,800.7L1728.9,796.8L1731.5,797.2L1734,800.5L1736.6,795.6L1739.1,801L1741.6,800.7L1744.2,796.2L1746.7,794.6L1749.3,798.6L1751.8,792.8L1754.3,816.8L1756.9,805.9L1759.4,795.7L1761.9,797.7L1764.5,795.6L1767,799.1L1769.6,797.4L1772.1,794.2L1774.6,799.5L1777.2,801.7L1779.7,816.8L1782.3,794.6L1784.8,797.7L1787.3,796.5L1789.9,801.9L1792.4,791.7L1795,797.1L1797.5,793.5L1800,796.8L1802.6,797.7L1805.1,794.6L1807.7,791.9L1810.2,791.7L1812.7,796.1L1815.3,799.9L1817.8,792.7L1820.4,792.5L1822.9,792.8L1825.4,795.9L1828,794L1830.5,799.4L1833,800L1835.6,793.7L1838.1,796.6L1840.7,808.1L1843.2,792.1L1845.7,799.3L1848.3,816.8L1850.8,793.4L1853.4,797.5L1855.9,792.9L1858.4,802L1861,803L1863.5,797.9L1866.1,800.7L1868.6,791.6L1871.1,798.2L1873.7,803.4L1876.2,803.5L1878.8,798.5L1881.3,803.2L1881.3,816.8Z" fill="#984ea3"/>
<path d="M1883.8,816.5H1970.2" stroke="#f781bf" stroke-width="1" stroke-opacity="0.55" fill="none"/>
<path d="M1883.8,816.8L1883.8,795.5L1886.4,798.7L1888.9,804.9L1891.5,801.1L1894,795L1896.5,800L1899.1,797.3L1901.6,797.9L1904.1,799L1906.7,800L1909.2,816.8L1911.8,798.1L1914.3,804.4L1916.8,798.2L1919.4,804.8L1921.9,803.4L1924.5,802.9L1927,805.7L1929.5,808.5L1932.1,799L1934.6,798.4L1937.2,797.9L1939.7,791.5L1942.2,799.8L1944.8,797.4L1947.3,803.4L1949.9,797.6L1952.4,804.9L1954.9,792.4L1957.5,804.3L1960,802.1L1962.6,797.6L1965.1,809.4L1967.6,816.8L1970.2,795.3L1970.2,816.8Z" fill="#f781bf"/>
</g>
<g>
<path d="M195.2,854.5H357.7" stroke="#377eb8" stroke-width="1" stroke-opacity="0.55" fill="none"/>
<path d="M195.2,854.8L195.2,854.8L197.7,847.2L200.3,854.8L220.6,854.8L223.1,847.8L225.7,854.8L233.3,854.8L235.8,845.1L238.4,854.8L251.1,854.8L253.6,846.7L256.1,846.2L258.7,854.8L261.2,838.7L263.8,854.8L268.8,854.8L271.4,846.2L273.9,854.8L286.6,854.8L289.2,843.4L291.7,854.8L337.4,854.8L339.9,834.7L342.5,854.8L345,848.6L347.6,854.8L357.7,854.8L357.7,854.8Z" fill="#377eb8"/>
<path d="M360.3,854.5H746.2" stroke="#4daf4a" stroke-width="1" stroke-opacity="0.55" fill="none"/>
<path d="M360.3,854.8L360.3,841L362.8,854.8L367.9,854.8L370.4,847.3L373,854.8L375.5,848.5L378,854.8L383.1,854.8L385.6,844.4L388.2,854.8L431.4,854.8L433.9,835.4L436.4,854.8L439,842.5L441.5,854.8L454.2,854.8L456.7,847.8L459.3,854.8L461.8,854.8L464.4,843.3L466.9,854.8L477.1,854.8L479.6,834.8L482.1,854.8L578.6,854.8L581.2,845.4L583.7,854.8L586.3,847.4L588.8,854.8L593.9,854.8L596.4,847.4L598.9,854.8L606.6,854.8L609.1,846.7L611.6,854.8L619.3,854.8L621.8,845.2L624.3,854.8L634.5,854.8L637,844L639.6,854.8L642.1,843.1L644.7,844.1L647.2,854.8L670,854.8L672.6,845.4L675.1,854.8L680.2,854.8L682.7,845.7L685.3,854.8L690.4,854.8L692.9,841.1L695.4,848.3L698,854.8L705.6,854.8L708.1,840.5L710.7,854.8L741.1,854.8L743.7,842.2L746.2,854.8L746.2,854.8Z" fill="#4daf4a"/>
<path d="M748.8,854.5H779.2" stroke="#999999" stroke-width="1" stroke-opacity="0.55" fill="none"/>
<path d="M748.8,854.8L748.8,841.4L751.3,854.8L753.8,841.4L756.4,846.5L758.9,854.8L761.5,841.6L764,847.8L766.5,854.8L769.1,854.8L771.6,842.8L774.2,854.8L776.7,835.2L779.2,843L779.2,854.8Z" fill="#999999"/>
<path d="M781.8,854.5H860.5" stroke="#ffff33" stroke-width="1" stroke-opacity="0.55" fill="none"/>
<path d="M781.8,854.8L781.8,854.8L812.2,854.8L814.8,843.8L817.3,854.8L840.2,854.8L842.7,844.9L845.3,854.8L860.5,854.8L860.5,854.8Z" fill="#ffff33"/>
<path d="M863,854.5H1028.1" stroke="#a65628" stroke-width="1" stroke-opacity="0.55" fill="none"/>
<path d="M863,854.8L863,854.8L865.6,836.9L868.1,854.8L870.7,854.8L873.2,847.5L875.7,854.8L898.6,854.8L901.1,844.7L903.7,854.8L916.4,854.8L918.9,838.9L921.4,854.8L924,854.8L926.5,844.6L929.1,854.8L931.6,845.9L934.1,854.8L946.8,854.8L949.4,846L951.9,854.8L974.8,854.8L977.3,844.4L979.8,854.8L984.9,854.8L987.5,838.9L990,854.8L1010.3,854.8L1012.9,847.6L1015.4,854.8L1028.1,854.8L1028.1,854.8Z" fill="#a65628"/>
<path d="M1030.6,854.5H1480.1" stroke="#e41a1c" stroke-width="1" stroke-opacity="0.55" fill="none"/>
<path d="M1030.6,854.8L1030.6,822.6L1033.2,828.1L1035.7,826.2L1038.2,822.7L1040.8,824.6L1043.3,823.9L1045.9,826.6L1048.4,824.8L1050.9,822.3L1053.5,826.2L1056,824.6L1058.6,824.7L1061.1,827.8L1063.6,824.3L1066.2,826.8L1068.7,824.8L1071.3,825.1L1073.8,825.5L1076.3,825.2L1078.9,825.7L1081.4,825.7L1084,825L1086.5,825.4L1089,825.5L1091.6,826.1L1094.1,823.3L1096.7,825.1L1099.2,828.2L1101.7,825.4L1104.3,826L1106.8,821L1109.3,825.2L1111.9,824.7L1114.4,825.4L1117,823.6L1119.5,825.6L1122,825.4L1124.6,822.8L1127.1,826.7L1129.7,825.2L1132.2,829.8L1134.7,822.8L1137.3,824.3L1139.8,824.5L1142.4,825.9L1144.9,826L1147.4,824.5L1150,823.5L1152.5,825.9L1155.1,824.5L1157.6,826.2L1160.1,827.2L1162.7,826.7L1165.2,825.8L1167.8,824L1170.3,823.2L1172.8,824L1175.4,826L1177.9,824.5L1180.4,825.7L1183,823.8L1185.5,823.6L1188.1,823.6L1190.6,824.5L1193.1,824.2L1195.7,828.1L1198.2,821.5L1200.8,825.4L1203.3,826.2L1205.8,823L1208.4,828.2L1210.9,826.5L1213.5,822.6L1216,826.5L1218.5,826.6L1221.1,823.1L1223.6,826.4L1226.2,827.3L1228.7,828.1L1231.2,825.8L1233.8,824.9L1236.3,822.6L1238.9,825L1241.4,828.3L1243.9,824.5L1246.5,823.9L1249,825.3L1251.5,824.4L1254.1,823.1L1256.6,824.4L1259.2,825L1261.7,823.9L1264.2,824.5L1266.8,826.1L1269.3,824.7L1271.9,826.1L1274.4,827.6L1276.9,824.1L1279.5,826.8L1282,825L1284.6,827.9L1287.1,825.3L1289.6,826.5L1292.2,827.7L1294.7,826.4L1297.3,825.1L1299.8,823.6L1302.3,822.9L1304.9,825L1307.4,823.8L1310,824L1312.5,824.8L1315,824.4L1317.6,824L1320.1,826L1322.6,822.6L1325.2,825.8L1327.7,826.7L1330.3,826.1L1332.8,826.8L1335.3,827.4L1337.9,824.4L1340.4,823.3L1343,825.2L1345.5,824.1L1348,824.5L1350.6,822.4L1353.1,823.6L1355.7,825.8L1358.2,824.6L1360.7,824.2L1363.3,825.6L1365.8,823.7L1368.4,823.7L1370.9,826.4L1373.4,827.3L1376,825L1378.5,824.4L1381.1,823.7L1383.6,825.6L1386.1,824.9L1388.7,825.8L1391.2,823.2L1393.7,826.1L1396.3,825.9L1398.8,823.2L1401.4,824.2L1403.9,825L1406.4,825L1409,822.6L1411.5,825.7L1414.1,823.8L1416.6,825.6L1419.1,824.7L1421.7,828.2L1424.2,825.4L1426.8,825.4L1429.3,825.3L1431.8,823.6L1434.4,827L1436.9,824.3L1439.5,824.7L1442,824.1L1444.5,823.5L1447.1,824.9L1449.6,824.2L1452.2,824.3L1454.7,822.1L1457.2,824.7L1459.8,824.8L1462.3,823.2L1464.8,825.5L1467.4,825.3L1469.9,827.8L1472.5,825.9L1475,824.9L1477.5,822.9L1480.1,825.4L1480.1,854.8Z" fill="#e41a1c"/>
<path d="M1482.6,854.5H1502.9" stroke="#ff7f00" stroke-width="1" stroke-opacity="0.55" fill="none"/>
<path d="M1482.6,854.8L1482.6,841.1L1485.2,854.8L1487.7,840.3L1490.2,835.1L1492.8,832L1495.3,835.8L1497.9,843.1L1500.4,834.8L1502.9,854.8L1502.9,854.8Z" fill="#ff7f00"/>
<path d="M1505.5,854.5H1881.3" stroke="#984ea3" stroke-width="1" stroke-opacity="0.55" fill="none"/>
<path d="M1505.5,854.8L1505.5,831.5L1508,837.7L1510.6,835.8L1513.1,830.5L1515.6,835.2L1518.2,835L1520.7,839.6L1523.3,833.1L1525.8,832.1L1528.3,842.8L1530.9,831.1L1533.4,834.6L1536,837.5L1538.5,832.6L1541,833.5L1543.6,838.1L1546.1,840.2L1548.6,836.4L1551.2,832.1L1553.7,838.1L1556.3,836.4L1558.8,835.2L1561.3,836.5L1563.9,833.5L1566.4,834.3L1569,839.7L1571.5,832.2L1574,831.8L1576.6,830.6L1579.1,839.4L1581.7,837.2L1584.2,832.8L1586.7,838.3L1589.3,835.6L1591.8,828.8L1594.4,836L1596.9,824L1599.4,843.6L1602,828.9L1604.5,830.2L1607.1,836.6L1609.6,833.1L1612.1,837.6L1614.7,836.9L1617.2,832.8L1619.7,826.5L1622.3,834.4L1624.8,833.8L1627.4,839.7L1629.9,831.2L1632.4,833.8L1635,838.3L1637.5,836.4L1640.1,834L1642.6,833.4L1645.1,840.2L1647.7,834L1650.2,830.3L1652.8,832.6L1655.3,836.9L1657.8,834.4L1660.4,829.7L1662.9,837.3L1665.5,837.2L1668,832.1L1670.5,834.9L1673.1,835.6L1675.6,837L1678.2,840.5L1680.7,834.3L1683.2,835.9L1685.8,833.6L1688.3,837.2L1690.8,839.3L1693.4,840.4L1695.9,839.4L1698.5,837.6L1701,832.2L1703.5,841L1706.1,833.1L1708.6,836.1L1711.2,832.9L1713.7,839L1716.2,830.6L1718.8,835.1L1721.3,837L1723.9,831.1L1726.4,843.6L1728.9,837.9L1731.5,830.1L1734,836.5L1736.6,839.1L1739.1,835L1741.6,834.8L1744.2,833L1746.7,837.1L1749.3,832.2L1751.8,840.6L1754.3,831.7L1756.9,839.1L1759.4,835.9L1761.9,840.9L1764.5,828.2L1767,837.6L1769.6,832.9L1772.1,836.9L1774.6,833.7L1777.2,835.7L1779.7,832.4L1782.3,829.1L1784.8,842.6L1787.3,837.3L1789.9,835.6L1792.4,833.9L1795,831.1L1797.5,829.6L1800,833.8L1802.6,838.2L1805.1,835.5L1807.7,835.7L1810.2,832.6L1812.7,836L1815.3,833.8L1817.8,831.5L1820.4,838.7L1822.9,834.5L1825.4,835.4L1828,837L1830.5,834.2L1833,837.7L1835.6,840.5L1838.1,830.9L1840.7,835.3L1843.2,840.2L1845.7,834.1L1848.3,838.2L1850.8,837.2L1853.4,831.8L1855.9,833.8L1858.4,836.6L1861,836.1L1863.5,838.5L1866.1,830.2L1868.6,836.7L1871.1,832.1L1873.7,836.5L1876.2,837.3L1878.8,834.4L1881.3,834.2L1881.3,854.8Z" fill="#984ea3"/>
<path d="M1883.8,854.5H1970.2" stroke="#f781bf" stroke-width="1" stroke-opacity="0.55" fill="none"/>
<path d="M1883.8,854.8L1883.8,854.8L1886.4,841.4L1888.9,854.8L1891.5,843.2L1894,854.8L1896.5,849.3L1899.1,846.9L1901.6,842L1904.1,841.3L1906.7,846.1L1909.2,848.6L1911.8,846.9L1914.3,854.8L1916.8,847.6L1919.4,849.4L1921.9,846.8L1924.5,845.3L1927,839L1929.5,854.8L1932.1,843.9L1934.6,839.9L1937.2,844.8L1939.7,846.1L1942.2,838.2L1944.8,845.5L1947.3,843.7L1949.9,842.9L1952.4,841.8L1954.9,848.8L1957.5,849.5L1960,839.8L1962.6,849.5L1965.1,854.8L1967.6,846.1L1970.2,845.3L1970.2,854.8Z" fill="#f781bf"/>
</g>
<g>
<path d="M195.2,892.5H357.7" stroke="#377eb8" stroke-width="1" stroke-opacity="0.55" fill="none"/>
<path d="M195.2,892.8L195.2,892.8L210.4,892.8L213,881.6L215.5,892.8L218.1,882.2L220.6,892.8L223.1,881.4L225.7,892.8L228.2,883.2L230.8,892.8L233.3,881.2L235.8,892.8L238.4,884.8L240.9,892.8L243.4,885.4L246,876.9L248.5,892.8L251.1,880L253.6,874.3L256.1,892.8L258.7,879.8L261.2,892.8L263.8,879.7L266.3,892.8L271.4,892.8L273.9,874.2L276.5,874.6L279,892.8L281.5,879.6L284.1,881.7L286.6,892.8L289.2,892.8L291.7,885.5L294.2,892.8L296.8,877L299.3,886.1L301.9,877.1L304.4,875.1L306.9,892.8L309.5,877.2L312,883.3L314.5,892.8L317.1,864.4L319.6,884.6L322.2,884L324.7,892.8L327.2,866L329.8,892.8L334.9,892.8L337.4,876.3L339.9,883.9L342.5,892.8L345,879.2L347.6,892.8L352.6,892.8L355.2,878L357.7,882.1L357.7,892.8Z" fill="#377eb8"/>
<path d="M360.3,892.5H746.2" stroke="#4daf4a" stroke-width="1" stroke-opacity="0.55" fill="none"/>
<path d="M360.3,892.8L360.3,872.8L362.8,874L365.3,873.8L367.9,864.2L370.4,866.1L373,879.4L375.5,892.8L378,872.8L380.6,887L383.1,892.8L385.6,877.5L388.2,892.8L390.7,868.4L393.3,879.8L395.8,892.8L400.9,892.8L403.4,882.5L406,892.8L408.5,877.7L411,875.5L413.6,864.2L416.1,867.7L418.7,880L421.2,867.9L423.7,892.8L426.3,892.8L428.8,877L431.4,880.5L433.9,880.8L436.4,870.4L439,865.2L441.5,892.8L444.1,873.4L446.6,878.9L449.1,880.2L451.7,892.8L454.2,884.9L456.7,892.8L459.3,892.8L461.8,873.9L464.4,883.7L466.9,892.8L469.4,870.4L472,879L474.5,892.8L479.6,892.8L482.1,875.3L484.7,864.3L487.2,892.8L489.8,867.2L492.3,892.8L494.8,879.5L497.4,884.6L499.9,892.8L502.5,877.8L505,875.3L507.5,892.8L510.1,874L512.6,877.1L515.2,883.4L517.7,879.4L520.2,879.2L522.8,892.8L525.3,883.5L527.8,881L530.4,892.8L532.9,872.9L535.5,871.7L538,872.7L540.5,873.5L543.1,868.7L545.6,892.8L548.2,892.8L550.7,882.5L553.2,892.8L555.8,872.9L558.3,892.8L560.9,879.7L563.4,872.9L565.9,879.2L568.5,892.8L576.1,892.8L578.6,878.1L581.2,873.9L583.7,879.3L586.3,892.8L588.8,878.6L591.3,872.4L593.9,876.1L596.4,877.4L598.9,892.8L601.5,876.9L604,892.8L606.6,874.4L609.1,892.8L611.6,873.6L614.2,892.8L616.7,885.5L619.3,873L621.8,879.2L624.3,892.8L626.9,874.7L629.4,883.1L632,875.2L634.5,869.1L637,876L639.6,880.8L642.1,864.4L644.7,874.4L647.2,878.3L649.7,877.7L652.3,863.6L654.8,871.4L657.4,885.1L659.9,892.8L662.4,875.7L665,892.8L667.5,866.2L670,877.7L672.6,881.9L675.1,881.8L677.7,892.8L680.2,875.1L682.7,871.8L685.3,878.4L687.8,880.1L690.4,878.5L692.9,892.8L695.4,881.3L698,876.1L700.5,892.8L703.1,877.2L705.6,892.8L708.1,876.4L710.7,876.3L713.2,892.8L715.8,875.5L718.3,863.5L720.8,880.1L723.4,872.7L725.9,892.8L728.5,872.8L731,876.2L733.5,874.4L736.1,879.5L738.6,875L741.1,877.7L743.7,892.8L746.2,875.4L746.2,892.8Z" fill="#4daf4a"/>
<path d="M748.8,892.5H779.2" stroke="#999999" stroke-width="1" stroke-opacity="0.55" fill="none"/>
<path d="M748.8,892.8L748.8,871.2L751.3,868.3L753.8,892.8L756.4,873.3L758.9,868L761.5,882.4L764,867L766.5,873.4L769.1,870.7L771.6,871L774.2,872L776.7,874.3L779.2,868.9L779.2,892.8Z" fill="#999999"/>
<path d="M781.8,892.5H860.5" stroke="#ffff33" stroke-width="1" stroke-opacity="0.55" fill="none"/>
<path d="M781.8,892.8L781.8,872.3L784.3,881.1L786.9,875.2L789.4,892.8L791.9,877.8L794.5,880.1L797,872.8L799.6,877.3L802.1,882L804.6,877.3L807.2,877.7L809.7,875.6L812.2,867L814.8,874.4L817.3,870.6L819.9,877.7L822.4,874.9L824.9,874.6L827.5,877.4L830,875.8L832.6,892.8L835.1,878.9L837.6,873.7L840.2,880.9L842.7,869.1L845.3,887.5L847.8,883.2L850.3,877.5L852.9,875.2L855.4,876.3L858,884.2L860.5,875.1L860.5,892.8Z" fill="#ffff33"/>
<path d="M863,892.5H1028.1" stroke="#a65628" stroke-width="1" stroke-opacity="0.55" fill="none"/>
<path d="M863,892.8L863,876.6L865.6,872.9L868.1,879L870.7,873.4L873.2,866.5L875.7,877L878.3,874.1L880.8,872.3L883.4,876.3L885.9,877.7L888.4,876.1L891,872.7L893.5,878.7L896,877.6L898.6,892.8L901.1,874.6L903.7,875.1L906.2,873.6L908.7,873.9L911.3,872.1L913.8,877.9L916.4,877.2L918.9,877.6L921.4,873.5L924,873.7L926.5,892.8L929.1,873.4L931.6,877.5L934.1,876L936.7,872.6L939.2,876L941.8,873.2L944.3,870.8L946.8,875.8L949.4,876.9L951.9,874.8L954.5,870.2L957,874L959.5,864.9L962.1,874.7L964.6,881.6L967.1,873.8L969.7,874.1L972.2,873L974.8,868.4L977.3,892.8L979.8,872.2L982.4,871.8L984.9,869.2L987.5,872.4L990,870.3L992.5,878.8L995.1,868.5L997.6,868.7L1000.2,881.1L1002.7,871.6L1005.2,874L1007.8,875.3L1010.3,875.4L1012.9,874.6L1015.4,874.3L1017.9,872.5L1020.5,868.8L1023,874.7L1025.6,881.1L1028.1,872.9L1028.1,892.8Z" fill="#a65628"/>
<path d="M1030.6,892.5H1480.1" stroke="#e41a1c" stroke-width="1" stroke-opacity="0.55" fill="none"/>
<path d="M1030.6,892.8L1030.6,875.4L1033.2,879.7L1035.7,892.8L1038.2,879.3L1040.8,866.4L1043.3,875.6L1045.9,875.4L1048.4,892.8L1056,892.8L1058.6,873.8L1061.1,892.8L1063.6,861.6L1066.2,892.8L1068.7,868.9L1071.3,892.8L1073.8,864.8L1076.3,892.8L1078.9,869.7L1081.4,892.8L1084,869.5L1086.5,886.6L1089,892.8L1091.6,878.7L1094.1,873.1L1096.7,892.8L1099.2,879.3L1101.7,885.4L1104.3,892.8L1106.8,877.6L1109.3,875.2L1111.9,892.8L1117,892.8L1119.5,878.4L1122,866.8L1124.6,877L1127.1,869.3L1129.7,886.3L1132.2,892.8L1134.7,892.8L1137.3,884.2L1139.8,882.5L1142.4,875L1144.9,892.8L1147.4,870.5L1150,892.8L1152.5,861.5L1155.1,881.1L1157.6,878.1L1160.1,892.8L1162.7,892.8L1165.2,886L1167.8,874.4L1170.3,871.2L1172.8,870.3L1175.4,870.6L1177.9,882.7L1180.4,880.8L1183,861.4L1185.5,892.8L1188.1,866L1190.6,892.8L1193.1,871.3L1195.7,892.8L1200.8,892.8L1203.3,870.5L1205.8,874.9L1208.4,892.8L1210.9,875.2L1213.5,892.8L1216,872.3L1218.5,874.6L1221.1,892.8L1223.6,878.9L1226.2,863.2L1228.7,892.8L1231.2,892.8L1233.8,874.4L1236.3,873.5L1238.9,873.6L1241.4,892.8L1243.9,884.7L1246.5,875L1249,892.8L1251.5,861.5L1254.1,879L1256.6,877.9L1259.2,892.8L1261.7,872.2L1264.2,876.7L1266.8,892.8L1269.3,874.9L1271.9,886.7L1274.4,881.1L1276.9,877.6L1279.5,875.9L1282,871.1L1284.6,892.8L1292.2,892.8L1294.7,886.2L1297.3,880.4L1299.8,870.1L1302.3,880.2L1304.9,878.9L1307.4,867.4L1310,892.8L1312.5,892.8L1315,877.3L1317.6,877.6L1320.1,887.1L1322.6,872.8L1325.2,892.8L1327.7,860.4L1330.3,864.8L1332.8,871.2L1335.3,870.5L1337.9,877.1L1340.4,872.8L1343,870.2L1345.5,877.5L1348,886.6L1350.6,892.8L1353.1,880.1L1355.7,892.8L1360.7,892.8L1363.3,871.9L1365.8,874.3L1368.4,892.8L1370.9,872.2L1373.4,866.9L1376,892.8L1378.5,876.3L1381.1,869.1L1383.6,892.8L1386.1,886.2L1388.7,892.8L1391.2,892.8L1393.7,878.6L1396.3,876.7L1398.8,876.7L1401.4,881.9L1403.9,875.2L1406.4,871.8L1409,874.1L1411.5,882.5L1414.1,877.1L1416.6,892.8L1419.1,874.9L1421.7,884.6L1424.2,892.8L1426.8,866.8L1429.3,866.6L1431.8,876.7L1434.4,892.8L1436.9,870.8L1439.5,892.8L1442,892.8L1444.5,880.6L1447.1,892.8L1449.6,883.4L1452.2,884.3L1454.7,892.8L1457.2,876.6L1459.8,866.1L1462.3,880.2L1464.8,892.8L1467.4,881.9L1469.9,892.8L1472.5,881.9L1475,885.5L1477.5,892.8L1480.1,875.8L1480.1,892.8Z" fill="#e41a1c"/>
<path d="M1482.6,892.5H1502.9" stroke="#ff7f00" stroke-width="1" stroke-opacity="0.55" fill="none"/>
<path d="M1482.6,892.8L1482.6,871.8L1485.2,864.8L1487.7,866.7L1490.2,857.5L1492.8,864.9L1495.3,860.4L1497.9,868L1500.4,870.2L1502.9,861.3L1502.9,892.8Z" fill="#ff7f00"/>
<path d="M1505.5,892.5H1881.3" stroke="#984ea3" stroke-width="1" stroke-opacity="0.55" fill="none"/>
<path d="M1505.5,892.8L1505.5,869.4L1508,866.8L1510.6,873.3L1513.1,871.8L1515.6,876.3L1518.2,868.3L1520.7,860.3L1523.3,867.2L1525.8,864.8L1528.3,871L1530.9,860.2L1533.4,873.2L1536,869.1L1538.5,892.8L1541,864.8L1543.6,870L1546.1,871.5L1548.6,869.9L1551.2,862.7L1553.7,859.9L1556.3,859.5L1558.8,869L1561.3,864.5L1563.9,875.7L1566.4,865.5L1569,872L1571.5,871.5L1574,868.7L1576.6,866L1579.1,870.8L1581.7,867.8L1584.2,867L1586.7,868L1589.3,871.6L1591.8,865.7L1594.4,868.4L1596.9,872.6L1599.4,875.3L1602,865L1604.5,869.7L1607.1,871.7L1609.6,860.3L1612.1,865L1614.7,862.9L1617.2,868.9L1619.7,872.1L1622.3,874.2L1624.8,865.2L1627.4,868.9L1629.9,870.8L1632.4,881.8L1635,866L1637.5,867.4L1640.1,866.5L1642.6,871.6L1645.1,872.9L1647.7,877L1650.2,865.7L1652.8,870.2L1655.3,868.7L1657.8,867.8L1660.4,866.9L1662.9,858.4L1665.5,862.1L1668,860.9L1670.5,871.9L1673.1,872.6L1675.6,857.5L1678.2,864.3L1680.7,868.9L1683.2,871.7L1685.8,861.9L1688.3,858.7L1690.8,866.5L1693.4,862.8L1695.9,872.3L1698.5,865.5L1701,865.7L1703.5,868L1706.1,870.1L1708.6,865.7L1711.2,862.6L1713.7,871L1716.2,869.2L1718.8,872.2L1721.3,864.6L1723.9,869.2L1726.4,865.2L1728.9,866L1731.5,870.6L1734,873.5L1736.6,871.6L1739.1,871.6L1741.6,873.1L1744.2,866.7L1746.7,870.1L1749.3,869.6L1751.8,858L1754.3,873.6L1756.9,871.1L1759.4,874.6L1761.9,867.7L1764.5,871.7L1767,870.2L1769.6,863.6L1772.1,868.7L1774.6,866.2L1777.2,866.1L1779.7,872.5L1782.3,860.8L1784.8,868.1L1787.3,874.5L1789.9,866.4L1792.4,869L1795,869L1797.5,870L1800,870.9L1802.6,862.4L1805.1,870.1L1807.7,870.6L1810.2,892.8L1812.7,861.8L1815.3,865.6L1817.8,868.3L1820.4,874.2L1822.9,865L1825.4,867.2L1828,859.6L1830.5,867.3L1833,872.4L1835.6,870.8L1838.1,857.5L1840.7,871.1L1843.2,867.7L1845.7,860.6L1848.3,868.6L1850.8,869.1L1853.4,870L1855.9,871.2L1858.4,874L1861,867L1863.5,866.6L1866.1,892.8L1868.6,866.4L1871.1,873.2L1873.7,873.5L1876.2,870.4L1878.8,871L1881.3,865.4L1881.3,892.8Z" fill="#984ea3"/>
<path d="M1883.8,892.5H1970.2" stroke="#f781bf" stroke-width="1" stroke-opacity="0.55" fill="none"/>
<path d="M1883.8,892.8L1883.8,870.9L1886.4,869.8L1888.9,869L1891.5,870.7L1894,867.3L1896.5,869.3L1899.1,872.6L1901.6,868.8L1904.1,870.8L1906.7,870.5L1909.2,868.2L1911.8,869.4L1914.3,871.4L1916.8,872.8L1919.4,871.1L1921.9,870.1L1924.5,873.2L1927,871.4L1929.5,863.3L1932.1,871.4L1934.6,869.6L1937.2,873L1939.7,870.7L1942.2,869.2L1944.8,869.4L1947.3,874.2L1949.9,869.7L1952.4,872.3L1954.9,866.8L1957.5,870.1L1960,865.4L1962.6,868.9L1965.1,873.1L1967.6,867.3L1970.2,871.2L1970.2,892.8Z" fill="#f781bf"/>
</g>
<g>
<path d="M195.2,930.5H357.7" stroke="#377eb8" stroke-width="1" stroke-opacity="0.55" fill="none"/>
<path d="M195.2,930.8L195.2,930.8L314.5,930.8L317.1,902.6L319.6,930.8L357.7,930.8L357.7,930.8Z" fill="#377eb8"/>
<path d="M360.3,930.5H746.2" stroke="#4daf4a" stroke-width="1.3" stroke-opacity="0.4" fill="none"/>
<path d="M748.8,930.5H779.2" stroke="#999999" stroke-width="1" stroke-opacity="0.55" fill="none"/>
<path d="M748.8,930.8L748.8,930.8L758.9,930.8L761.5,916.7L764,930.8L779.2,930.8L779.2,930.8Z" fill="#999999"/>
<path d="M781.8,930.5H860.5" stroke="#ffff33" stroke-width="1" stroke-opacity="0.55" fill="none"/>
<path d="M781.8,930.8L781.8,930.8L784.3,911.9L786.9,930.8L789.4,911.9L791.9,930.8L809.7,930.8L812.2,900.8L814.8,930.8L819.9,930.8L822.4,918.4L824.9,930.8L847.8,930.8L850.3,908.2L852.9,916.3L855.4,930.8L860.5,930.8L860.5,930.8Z" fill="#ffff33"/>
<path d="M863,930.5H1028.1" stroke="#a65628" stroke-width="1" stroke-opacity="0.55" fill="none"/>
<path d="M863,930.8L863,913.2L865.6,911L868.1,912.2L870.7,930.8L873.2,910.9L875.7,913.3L878.3,910.9L880.8,900.4L883.4,919.1L885.9,925.5L888.4,912.8L891,906.3L893.5,909.6L896,906.3L898.6,910.7L901.1,912.5L903.7,897.7L906.2,898.1L908.7,907.2L911.3,915.6L913.8,903.7L916.4,910.3L918.9,907.3L921.4,908.6L924,910.8L926.5,930.8L929.1,919.1L931.6,912.1L934.1,916.8L936.7,914.3L939.2,910.2L941.8,910.5L944.3,921.2L946.8,930.8L949.4,905.3L951.9,908.8L954.5,921.4L957,903.2L959.5,917.6L962.1,925.5L964.6,930.8L967.1,909.3L969.7,911.9L972.2,910.9L974.8,909.9L977.3,925.5L979.8,919.5L982.4,908.2L984.9,930.8L987.5,904.4L990,904.5L992.5,912.6L995.1,908.6L997.6,904L1000.2,923.5L1002.7,914.9L1005.2,912.5L1007.8,908.3L1010.3,930.8L1028.1,930.8L1028.1,930.8Z" fill="#a65628"/>
<path d="M1030.6,930.5H1480.1" stroke="#e41a1c" stroke-width="1.3" stroke-opacity="0.4" fill="none"/>
<path d="M1482.6,930.5H1502.9" stroke="#ff7f00" stroke-width="1" stroke-opacity="0.55" fill="none"/>
<path d="M1482.6,930.8L1482.6,895.5L1485.2,899.1L1487.7,895.5L1490.2,901.6L1492.8,899.4L1495.3,902.2L1497.9,895.5L1500.4,903.9L1502.9,899.4L1502.9,930.8Z" fill="#ff7f00"/>
<path d="M1505.5,930.5H1881.3" stroke="#984ea3" stroke-width="1" stroke-opacity="0.55" fill="none"/>
<path d="M1505.5,930.8L1505.5,930.8L1513.1,930.8L1515.6,920.5L1518.2,930.8L1546.1,930.8L1548.6,911.6L1551.2,930.8L1558.8,930.8L1561.3,921.3L1563.9,917L1566.4,930.8L1569,917.9L1571.5,930.8L1574,930.8L1576.6,919.3L1579.1,930.8L1584.2,930.8L1586.7,913.7L1589.3,919.7L1591.8,930.8L1596.9,930.8L1599.4,916.9L1602,930.8L1604.5,930.8L1607.1,913.4L1609.6,930.8L1612.1,930.8L1614.7,917.7L1617.2,930.8L1619.7,930.8L1622.3,913.1L1624.8,930.8L1627.4,930.8L1629.9,921.4L1632.4,902.8L1635,930.8L1645.1,930.8L1647.7,918.3L1650.2,930.8L1652.8,930.8L1655.3,916.6L1657.8,922.4L1660.4,930.8L1678.2,930.8L1680.7,918.4L1683.2,930.8L1708.6,930.8L1711.2,921.3L1713.7,930.8L1726.4,930.8L1728.9,919.1L1731.5,930.8L1739.1,930.8L1741.6,924.1L1744.2,914L1746.7,909.1L1749.3,930.8L1751.8,916.7L1754.3,930.8L1756.9,909.3L1759.4,930.8L1761.9,916.7L1764.5,930.8L1789.9,930.8L1792.4,907.2L1795,930.8L1802.6,930.8L1805.1,916.1L1807.7,930.8L1812.7,930.8L1815.3,916.5L1817.8,930.8L1822.9,930.8L1825.4,919.8L1828,930.8L1830.5,930.8L1833,919.1L1835.6,930.8L1861,930.8L1863.5,918.4L1866.1,930.8L1868.6,930.8L1871.1,912.7L1873.7,930.8L1881.3,930.8L1881.3,930.8Z" fill="#984ea3"/>
<path d="M1883.8,930.5H1970.2" stroke="#f781bf" stroke-width="1" stroke-opacity="0.55" fill="none"/>
<path d="M1883.8,930.8L1883.8,930.8L1965.1,930.8L1967.6,914.1L1970.2,930.8L1970.2,930.8Z" fill="#f781bf"/>
</g>
<g>
<path d="M195.2,968.5H357.7" stroke="#377eb8" stroke-width="1" stroke-opacity="0.55" fill="none"/>
<path d="M195.2,968.8L195.2,952.3L197.7,951.7L200.3,951.8L202.8,968.8L205.4,942.3L207.9,951L210.4,947.3L213,947.2L215.5,968.8L218.1,968.8L220.6,940.7L223.1,961.8L225.7,952.8L228.2,956.5L230.8,942.6L233.3,954.6L235.8,950.3L238.4,954.5L240.9,968.8L243.4,968.8L246,953.8L248.5,949.2L251.1,953.5L253.6,958.6L256.1,946.2L258.7,951.5L261.2,968.8L263.8,947.8L266.3,952.5L268.8,943.9L271.4,968.8L273.9,952.2L276.5,961.5L279,948.4L281.5,948.6L284.1,944.9L286.6,968.8L289.2,952.7L291.7,963.5L294.2,954.1L296.8,959.6L299.3,953.6L301.9,957.8L304.4,955.4L306.9,953.7L309.5,950.1L312,952.6L314.5,942.9L317.1,956.3L319.6,957.4L322.2,968.8L324.7,968.8L327.2,952.9L329.8,948.7L332.3,943.2L334.9,952.5L337.4,968.8L339.9,953.5L342.5,968.8L345,950.6L347.6,951.7L350.1,950.2L352.6,968.8L355.2,956.3L357.7,957L357.7,968.8Z" fill="#377eb8"/>
<path d="M360.3,968.5H746.2" stroke="#4daf4a" stroke-width="1" stroke-opacity="0.55" fill="none"/>
<path d="M360.3,968.8L360.3,968.8L362.8,954.9L365.3,949.5L367.9,968.8L378,968.8L380.6,960.7L383.1,954.9L385.6,961L388.2,942.7L390.7,961.4L393.3,968.8L395.8,968.8L398.3,939.2L400.9,958.5L403.4,952.3L406,968.8L408.5,942.3L411,968.8L413.6,955.5L416.1,952.7L418.7,950.9L421.2,968.8L426.3,968.8L428.8,950.4L431.4,968.8L433.9,954.8L436.4,968.8L439,943.6L441.5,959.4L444.1,953L446.6,950.4L449.1,968.8L466.9,968.8L469.4,950.8L472,950.6L474.5,954.6L477.1,968.8L484.7,968.8L487.2,958.5L489.8,961.6L492.3,956.6L494.8,968.8L497.4,951.6L499.9,954.1L502.5,968.8L505,968.8L507.5,944.2L510.1,940.7L512.6,968.8L520.2,968.8L522.8,947.7L525.3,968.8L530.4,968.8L532.9,959.5L535.5,958L538,968.8L540.5,962.8L543.1,947.1L545.6,958L548.2,961.4L550.7,968.8L553.2,953.8L555.8,956.3L558.3,968.8L560.9,968.8L563.4,944.7L565.9,968.8L571,968.8L573.6,961.3L576.1,961L578.6,953.6L581.2,968.8L583.7,951.6L586.3,968.8L588.8,968.8L591.3,952.8L593.9,968.8L596.4,956.9L598.9,957L601.5,968.8L604,955.9L606.6,968.8L609.1,968.8L611.6,952.6L614.2,955.8L616.7,968.8L619.3,955.7L621.8,953.8L624.3,968.8L629.4,968.8L632,947L634.5,960.7L637,968.8L639.6,956.7L642.1,968.8L647.2,968.8L649.7,953.2L652.3,949.3L654.8,968.8L657.4,951.9L659.9,956.5L662.4,959.1L665,962L667.5,944.1L670,968.8L672.6,968.8L675.1,954.6L677.7,958.8L680.2,958L682.7,957.2L685.3,968.8L687.8,960.2L690.4,951.2L692.9,968.8L698,968.8L700.5,961.8L703.1,968.8L705.6,956.3L708.1,968.8L710.7,968.8L713.2,950L715.8,968.8L720.8,968.8L723.4,948.6L725.9,957.5L728.5,955.7L731,968.8L733.5,957.3L736.1,968.8L743.7,968.8L746.2,959.7L746.2,968.8Z" fill="#4daf4a"/>
<path d="M748.8,968.5H779.2" stroke="#999999" stroke-width="1" stroke-opacity="0.55" fill="none"/>
<path d="M748.8,968.8L748.8,953.5L751.3,960.7L753.8,968.8L756.4,961.2L758.9,958.1L761.5,953.9L764,963.5L766.5,953.4L769.1,947.5L771.6,957.2L774.2,952.6L776.7,957.1L779.2,963.1L779.2,968.8Z" fill="#999999"/>
<path d="M781.8,968.5H860.5" stroke="#ffff33" stroke-width="1" stroke-opacity="0.55" fill="none"/>
<path d="M781.8,968.8L781.8,968.8L784.3,968.8L786.9,956.9L789.4,968.8L802.1,968.8L804.6,957.2L807.2,968.8L817.3,968.8L819.9,945.7L822.4,941.1L824.9,968.8L832.6,968.8L835.1,954.8L837.6,968.8L858,968.8L860.5,954L860.5,968.8Z" fill="#ffff33"/>
<path d="M863,968.5H1028.1" stroke="#a65628" stroke-width="1" stroke-opacity="0.55" fill="none"/>
<path d="M863,968.8L863,944.5L865.6,951.5L868.1,951.9L870.7,952.4L873.2,944.5L875.7,951.1L878.3,968.8L880.8,943.2L883.4,968.8L885.9,948.4L888.4,947L891,942L893.5,943.6L896,947.3L898.6,952.3L901.1,948.1L903.7,949.1L906.2,944.3L908.7,946.3L911.3,953.1L913.8,952.9L916.4,968.8L918.9,941.1L921.4,946.7L924,968.8L926.5,947L929.1,947.5L931.6,955.8L934.1,963.5L936.7,951.7L939.2,968.8L941.8,949.5L944.3,954.4L946.8,947.8L949.4,944.2L951.9,956.1L954.5,947.5L957,958.1L959.5,947.6L962.1,946.1L964.6,948.7L967.1,949.6L969.7,954.3L972.2,946.5L974.8,947.2L977.3,948.2L979.8,968.8L982.4,951L984.9,960.9L987.5,946.6L990,945.8L992.5,942.9L995.1,968.8L997.6,938.2L1000.2,955.8L1002.7,968.8L1005.2,948.6L1007.8,944.4L1010.3,945.3L1012.9,955.6L1015.4,951.6L1017.9,950.9L1020.5,948.6L1023,951.1L1025.6,951.4L1028.1,934.7L1028.1,968.8Z" fill="#a65628"/>
<path d="M1030.6,968.5H1480.1" stroke="#e41a1c" stroke-width="1" stroke-opacity="0.55" fill="none"/>
<path d="M1030.6,968.8L1030.6,957.6L1033.2,955.6L1035.7,968.8L1040.8,968.8L1043.3,950L1045.9,950.7L1048.4,953.8L1050.9,968.8L1053.5,968.8L1056,957.5L1058.6,968.8L1071.3,968.8L1073.8,955L1076.3,968.8L1078.9,968.8L1081.4,956L1084,968.8L1086.5,955.2L1089,961.6L1091.6,968.8L1094.1,968.8L1096.7,954.6L1099.2,956L1101.7,968.8L1104.3,954.7L1106.8,958.5L1109.3,952.7L1111.9,968.8L1117,968.8L1119.5,954.2L1122,968.8L1124.6,968.8L1127.1,955.1L1129.7,938.7L1132.2,968.8L1139.8,968.8L1142.4,955.4L1144.9,968.8L1147.4,961.5L1150,955.3L1152.5,968.8L1157.6,968.8L1160.1,955.6L1162.7,953.2L1165.2,968.8L1167.8,950.1L1170.3,968.8L1172.8,968.8L1175.4,945.5L1177.9,954.2L1180.4,953.2L1183,954.3L1185.5,949.8L1188.1,968.8L1190.6,950L1193.1,968.8L1195.7,955.4L1198.2,952.3L1200.8,956.3L1203.3,954.8L1205.8,968.8L1208.4,968.8L1210.9,955.2L1213.5,968.8L1216,938.8L1218.5,962.6L1221.1,968.8L1226.2,968.8L1228.7,962.4L1231.2,956.4L1233.8,953.9L1236.3,957L1238.9,954.7L1241.4,951.1L1243.9,956.2L1246.5,968.8L1249,968.8L1251.5,954.6L1254.1,949L1256.6,968.8L1259.2,955.4L1261.7,955.4L1264.2,968.8L1266.8,968.8L1269.3,947.3L1271.9,968.8L1274.4,938.7L1276.9,952.9L1279.5,943.7L1282,942.7L1284.6,968.8L1287.1,968.8L1289.6,955L1292.2,948.6L1294.7,968.8L1304.9,968.8L1307.4,958.1L1310,956.2L1312.5,968.8L1315,950.8L1317.6,959.6L1320.1,947L1322.6,954.8L1325.2,944.1L1327.7,968.8L1330.3,959L1332.8,968.8L1340.4,968.8L1343,942.7L1345.5,944.2L1348,968.8L1350.6,968.8L1353.1,949.1L1355.7,968.8L1358.2,942.3L1360.7,968.8L1363.3,949.5L1365.8,968.8L1368.4,960.3L1370.9,941L1373.4,968.8L1376,955.2L1378.5,959.4L1381.1,949.5L1383.6,957.8L1386.1,948.4L1388.7,968.8L1391.2,951.3L1393.7,955L1396.3,956.5L1398.8,951.5L1401.4,952.1L1403.9,968.8L1406.4,968.8L1409,955.6L1411.5,958.5L1414.1,968.8L1416.6,961L1419.1,968.8L1421.7,968.8L1424.2,955.5L1426.8,968.8L1429.3,949.4L1431.8,946.9L1434.4,948.9L1436.9,962.6L1439.5,968.8L1442,951.1L1444.5,947.7L1447.1,949.3L1449.6,955.7L1452.2,962.1L1454.7,968.8L1457.2,956.2L1459.8,968.8L1462.3,945.1L1464.8,968.8L1467.4,948.6L1469.9,968.8L1472.5,955.5L1475,968.8L1477.5,968.8L1480.1,959.7L1480.1,968.8Z" fill="#e41a1c"/>
<path d="M1482.6,968.5H1502.9" stroke="#ff7f00" stroke-width="1" stroke-opacity="0.55" fill="none"/>
<path d="M1482.6,968.8L1482.6,946.6L1485.2,943.7L1487.7,940.8L1490.2,941.7L1492.8,946.8L1495.3,950.8L1497.9,937.7L1500.4,943.7L1502.9,941.1L1502.9,968.8Z" fill="#ff7f00"/>
<path d="M1505.5,968.5H1881.3" stroke="#984ea3" stroke-width="1" stroke-opacity="0.55" fill="none"/>
<path d="M1505.5,968.8L1505.5,955.9L1508,968.8L1510.6,952.1L1513.1,968.8L1515.6,968.8L1518.2,956.5L1520.7,968.8L1523.3,968.8L1525.8,959L1528.3,968.8L1536,968.8L1538.5,958.1L1541,968.8L1543.6,961.4L1546.1,968.8L1548.6,952.7L1551.2,954.5L1553.7,968.8L1556.3,956.4L1558.8,962.7L1561.3,968.8L1563.9,968.8L1566.4,957.3L1569,968.8L1576.6,968.8L1579.1,949.5L1581.7,961.5L1584.2,968.8L1586.7,968.8L1589.3,958.1L1591.8,968.8L1596.9,968.8L1599.4,962.7L1602,968.8L1604.5,959L1607.1,968.8L1617.2,968.8L1619.7,954.9L1622.3,968.8L1629.9,968.8L1632.4,950.2L1635,954.2L1637.5,968.8L1645.1,968.8L1647.7,959.5L1650.2,968.8L1652.8,962.6L1655.3,968.8L1660.4,968.8L1662.9,961.2L1665.5,954.6L1668,968.8L1683.2,968.8L1685.8,951.6L1688.3,952.7L1690.8,955.1L1693.4,960.4L1695.9,968.8L1701,968.8L1703.5,950.5L1706.1,968.8L1721.3,968.8L1723.9,962.2L1726.4,968.8L1728.9,959L1731.5,958.7L1734,968.8L1754.3,968.8L1756.9,960.8L1759.4,968.8L1761.9,968.8L1764.5,948.8L1767,968.8L1769.6,954.9L1772.1,953.2L1774.6,968.8L1779.7,968.8L1782.3,960.1L1784.8,956.9L1787.3,952.3L1789.9,968.8L1795,968.8L1797.5,958.1L1800,958.2L1802.6,959L1805.1,957L1807.7,959.2L1810.2,945.1L1812.7,968.8L1817.8,968.8L1820.4,957.3L1822.9,968.8L1828,968.8L1830.5,955.4L1833,954.6L1835.6,954.8L1838.1,968.8L1840.7,950.4L1843.2,968.8L1845.7,968.8L1848.3,952.2L1850.8,968.8L1863.5,968.8L1866.1,959.8L1868.6,955.8L1871.1,968.8L1881.3,968.8L1881.3,968.8Z" fill="#984ea3"/>
<path d="M1883.8,968.5H1970.2" stroke="#f781bf" stroke-width="1" stroke-opacity="0.55" fill="none"/>
<path d="M1883.8,968.8L1883.8,956.2L1886.4,968.8L1888.9,962.4L1891.5,968.8L1916.8,968.8L1919.4,956L1921.9,968.8L1924.5,961.5L1927,968.8L1932.1,968.8L1934.6,962L1937.2,958.1L1939.7,968.8L1947.3,968.8L1949.9,961.9L1952.4,968.8L1954.9,957.1L1957.5,968.8L1962.6,968.8L1965.1,962L1967.6,968.8L1970.2,968.8L1970.2,968.8Z" fill="#f781bf"/>
</g>
<g>
<path d="M195.2,1006.5H357.7" stroke="#377eb8" stroke-width="1.3" stroke-opacity="0.4" fill="none"/>
<path d="M360.3,1006.5H746.2" stroke="#4daf4a" stroke-width="1.3" stroke-opacity="0.4" fill="none"/>
<path d="M748.8,1006.5H779.2" stroke="#999999" stroke-width="1" stroke-opacity="0.55" fill="none"/>
<path d="M748.8,1006.8L748.8,1006.8L751.3,1006.8L753.8,986.1L756.4,1006.8L758.9,992.5L761.5,1006.8L764,1006.8L766.5,996.4L769.1,997.6L771.6,998.9L774.2,996.8L776.7,1006.8L779.2,1006.8L779.2,1006.8Z" fill="#999999"/>
<path d="M781.8,1006.5H860.5" stroke="#ffff33" stroke-width="1.3" stroke-opacity="0.4" fill="none"/>
<path d="M863,1006.5H1028.1" stroke="#a65628" stroke-width="1" stroke-opacity="0.55" fill="none"/>
<path d="M863,1006.8L863,1006.8L918.9,1006.8L921.4,994.1L924,1006.8L1028.1,1006.8L1028.1,1006.8Z" fill="#a65628"/>
<path d="M1030.6,1006.5H1480.1" stroke="#e41a1c" stroke-width="1" stroke-opacity="0.55" fill="none"/>
<path d="M1030.6,1006.8L1030.6,1006.8L1193.1,1006.8L1195.7,998.2L1198.2,1006.8L1231.2,1006.8L1233.8,996.3L1236.3,1006.8L1307.4,1006.8L1310,991.8L1312.5,1006.8L1337.9,1006.8L1340.4,995L1343,1006.8L1480.1,1006.8L1480.1,1006.8Z" fill="#e41a1c"/>
<path d="M1482.6,1006.5H1502.9" stroke="#ff7f00" stroke-width="1" stroke-opacity="0.55" fill="none"/>
<path d="M1482.6,1006.8L1482.6,1000.7L1485.2,1006.8L1487.7,1006.8L1490.2,992.8L1492.8,994.5L1495.3,980.2L1497.9,995.9L1500.4,1006.8L1502.9,1006.8L1502.9,1006.8Z" fill="#ff7f00"/>
<path d="M1505.5,1006.5H1881.3" stroke="#984ea3" stroke-width="1" stroke-opacity="0.55" fill="none"/>
<path d="M1505.5,1006.8L1505.5,987.1L1508,976.2L1510.6,982.9L1513.1,986.6L1515.6,976.2L1518.2,979.3L1520.7,980.1L1523.3,978.4L1525.8,978.6L1528.3,972.2L1530.9,983.7L1533.4,979L1536,981.1L1538.5,985.7L1541,983L1543.6,982L1546.1,984.8L1548.6,980.4L1551.2,979L1553.7,983.6L1556.3,987.2L1558.8,980.8L1561.3,982.4L1563.9,984.6L1566.4,981.7L1569,980L1571.5,977.2L1574,984.4L1576.6,976.3L1579.1,981.9L1581.7,989.9L1584.2,985.9L1586.7,974.8L1589.3,978.7L1591.8,980.6L1594.4,987.4L1596.9,985L1599.4,980.9L1602,989.3L1604.5,980.5L1607.1,977.7L1609.6,973.9L1612.1,974.6L1614.7,982.1L1617.2,984.1L1619.7,971.5L1622.3,984.5L1624.8,976.5L1627.4,981.8L1629.9,979.2L1632.4,980.7L1635,990.2L1637.5,978.3L1640.1,994.3L1642.6,981.5L1645.1,981.2L1647.7,984L1650.2,987.6L1652.8,984.7L1655.3,975.8L1657.8,979.2L1660.4,981.7L1662.9,986L1665.5,986.2L1668,980.2L1670.5,976.8L1673.1,978.1L1675.6,975.8L1678.2,983.8L1680.7,985.5L1683.2,976.8L1685.8,976.6L1688.3,973.3L1690.8,984.3L1693.4,979.1L1695.9,978.3L1698.5,979.3L1701,983L1703.5,978.2L1706.1,981.8L1708.6,980.5L1711.2,974.6L1713.7,986L1716.2,980L1718.8,981.2L1721.3,976.8L1723.9,978.8L1726.4,983.4L1728.9,984.4L1731.5,978.6L1734,973.5L1736.6,982.2L1739.1,982.2L1741.6,985.6L1744.2,988L1746.7,977.5L1749.3,985.1L1751.8,975L1754.3,983.8L1756.9,986.3L1759.4,981.7L1761.9,980.5L1764.5,982L1767,985.3L1769.6,980.2L1772.1,978.3L1774.6,976.8L1777.2,979.6L1779.7,975.5L1782.3,973.1L1784.8,984.4L1787.3,986.3L1789.9,981L1792.4,981.3L1795,983.3L1797.5,988L1800,975.8L1802.6,984.7L1805.1,982.3L1807.7,987.5L1810.2,974.3L1812.7,975.3L1815.3,975L1817.8,989.6L1820.4,981.5L1822.9,1006.8L1825.4,985.6L1828,986.2L1830.5,985.6L1833,976.8L1835.6,973.1L1838.1,975.6L1840.7,978.2L1843.2,971.5L1845.7,976.7L1848.3,975.3L1850.8,984.3L1853.4,980L1855.9,986.9L1858.4,982.4L1861,981.6L1863.5,979.9L1866.1,981.1L1868.6,1006.8L1871.1,981.9L1873.7,984L1876.2,1006.8L1878.8,989.8L1881.3,988.8L1881.3,1006.8Z" fill="#984ea3"/>
<path d="M1883.8,1006.5H1970.2" stroke="#f781bf" stroke-width="1.3" stroke-opacity="0.4" fill="none"/>
</g>
<g>
<path d="M195.2,1044.5H357.7" stroke="#377eb8" stroke-width="1" stroke-opacity="0.55" fill="none"/>
<path d="M195.2,1044.8L195.2,1044.8L205.4,1044.8L207.9,1021.8L210.4,1044.8L268.8,1044.8L271.4,1038.7L273.9,1044.8L301.9,1044.8L304.4,1037.7L306.9,1044.8L357.7,1044.8L357.7,1044.8Z" fill="#377eb8"/>
<path d="M360.3,1044.5H746.2" stroke="#4daf4a" stroke-width="1" stroke-opacity="0.55" fill="none"/>
<path d="M360.3,1044.8L360.3,1044.8L406,1044.8L408.5,1039.2L411,1044.8L436.4,1044.8L439,1036.8L441.5,1044.8L464.4,1044.8L466.9,1038L469.4,1044.8L527.8,1044.8L530.4,1032.4L532.9,1044.8L637,1044.8L639.6,1037.6L642.1,1044.8L746.2,1044.8L746.2,1044.8Z" fill="#4daf4a"/>
<path d="M748.8,1044.5H779.2" stroke="#999999" stroke-width="1" stroke-opacity="0.55" fill="none"/>
<path d="M748.8,1044.8L748.8,1044.8L751.3,1044.8L753.8,1019.6L756.4,1033.1L758.9,1035.6L761.5,1044.8L766.5,1044.8L769.1,1021.9L771.6,1044.8L774.2,1044.8L776.7,1029.8L779.2,1044.8L779.2,1044.8Z" fill="#999999"/>
<path d="M781.8,1044.5H860.5" stroke="#ffff33" stroke-width="1" stroke-opacity="0.55" fill="none"/>
<path d="M781.8,1044.8L781.8,1044.8L802.1,1044.8L804.6,1037.6L807.2,1044.8L822.4,1044.8L824.9,1037L827.5,1044.8L860.5,1044.8L860.5,1044.8Z" fill="#ffff33"/>
<path d="M863,1044.5H1028.1" stroke="#a65628" stroke-width="1" stroke-opacity="0.55" fill="none"/>
<path d="M863,1044.8L863,1044.8L873.2,1044.8L875.7,1038.3L878.3,1044.8L903.7,1044.8L906.2,1031.5L908.7,1044.8L1007.8,1044.8L1010.3,1038.3L1012.9,1044.8L1028.1,1044.8L1028.1,1044.8Z" fill="#a65628"/>
<path d="M1030.6,1044.5H1480.1" stroke="#e41a1c" stroke-width="1" stroke-opacity="0.55" fill="none"/>
<path d="M1030.6,1044.8L1030.6,1021.1L1033.2,1023.8L1035.7,1024.1L1038.2,1023.1L1040.8,1022.8L1043.3,1034.1L1045.9,1028.1L1048.4,1027.1L1050.9,1031.2L1053.5,1029.6L1056,1031.8L1058.6,1031L1061.1,1032.5L1063.6,1026.2L1066.2,1044.8L1068.7,1032.1L1071.3,1027.1L1073.8,1034.4L1076.3,1032.1L1078.9,1031L1081.4,1028.8L1084,1028.3L1086.5,1024.1L1089,1030.6L1091.6,1030.3L1094.1,1030L1096.7,1026.2L1099.2,1026L1101.7,1019.9L1104.3,1027.9L1106.8,1026.6L1109.3,1022.8L1111.9,1026.6L1114.4,1023.4L1117,1026.3L1119.5,1030.2L1122,1027.7L1124.6,1025.5L1127.1,1027.5L1129.7,1025.6L1132.2,1027.4L1134.7,1022L1137.3,1026.4L1139.8,1024.2L1142.4,1020.2L1144.9,1025.1L1147.4,1029.7L1150,1026.7L1152.5,1028.9L1155.1,1024.9L1157.6,1031.6L1160.1,1028.8L1162.7,1022.9L1165.2,1022.7L1167.8,1031.1L1170.3,1025.4L1172.8,1029.1L1175.4,1033.3L1177.9,1027.9L1180.4,1030.8L1183,1033.4L1185.5,1044.8L1188.1,1030L1190.6,1030.2L1193.1,1024.7L1195.7,1024.5L1198.2,1028.4L1200.8,1022.6L1203.3,1033.5L1205.8,1037.4L1208.4,1027.8L1210.9,1025.7L1213.5,1044.8L1216,1026.6L1218.5,1028.9L1221.1,1027.5L1223.6,1026.1L1226.2,1032.2L1228.7,1031.2L1231.2,1031.9L1233.8,1031.1L1236.3,1024.5L1238.9,1028.6L1241.4,1023.6L1243.9,1020L1246.5,1024.8L1249,1029.3L1251.5,1030.7L1254.1,1027.9L1256.6,1028L1259.2,1023.7L1261.7,1027.9L1264.2,1025.5L1266.8,1028.4L1269.3,1029L1271.9,1034.9L1274.4,1031.1L1276.9,1030.3L1279.5,1044.8L1282,1026L1284.6,1025.5L1287.1,1028.4L1289.6,1031.8L1292.2,1038.2L1294.7,1028.7L1297.3,1044.8L1299.8,1044.8L1302.3,1028.3L1304.9,1027.7L1307.4,1026.8L1310,1028.6L1312.5,1025.7L1315,1022L1317.6,1027.4L1320.1,1027.6L1322.6,1027.5L1325.2,1020.1L1327.7,1026.9L1330.3,1036.6L1332.8,1033.2L1335.3,1022.7L1337.9,1030.6L1340.4,1028.9L1343,1024.4L1345.5,1019.4L1348,1017.5L1350.6,1020.2L1353.1,1031.1L1355.7,1021.5L1358.2,1024.6L1360.7,1024L1363.3,1029.6L1365.8,1023.4L1368.4,1030.4L1370.9,1021.8L1373.4,1030.1L1376,1024.6L1378.5,1023.5L1381.1,1030L1383.6,1029L1386.1,1020.7L1388.7,1029.3L1391.2,1027.6L1393.7,1033L1396.3,1028.9L1398.8,1026.5L1401.4,1029.4L1403.9,1030.6L1406.4,1029.5L1409,1034.2L1411.5,1029.4L1414.1,1028.3L1416.6,1031.8L1419.1,1030.8L1421.7,1020.4L1424.2,1044.8L1426.8,1023.7L1429.3,1027.7L1431.8,1025L1434.4,1029.5L1436.9,1023.4L1439.5,1038.3L1442,1034L1444.5,1027.9L1447.1,1028L1449.6,1025.6L1452.2,1030.8L1454.7,1024.5L1457.2,1027.6L1459.8,1025.9L1462.3,1030.5L1464.8,1022.2L1467.4,1032.1L1469.9,1023L1472.5,1026.4L1475,1017.4L1477.5,1031.1L1480.1,1025.5L1480.1,1044.8Z" fill="#e41a1c"/>
<path d="M1482.6,1044.5H1502.9" stroke="#ff7f00" stroke-width="1" stroke-opacity="0.55" fill="none"/>
<path d="M1482.6,1044.8L1482.6,1015.4L1485.2,1015.5L1487.7,1020.9L1490.2,1015.6L1492.8,1025.6L1495.3,1025.4L1497.9,1019.4L1500.4,1014.8L1502.9,1012.4L1502.9,1044.8Z" fill="#ff7f00"/>
<path d="M1505.5,1044.5H1881.3" stroke="#984ea3" stroke-width="1" stroke-opacity="0.55" fill="none"/>
<path d="M1505.5,1044.8L1505.5,1012.7L1508,1012.5L1510.6,1014.2L1513.1,1015.7L1515.6,1014L1518.2,1016.3L1520.7,1014.2L1523.3,1012.6L1525.8,1014.5L1528.3,1015.2L1530.9,1013.5L1533.4,1014L1536,1014.6L1538.5,1014.4L1541,1013.6L1543.6,1012.6L1546.1,1012.8L1548.6,1013.3L1551.2,1013.1L1553.7,1013.3L1556.3,1013.8L1558.8,1015.4L1561.3,1013.5L1563.9,1012.3L1566.4,1011.5L1569,1013L1571.5,1012.5L1574,1012.9L1576.6,1014.9L1579.1,1015.5L1581.7,1012.5L1584.2,1014.6L1586.7,1015.1L1589.3,1013.8L1591.8,1015L1594.4,1014.9L1596.9,1014.4L1599.4,1013.2L1602,1012.5L1604.5,1015L1607.1,1015L1609.6,1014.5L1612.1,1016.6L1614.7,1014L1617.2,1015.2L1619.7,1016.8L1622.3,1014.7L1624.8,1012.9L1627.4,1013.9L1629.9,1015.7L1632.4,1013.4L1635,1012.4L1637.5,1012L1640.1,1013.8L1642.6,1014.1L1645.1,1014.9L1647.7,1014.2L1650.2,1013.6L1652.8,1013.7L1655.3,1014.5L1657.8,1014.2L1660.4,1014.7L1662.9,1013.9L1665.5,1014.9L1668,1015.7L1670.5,1012.2L1673.1,1013.4L1675.6,1013.8L1678.2,1014.8L1680.7,1013.5L1683.2,1013.2L1685.8,1015.2L1688.3,1013.5L1690.8,1014.2L1693.4,1014.1L1695.9,1013.4L1698.5,1014.3L1701,1013.3L1703.5,1014.9L1706.1,1012.1L1708.6,1012.8L1711.2,1015.1L1713.7,1014.3L1716.2,1013.8L1718.8,1014.4L1721.3,1013.8L1723.9,1014.5L1726.4,1014.2L1728.9,1012.5L1731.5,1014.2L1734,1014.1L1736.6,1017L1739.1,1014.2L1741.6,1014.1L1744.2,1014.8L1746.7,1013L1749.3,1015.7L1751.8,1015.8L1754.3,1013.7L1756.9,1013.3L1759.4,1013.8L1761.9,1014.8L1764.5,1014.2L1767,1015L1769.6,1012.4L1772.1,1013L1774.6,1015.7L1777.2,1014.7L1779.7,1012.3L1782.3,1011.8L1784.8,1014.1L1787.3,1012.4L1789.9,1012.8L1792.4,1015.3L1795,1013L1797.5,1012.9L1800,1014.5L1802.6,1013.9L1805.1,1013.1L1807.7,1016.4L1810.2,1013.6L1812.7,1013.9L1815.3,1015.5L1817.8,1014.7L1820.4,1012.2L1822.9,1014.4L1825.4,1015.4L1828,1012.9L1830.5,1014.9L1833,1014.3L1835.6,1014.9L1838.1,1014.2L1840.7,1013L1843.2,1013L1845.7,1014.1L1848.3,1013L1850.8,1013.2L1853.4,1012.9L1855.9,1014.1L1858.4,1013.8L1861,1013.9L1863.5,1015.6L1866.1,1013.4L1868.6,1014.8L1871.1,1012.7L1873.7,1014.3L1876.2,1014.4L1878.8,1014L1881.3,1012.7L1881.3,1044.8Z" fill="#984ea3"/>
<path d="M1883.8,1044.5H1970.2" stroke="#f781bf" stroke-width="1" stroke-opacity="0.55" fill="none"/>
<path d="M1883.8,1044.8L1883.8,1014.4L1886.4,1014.6L1888.9,1015L1891.5,1014.4L1894,1016.1L1896.5,1016L1899.1,1014.9L1901.6,1014.7L1904.1,1015L1906.7,1013.3L1909.2,1014.8L1911.8,1017.2L1914.3,1015.6L1916.8,1015.2L1919.4,1014.6L1921.9,1014.8L1924.5,1017.2L1927,1016.7L1929.5,1015.9L1932.1,1015.8L1934.6,1014.3L1937.2,1014.4L1939.7,1015.1L1942.2,1016.4L1944.8,1015.8L1947.3,1016L1949.9,1018L1952.4,1016.2L1954.9,1016.8L1957.5,1015.2L1960,1016.7L1962.6,1013.6L1965.1,1017.3L1967.6,1014.7L1970.2,1016.5L1970.2,1044.8Z" fill="#f781bf"/>
</g>
<g>
<path d="M195.2,1082.5H357.7" stroke="#377eb8" stroke-width="1" stroke-opacity="0.55" fill="none"/>
<path d="M195.2,1082.8L195.2,1072.4L197.7,1065.2L200.3,1068.3L202.8,1065.6L205.4,1069.3L207.9,1082.8L210.4,1068.8L213,1071.5L215.5,1069.3L218.1,1053.6L220.6,1082.8L223.1,1082.8L225.7,1073.6L228.2,1061L230.8,1082.8L233.3,1073.8L235.8,1082.8L238.4,1075.2L240.9,1077.4L243.4,1071.4L246,1064.6L248.5,1082.8L251.1,1082.8L253.6,1059.4L256.1,1082.8L258.7,1069.9L261.2,1065.4L263.8,1058.6L266.3,1082.8L268.8,1058.2L271.4,1058.5L273.9,1072.2L276.5,1082.8L279,1082.8L281.5,1069.9L284.1,1082.8L286.6,1072.3L289.2,1082.8L291.7,1064L294.2,1069.4L296.8,1082.8L299.3,1067L301.9,1082.8L304.4,1082.8L306.9,1056.1L309.5,1082.8L312,1082.8L314.5,1067.7L317.1,1064L319.6,1054L322.2,1082.8L324.7,1070.4L327.2,1071.4L329.8,1082.8L332.3,1075.9L334.9,1082.8L337.4,1062.6L339.9,1076.9L342.5,1072.7L345,1082.8L347.6,1082.8L350.1,1069.2L352.6,1082.8L357.7,1082.8L357.7,1082.8Z" fill="#377eb8"/>
<path d="M360.3,1082.5H746.2" stroke="#4daf4a" stroke-width="1" stroke-opacity="0.55" fill="none"/>
<path d="M360.3,1082.8L360.3,1067.6L362.8,1066.9L365.3,1082.8L367.9,1082.8L370.4,1062.9L373,1082.8L375.5,1062.5L378,1082.8L380.6,1082.8L383.1,1062.8L385.6,1055.5L388.2,1082.8L390.7,1052.9L393.3,1056.4L395.8,1082.8L398.3,1082.8L400.9,1072.3L403.4,1082.8L413.6,1082.8L416.1,1053.8L418.7,1082.8L421.2,1082.8L423.7,1064.7L426.3,1082.8L431.4,1082.8L433.9,1065.1L436.4,1082.8L439,1075.4L441.5,1067.1L444.1,1082.8L446.6,1069.2L449.1,1058.4L451.7,1082.8L454.2,1082.8L456.7,1070.3L459.3,1082.8L461.8,1054L464.4,1074.1L466.9,1082.8L482.1,1082.8L484.7,1066L487.2,1082.8L497.4,1082.8L499.9,1070.9L502.5,1061.2L505,1063L507.5,1082.8L510.1,1082.8L512.6,1069.8L515.2,1082.8L517.7,1068.4L520.2,1061.3L522.8,1065.5L525.3,1082.8L527.8,1082.8L530.4,1066.3L532.9,1073.2L535.5,1082.8L538,1068.2L540.5,1082.8L548.2,1082.8L550.7,1075.1L553.2,1082.8L560.9,1082.8L563.4,1065L565.9,1065.8L568.5,1082.8L578.6,1082.8L581.2,1068.9L583.7,1071.9L586.3,1065L588.8,1082.8L591.3,1073.5L593.9,1076.5L596.4,1067.9L598.9,1082.8L601.5,1063.8L604,1082.8L609.1,1082.8L611.6,1062.9L614.2,1069.2L616.7,1082.8L619.3,1064.6L621.8,1069L624.3,1082.8L626.9,1082.8L629.4,1072.4L632,1082.8L654.8,1082.8L657.4,1069.8L659.9,1082.8L682.7,1082.8L685.3,1065.5L687.8,1082.8L690.4,1055.3L692.9,1082.8L698,1082.8L700.5,1077.1L703.1,1082.8L718.3,1082.8L720.8,1058.8L723.4,1082.8L725.9,1064.4L728.5,1082.8L731,1067.5L733.5,1082.8L736.1,1082.8L738.6,1071.8L741.1,1056.2L743.7,1082.8L746.2,1082.8L746.2,1082.8Z" fill="#4daf4a"/>
<path d="M748.8,1082.5H779.2" stroke="#999999" stroke-width="1" stroke-opacity="0.55" fill="none"/>
<path d="M748.8,1082.8L748.8,1071.8L751.3,1063.2L753.8,1060.4L756.4,1069L758.9,1066.7L761.5,1071.4L764,1066L766.5,1067.3L769.1,1055.1L771.6,1060.5L774.2,1066.9L776.7,1062.4L779.2,1082.8L779.2,1082.8Z" fill="#999999"/>
<path d="M781.8,1082.5H860.5" stroke="#ffff33" stroke-width="1" stroke-opacity="0.55" fill="none"/>
<path d="M781.8,1082.8L781.8,1068.1L784.3,1058L786.9,1066.2L789.4,1063.8L791.9,1071.4L794.5,1066.1L797,1064.5L799.6,1065.5L802.1,1065.1L804.6,1060.5L807.2,1062.1L809.7,1061.4L812.2,1067.9L814.8,1067.5L817.3,1065.3L819.9,1072.6L822.4,1071.7L824.9,1082.8L827.5,1063.6L830,1065.3L832.6,1064.7L835.1,1060L837.6,1075.2L840.2,1063.5L842.7,1066.2L845.3,1071.2L847.8,1062L850.3,1059L852.9,1072.1L855.4,1065.1L858,1060.6L860.5,1065.1L860.5,1082.8Z" fill="#ffff33"/>
<path d="M863,1082.5H1028.1" stroke="#a65628" stroke-width="1" stroke-opacity="0.55" fill="none"/>
<path d="M863,1082.8L863,1055.4L865.6,1053.4L868.1,1053.7L870.7,1052.6L873.2,1049.8L875.7,1053.1L878.3,1053.3L880.8,1053.4L883.4,1052.5L885.9,1053.6L888.4,1056.8L891,1053.2L893.5,1056.1L896,1055L898.6,1051.4L901.1,1054.1L903.7,1055L906.2,1051.9L908.7,1056.9L911.3,1054L913.8,1052L916.4,1053.1L918.9,1055L921.4,1053.5L924,1050.8L926.5,1053.9L929.1,1052.2L931.6,1053.4L934.1,1052.7L936.7,1052L939.2,1053.9L941.8,1053.2L944.3,1053.6L946.8,1054.8L949.4,1052.5L951.9,1054.8L954.5,1055.3L957,1052.1L959.5,1052.2L962.1,1054.5L964.6,1056.5L967.1,1052.5L969.7,1054.1L972.2,1053.7L974.8,1053.8L977.3,1053.2L979.8,1055.7L982.4,1053.3L984.9,1054.3L987.5,1053.1L990,1054.5L992.5,1056.7L995.1,1055.3L997.6,1054.9L1000.2,1052.7L1002.7,1052.1L1005.2,1052.5L1007.8,1053.2L1010.3,1053L1012.9,1052.9L1015.4,1049.1L1017.9,1057.5L1020.5,1055.5L1023,1052.1L1025.6,1054.9L1028.1,1050.6L1028.1,1082.8Z" fill="#a65628"/>
<path d="M1030.6,1082.5H1480.1" stroke="#e41a1c" stroke-width="1" stroke-opacity="0.55" fill="none"/>
<path d="M1030.6,1082.8L1030.6,1056.6L1033.2,1061.7L1035.7,1057.8L1038.2,1059.7L1040.8,1054.7L1043.3,1057.8L1045.9,1059.8L1048.4,1055.3L1050.9,1058.9L1053.5,1062L1056,1060.6L1058.6,1052.3L1061.1,1061L1063.6,1056.7L1066.2,1059.5L1068.7,1058.8L1071.3,1062.4L1073.8,1059.7L1076.3,1056.7L1078.9,1055L1081.4,1065.1L1084,1056.7L1086.5,1059.6L1089,1057.9L1091.6,1056.8L1094.1,1059.8L1096.7,1054.8L1099.2,1059.8L1101.7,1060.6L1104.3,1056.1L1106.8,1057L1109.3,1064.1L1111.9,1057.2L1114.4,1057L1117,1056L1119.5,1056.9L1122,1059.1L1124.6,1056.5L1127.1,1062.8L1129.7,1064.9L1132.2,1057.8L1134.7,1055.5L1137.3,1061.9L1139.8,1057.1L1142.4,1059.6L1144.9,1057.2L1147.4,1060.4L1150,1052.8L1152.5,1065.5L1155.1,1058.5L1157.6,1057L1160.1,1058.5L1162.7,1057.6L1165.2,1059.4L1167.8,1060.2L1170.3,1059.6L1172.8,1056.7L1175.4,1056.4L1177.9,1056.3L1180.4,1061.3L1183,1056.8L1185.5,1058.6L1188.1,1053.9L1190.6,1059L1193.1,1061.2L1195.7,1059.1L1198.2,1059L1200.8,1058.1L1203.3,1058.1L1205.8,1053.5L1208.4,1062.3L1210.9,1054.7L1213.5,1054.7L1216,1059.9L1218.5,1059.5L1221.1,1055.9L1223.6,1057.3L1226.2,1057.4L1228.7,1059.2L1231.2,1058.1L1233.8,1056.8L1236.3,1061.3L1238.9,1061.1L1241.4,1055.7L1243.9,1061.1L1246.5,1058.1L1249,1061L1251.5,1056.8L1254.1,1059.7L1256.6,1056.3L1259.2,1064.1L1261.7,1057.6L1264.2,1056.8L1266.8,1063.9L1269.3,1065.4L1271.9,1057.4L1274.4,1053.8L1276.9,1056.8L1279.5,1059.1L1282,1059.3L1284.6,1057.4L1287.1,1060.8L1289.6,1059.5L1292.2,1059.3L1294.7,1061.2L1297.3,1062L1299.8,1060.2L1302.3,1056.8L1304.9,1057.1L1307.4,1064.6L1310,1056.4L1312.5,1058.7L1315,1061.1L1317.6,1059.1L1320.1,1060.4L1322.6,1055.6L1325.2,1055.9L1327.7,1062.8L1330.3,1063L1332.8,1055.1L1335.3,1057.2L1337.9,1059L1340.4,1055.7L1343,1051.9L1345.5,1057L1348,1057.5L1350.6,1053.7L1353.1,1058.8L1355.7,1057.8L1358.2,1056.1L1360.7,1056.6L1363.3,1058.8L1365.8,1058.4L1368.4,1060.8L1370.9,1064.5L1373.4,1055.8L1376,1060.3L1378.5,1061.2L1381.1,1053L1383.6,1060.1L1386.1,1055.6L1388.7,1059.9L1391.2,1057L1393.7,1057.1L1396.3,1057.8L1398.8,1056.7L1401.4,1082.8L1403.9,1082.8L1406.4,1056.4L1409,1055.4L1411.5,1058.6L1414.1,1059.3L1416.6,1056.8L1419.1,1063.3L1421.7,1066.5L1424.2,1059.1L1426.8,1058.1L1429.3,1058.3L1431.8,1057.6L1434.4,1057.7L1436.9,1058.4L1439.5,1062.6L1442,1055L1444.5,1055.2L1447.1,1059.5L1449.6,1062.3L1452.2,1059.1L1454.7,1056L1457.2,1055L1459.8,1059.2L1462.3,1056L1464.8,1057.7L1467.4,1062.6L1469.9,1060.4L1472.5,1060.6L1475,1059.2L1477.5,1060.1L1480.1,1061.7L1480.1,1082.8Z" fill="#e41a1c"/>
<path d="M1482.6,1082.5H1502.9" stroke="#ff7f00" stroke-width="1" stroke-opacity="0.55" fill="none"/>
<path d="M1482.6,1082.8L1482.6,1063.3L1485.2,1059.9L1487.7,1056.3L1490.2,1056.6L1492.8,1060.9L1495.3,1054.3L1497.9,1055.3L1500.4,1057L1502.9,1059L1502.9,1082.8Z" fill="#ff7f00"/>
<path d="M1505.5,1082.5H1881.3" stroke="#984ea3" stroke-width="1" stroke-opacity="0.55" fill="none"/>
<path d="M1505.5,1082.8L1505.5,1051.6L1508,1051.1L1510.6,1051.5L1513.1,1053.1L1515.6,1051.4L1518.2,1049.6L1520.7,1051.1L1523.3,1053.1L1525.8,1052.2L1528.3,1052.3L1530.9,1052.5L1533.4,1052.6L1536,1052.3L1538.5,1051.8L1541,1053L1543.6,1050.7L1546.1,1051.3L1548.6,1049.6L1551.2,1050.8L1553.7,1050.7L1556.3,1051.2L1558.8,1051.8L1561.3,1052.8L1563.9,1051L1566.4,1051.6L1569,1052.4L1571.5,1051.3L1574,1051.3L1576.6,1052.3L1579.1,1050.2L1581.7,1052.2L1584.2,1051.6L1586.7,1050.6L1589.3,1052.2L1591.8,1052L1594.4,1051.2L1596.9,1052L1599.4,1052.2L1602,1052.8L1604.5,1051.4L1607.1,1052.1L1609.6,1050.8L1612.1,1050.6L1614.7,1051.7L1617.2,1050.9L1619.7,1052.4L1622.3,1050L1624.8,1052.3L1627.4,1051.8L1629.9,1052.1L1632.4,1052.2L1635,1050.8L1637.5,1051.7L1640.1,1052.6L1642.6,1050.9L1645.1,1051.6L1647.7,1051.1L1650.2,1051.5L1652.8,1052.1L1655.3,1053.6L1657.8,1052L1660.4,1052.6L1662.9,1050.4L1665.5,1051.9L1668,1050.2L1670.5,1049.3L1673.1,1050.5L1675.6,1049.2L1678.2,1052.6L1680.7,1052.2L1683.2,1052.7L1685.8,1053.1L1688.3,1053L1690.8,1050.7L1693.4,1052.5L1695.9,1052L1698.5,1051.1L1701,1052.1L1703.5,1050.1L1706.1,1050.4L1708.6,1050.9L1711.2,1049.9L1713.7,1051.1L1716.2,1051.5L1718.8,1050.5L1721.3,1050.6L1723.9,1053L1726.4,1050.5L1728.9,1050.6L1731.5,1054.1L1734,1049.6L1736.6,1051.5L1739.1,1050.2L1741.6,1052.9L1744.2,1051.5L1746.7,1052.4L1749.3,1052.5L1751.8,1051.4L1754.3,1053.1L1756.9,1051.7L1759.4,1051L1761.9,1052.5L1764.5,1052.8L1767,1051.1L1769.6,1050.7L1772.1,1050.7L1774.6,1052.2L1777.2,1052.1L1779.7,1050.3L1782.3,1050.8L1784.8,1051.3L1787.3,1051.4L1789.9,1051.8L1792.4,1051L1795,1050.9L1797.5,1051.6L1800,1051.4L1802.6,1053.1L1805.1,1051.8L1807.7,1050L1810.2,1051.4L1812.7,1053.1L1815.3,1052.1L1817.8,1051.6L1820.4,1050.2L1822.9,1049.4L1825.4,1051.7L1828,1051.8L1830.5,1051.5L1833,1052.8L1835.6,1050.3L1838.1,1052.9L1840.7,1050.9L1843.2,1052.2L1845.7,1052.7L1848.3,1051.3L1850.8,1050L1853.4,1052.9L1855.9,1051.4L1858.4,1052.4L1861,1050.6L1863.5,1053.2L1866.1,1053L1868.6,1052.1L1871.1,1053L1873.7,1050.7L1876.2,1053.2L1878.8,1051.6L1881.3,1052.2L1881.3,1082.8Z" fill="#984ea3"/>
<path d="M1883.8,1082.5H1970.2" stroke="#f781bf" stroke-width="1" stroke-opacity="0.55" fill="none"/>
<path d="M1883.8,1082.8L1883.8,1052.7L1886.4,1053.7L1888.9,1051.8L1891.5,1054.4L1894,1051.2L1896.5,1052.8L1899.1,1052.4L1901.6,1054.4L1904.1,1052.4L1906.7,1049.8L1909.2,1051.5L1911.8,1051.7L1914.3,1050.4L1916.8,1051.4L1919.4,1052.4L1921.9,1052.7L1924.5,1053.2L1927,1051L1929.5,1052.3L1932.1,1051.7L1934.6,1052.8L1937.2,1051.4L1939.7,1053.2L1942.2,1052.4L1944.8,1053L1947.3,1050.1L1949.9,1051.7L1952.4,1052.2L1954.9,1052.1L1957.5,1051.2L1960,1053.2L1962.6,1053.3L1965.1,1051.2L1967.6,1052.8L1970.2,1052L1970.2,1082.8Z" fill="#f781bf"/>
</g>
<g>
<path d="M195.2,1120.5H357.7" stroke="#377eb8" stroke-width="1" stroke-opacity="0.55" fill="none"/>
<path d="M195.2,1120.8L195.2,1120.8L220.6,1120.8L223.1,1105.3L225.7,1120.8L345,1120.8L347.6,1106.8L350.1,1120.8L357.7,1120.8L357.7,1120.8Z" fill="#377eb8"/>
<path d="M360.3,1120.5H746.2" stroke="#4daf4a" stroke-width="1.3" stroke-opacity="0.4" fill="none"/>
<path d="M748.8,1120.5H779.2" stroke="#999999" stroke-width="1.3" stroke-opacity="0.4" fill="none"/>
<path d="M781.8,1120.5H860.5" stroke="#ffff33" stroke-width="1.3" stroke-opacity="0.4" fill="none"/>
<path d="M863,1120.5H1028.1" stroke="#a65628" stroke-width="1" stroke-opacity="0.55" fill="none"/>
<path d="M863,1120.8L863,1120.8L883.4,1120.8L885.9,1103.9L888.4,1120.8L906.2,1120.8L908.7,1107.7L911.3,1120.8L916.4,1120.8L918.9,1102.9L921.4,1120.8L924,1120.8L926.5,1107.4L929.1,1120.8L934.1,1120.8L936.7,1105.9L939.2,1120.8L944.3,1120.8L946.8,1105.5L949.4,1120.8L1028.1,1120.8L1028.1,1120.8Z" fill="#a65628"/>
<path d="M1030.6,1120.5H1480.1" stroke="#e41a1c" stroke-width="1" stroke-opacity="0.55" fill="none"/>
<path d="M1030.6,1120.8L1030.6,1120.8L1076.3,1120.8L1078.9,1105.7L1081.4,1120.8L1089,1120.8L1091.6,1107.3L1094.1,1120.8L1099.2,1120.8L1101.7,1106.9L1104.3,1111.8L1106.8,1120.8L1117,1120.8L1119.5,1105.6L1122,1106.8L1124.6,1120.8L1132.2,1120.8L1134.7,1090.3L1137.3,1120.8L1139.8,1111.7L1142.4,1120.8L1162.7,1120.8L1165.2,1103.1L1167.8,1120.8L1185.5,1120.8L1188.1,1106.3L1190.6,1120.8L1233.8,1120.8L1236.3,1106.3L1238.9,1120.8L1266.8,1120.8L1269.3,1106.9L1271.9,1120.8L1310,1120.8L1312.5,1098.7L1315,1120.8L1317.6,1108.9L1320.1,1120.8L1426.8,1120.8L1429.3,1107.8L1431.8,1120.8L1436.9,1120.8L1439.5,1103.3L1442,1120.8L1444.5,1092.9L1447.1,1120.8L1449.6,1120.8L1452.2,1094.3L1454.7,1120.8L1480.1,1120.8L1480.1,1120.8Z" fill="#e41a1c"/>
<path d="M1482.6,1120.5H1502.9" stroke="#ff7f00" stroke-width="1" stroke-opacity="0.55" fill="none"/>
<path d="M1482.6,1120.8L1482.6,1093.3L1485.2,1100.1L1487.7,1096.8L1490.2,1088.5L1492.8,1120.8L1495.3,1085.5L1497.9,1088.9L1500.4,1092.1L1502.9,1087.5L1502.9,1120.8Z" fill="#ff7f00"/>
<path d="M1505.5,1120.5H1881.3" stroke="#984ea3" stroke-width="1" stroke-opacity="0.55" fill="none"/>
<path d="M1505.5,1120.8L1505.5,1107.7L1508,1120.8L1510.6,1120.8L1513.1,1113.5L1515.6,1120.8L1518.2,1107.6L1520.7,1120.8L1528.3,1120.8L1530.9,1115.1L1533.4,1112.9L1536,1120.8L1538.5,1120.8L1541,1109.8L1543.6,1120.8L1546.1,1095.6L1548.6,1120.8L1563.9,1120.8L1566.4,1109.4L1569,1120.8L1589.3,1120.8L1591.8,1099.7L1594.4,1101.8L1596.9,1120.8L1617.2,1120.8L1619.7,1108.8L1622.3,1120.8L1640.1,1120.8L1642.6,1103.7L1645.1,1108.6L1647.7,1102.8L1650.2,1120.8L1652.8,1120.8L1655.3,1107.7L1657.8,1120.8L1660.4,1109.7L1662.9,1100.2L1665.5,1120.8L1668,1106.9L1670.5,1120.8L1673.1,1103.1L1675.6,1120.8L1685.8,1120.8L1688.3,1104.5L1690.8,1113.5L1693.4,1120.8L1701,1120.8L1703.5,1110.8L1706.1,1120.8L1713.7,1120.8L1716.2,1106.8L1718.8,1120.8L1721.3,1100.5L1723.9,1120.8L1726.4,1120.8L1728.9,1108L1731.5,1120.8L1734,1120.8L1736.6,1100.3L1739.1,1120.8L1769.6,1120.8L1772.1,1107.5L1774.6,1120.8L1789.9,1120.8L1792.4,1115L1795,1120.8L1800,1120.8L1802.6,1110.9L1805.1,1120.8L1812.7,1120.8L1815.3,1105.4L1817.8,1108.3L1820.4,1120.8L1822.9,1120.8L1825.4,1106.3L1828,1120.8L1830.5,1120.8L1833,1097.1L1835.6,1120.8L1840.7,1120.8L1843.2,1110.5L1845.7,1120.8L1863.5,1120.8L1866.1,1111.3L1868.6,1120.8L1871.1,1106.2L1873.7,1107.1L1876.2,1120.8L1881.3,1120.8L1881.3,1120.8Z" fill="#984ea3"/>
<path d="M1883.8,1120.5H1970.2" stroke="#f781bf" stroke-width="1" stroke-opacity="0.55" fill="none"/>
<path d="M1883.8,1120.8L1883.8,1093.4L1886.4,1094.4L1888.9,1092.3L1891.5,1095.4L1894,1089.1L1896.5,1091.5L1899.1,1098.1L1901.6,1095.7L1904.1,1095.1L1906.7,1090.5L1909.2,1101L1911.8,1090L1914.3,1101.1L1916.8,1096.1L1919.4,1097L1921.9,1095.1L1924.5,1091L1927,1090.6L1929.5,1094.3L1932.1,1094.6L1934.6,1097.5L1937.2,1089.7L1939.7,1095.7L1942.2,1085.5L1944.8,1099.6L1947.3,1096.2L1949.9,1091.4L1952.4,1087.4L1954.9,1095L1957.5,1092.3L1960,1096.2L1962.6,1093.1L1965.1,1101.6L1967.6,1091.6L1970.2,1095.9L1970.2,1120.8Z" fill="#f781bf"/>
</g>
<g>
<path d="M195.2,1158.5H357.7" stroke="#377eb8" stroke-width="1" stroke-opacity="0.55" fill="none"/>
<path d="M195.2,1158.8L195.2,1143.4L197.7,1144.8L200.3,1158.8L202.8,1151.1L205.4,1148.3L207.9,1158.8L210.4,1145.4L213,1150.4L215.5,1158.8L218.1,1158.8L220.6,1144.5L223.1,1158.8L228.2,1158.8L230.8,1146.8L233.3,1158.8L235.8,1143.6L238.4,1134.1L240.9,1150.8L243.4,1144.9L246,1158.8L251.1,1158.8L253.6,1151.5L256.1,1135.7L258.7,1158.8L276.5,1158.8L279,1149.4L281.5,1151L284.1,1158.8L286.6,1151.9L289.2,1150.7L291.7,1138.9L294.2,1158.8L296.8,1158.8L299.3,1134.2L301.9,1138.9L304.4,1141.1L306.9,1136.2L309.5,1146L312,1129.7L314.5,1143.7L317.1,1137.3L319.6,1135.3L322.2,1149L324.7,1134.2L327.2,1137.7L329.8,1158.8L332.3,1138.9L334.9,1158.8L337.4,1147.6L339.9,1158.8L342.5,1158.8L345,1131.9L347.6,1158.8L350.1,1158.8L352.6,1147L355.2,1158.8L357.7,1141.3L357.7,1158.8Z" fill="#377eb8"/>
<path d="M360.3,1158.5H746.2" stroke="#4daf4a" stroke-width="1" stroke-opacity="0.55" fill="none"/>
<path d="M360.3,1158.8L360.3,1158.8L362.8,1158.8L365.3,1131.4L367.9,1158.8L375.5,1158.8L378,1146.5L380.6,1158.8L383.1,1152L385.6,1158.8L388.2,1142L390.7,1158.8L393.3,1141.3L395.8,1141.9L398.3,1158.8L408.5,1158.8L411,1142L413.6,1158.8L416.1,1149.4L418.7,1158.8L421.2,1139.2L423.7,1137L426.3,1158.8L428.8,1158.8L431.4,1149.5L433.9,1158.8L444.1,1158.8L446.6,1141.5L449.1,1158.8L472,1158.8L474.5,1144.9L477.1,1158.8L487.2,1158.8L489.8,1141.9L492.3,1158.8L497.4,1158.8L499.9,1145.9L502.5,1158.8L505,1158.8L507.5,1150.5L510.1,1158.8L515.2,1158.8L517.7,1132.3L520.2,1158.8L522.8,1158.8L525.3,1143.5L527.8,1158.8L538,1158.8L540.5,1147.6L543.1,1158.8L545.6,1138.8L548.2,1152.2L550.7,1158.8L565.9,1158.8L568.5,1148L571,1158.8L588.8,1158.8L591.3,1149.4L593.9,1158.8L598.9,1158.8L601.5,1149.7L604,1158.8L611.6,1158.8L614.2,1147.8L616.7,1158.8L619.3,1148.9L621.8,1158.8L624.3,1144.3L626.9,1151.3L629.4,1158.8L632,1143L634.5,1158.8L637,1158.8L639.6,1142L642.1,1158.8L644.7,1140.9L647.2,1158.8L649.7,1151.7L652.3,1158.8L670,1158.8L672.6,1147.6L675.1,1158.8L677.7,1158.8L680.2,1151.4L682.7,1158.8L687.8,1158.8L690.4,1151.4L692.9,1158.8L703.1,1158.8L705.6,1144.7L708.1,1158.8L710.7,1151.9L713.2,1146L715.8,1158.8L731,1158.8L733.5,1145.8L736.1,1158.8L738.6,1135.7L741.1,1139.8L743.7,1158.8L746.2,1158.8L746.2,1158.8Z" fill="#4daf4a"/>
<path d="M748.8,1158.5H779.2" stroke="#999999" stroke-width="1" stroke-opacity="0.55" fill="none"/>
<path d="M748.8,1158.8L748.8,1158.8L751.3,1142.5L753.8,1152.4L756.4,1148.2L758.9,1139.9L761.5,1139.6L764,1138.4L766.5,1140.7L769.1,1158.8L771.6,1144.9L774.2,1158.8L776.7,1142.4L779.2,1142.6L779.2,1158.8Z" fill="#999999"/>
<path d="M781.8,1158.5H860.5" stroke="#ffff33" stroke-width="1" stroke-opacity="0.55" fill="none"/>
<path d="M781.8,1158.8L781.8,1134.1L784.3,1150.8L786.9,1158.8L789.4,1158.8L791.9,1151.1L794.5,1142.8L797,1140.2L799.6,1145.9L802.1,1153L804.6,1142.3L807.2,1146.4L809.7,1153.2L812.2,1145.1L814.8,1146.1L817.3,1149.5L819.9,1140.7L822.4,1142.6L824.9,1148.2L827.5,1144.6L830,1153.5L832.6,1158.8L835.1,1153.1L837.6,1145.5L840.2,1146.1L842.7,1152.8L845.3,1145.2L847.8,1147.4L850.3,1145.3L852.9,1147.4L855.4,1149.7L858,1148.4L860.5,1153.5L860.5,1158.8Z" fill="#ffff33"/>
<path d="M863,1158.5H1028.1" stroke="#a65628" stroke-width="1" stroke-opacity="0.55" fill="none"/>
<path d="M863,1158.8L863,1132.8L865.6,1132.1L868.1,1132.9L870.7,1128.2L873.2,1132.1L875.7,1135.9L878.3,1133.5L880.8,1136.4L883.4,1134.5L885.9,1134.3L888.4,1132.2L891,1130.9L893.5,1129.9L896,1133.7L898.6,1130.3L901.1,1135.5L903.7,1133L906.2,1133.6L908.7,1129.3L911.3,1135.5L913.8,1141.4L916.4,1131.6L918.9,1131L921.4,1133.6L924,1136.4L926.5,1132L929.1,1134.4L931.6,1129.6L934.1,1130.7L936.7,1131L939.2,1133.6L941.8,1133.2L944.3,1134.1L946.8,1131.5L949.4,1132.2L951.9,1133.7L954.5,1133.3L957,1132.4L959.5,1135.3L962.1,1139L964.6,1128L967.1,1135.8L969.7,1130.9L972.2,1133.5L974.8,1133.7L977.3,1137.6L979.8,1135.4L982.4,1129L984.9,1132.2L987.5,1134.9L990,1134.8L992.5,1130.2L995.1,1130.6L997.6,1136.9L1000.2,1134.4L1002.7,1136.5L1005.2,1129.8L1007.8,1158.8L1010.3,1136.6L1012.9,1134.2L1015.4,1129.7L1017.9,1133L1020.5,1132.6L1023,1131.4L1025.6,1131.1L1028.1,1135.1L1028.1,1158.8Z" fill="#a65628"/>
<path d="M1030.6,1158.5H1480.1" stroke="#e41a1c" stroke-width="1" stroke-opacity="0.55" fill="none"/>
<path d="M1030.6,1158.8L1030.6,1138.4L1033.2,1143.1L1035.7,1140.2L1038.2,1133.9L1040.8,1145.7L1043.3,1140.7L1045.9,1140.1L1048.4,1138L1050.9,1131L1053.5,1133.9L1056,1131.1L1058.6,1138.7L1061.1,1134.8L1063.6,1136.2L1066.2,1142.4L1068.7,1137.2L1071.3,1136.3L1073.8,1138.5L1076.3,1136.2L1078.9,1139.8L1081.4,1133.4L1084,1142.9L1086.5,1135.8L1089,1143.1L1091.6,1137L1094.1,1135.6L1096.7,1136.6L1099.2,1137.4L1101.7,1143.7L1104.3,1158.8L1106.8,1131.3L1109.3,1140.3L1111.9,1158.8L1114.4,1141.9L1117,1132.9L1119.5,1134.3L1122,1137.9L1124.6,1133.4L1127.1,1133.9L1129.7,1137.8L1132.2,1141.5L1134.7,1138.9L1137.3,1137.6L1139.8,1142.6L1142.4,1134.8L1144.9,1134.7L1147.4,1137.1L1150,1134.2L1152.5,1136.9L1155.1,1130.1L1157.6,1135.7L1160.1,1136.9L1162.7,1142.6L1165.2,1135.9L1167.8,1144.1L1170.3,1135.3L1172.8,1140.2L1175.4,1133.2L1177.9,1140L1180.4,1138.3L1183,1134.5L1185.5,1136.8L1188.1,1135.8L1190.6,1138.2L1193.1,1130.6L1195.7,1133.9L1198.2,1138.8L1200.8,1136.3L1203.3,1139.9L1205.8,1140.3L1208.4,1133L1210.9,1143.2L1213.5,1135.7L1216,1136.5L1218.5,1135.1L1221.1,1134L1223.6,1135.1L1226.2,1133.7L1228.7,1139.7L1231.2,1141.6L1233.8,1143.2L1236.3,1138L1238.9,1137.3L1241.4,1139.2L1243.9,1137.6L1246.5,1138.3L1249,1138.2L1251.5,1133.7L1254.1,1138.8L1256.6,1143.6L1259.2,1133.5L1261.7,1138.4L1264.2,1138.3L1266.8,1137.3L1269.3,1137.5L1271.9,1134.6L1274.4,1137.6L1276.9,1130.8L1279.5,1139.9L1282,1137.8L1284.6,1138L1287.1,1133.5L1289.6,1138L1292.2,1132L1294.7,1137.6L1297.3,1143.9L1299.8,1137.9L1302.3,1136.5L1304.9,1135.3L1307.4,1134.3L1310,1135.3L1312.5,1139.9L1315,1140.3L1317.6,1138.2L1320.1,1130.9L1322.6,1137.7L1325.2,1144.6L1327.7,1131.9L1330.3,1137.8L1332.8,1135L1335.3,1137.6L1337.9,1135L1340.4,1137.6L1343,1137.5L1345.5,1138.1L1348,1135.9L1350.6,1140.1L1353.1,1130.4L1355.7,1138.4L1358.2,1142.4L1360.7,1132.9L1363.3,1132.9L1365.8,1140.7L1368.4,1137.4L1370.9,1134.5L1373.4,1135.5L1376,1141L1378.5,1137.8L1381.1,1140.3L1383.6,1141.7L1386.1,1136.1L1388.7,1135.3L1391.2,1134.7L1393.7,1137L1396.3,1143.1L1398.8,1134.9L1401.4,1135.5L1403.9,1142.7L1406.4,1133.2L1409,1139.6L1411.5,1137.3L1414.1,1137.3L1416.6,1138L1419.1,1138.6L1421.7,1138.7L1424.2,1134.9L1426.8,1136L1429.3,1135.7L1431.8,1135.1L1434.4,1135.7L1436.9,1141.2L1439.5,1139L1442,1136.1L1444.5,1131.7L1447.1,1140.4L1449.6,1132.2L1452.2,1132.9L1454.7,1140.9L1457.2,1134.1L1459.8,1134.4L1462.3,1143.3L1464.8,1135.6L1467.4,1138L1469.9,1140.5L1472.5,1138.2L1475,1141.5L1477.5,1139.6L1480.1,1135.6L1480.1,1158.8Z" fill="#e41a1c"/>
<path d="M1482.6,1158.5H1502.9" stroke="#ff7f00" stroke-width="1" stroke-opacity="0.55" fill="none"/>
<path d="M1482.6,1158.8L1482.6,1129.3L1485.2,1131.9L1487.7,1132.8L1490.2,1128.8L1492.8,1128.2L1495.3,1129.8L1497.9,1128.1L1500.4,1126.7L1502.9,1130.2L1502.9,1158.8Z" fill="#ff7f00"/>
<path d="M1505.5,1158.5H1881.3" stroke="#984ea3" stroke-width="1" stroke-opacity="0.55" fill="none"/>
<path d="M1505.5,1158.8L1505.5,1129.8L1508,1128.8L1510.6,1129.7L1513.1,1129.6L1515.6,1133.6L1518.2,1126.6L1520.7,1133.3L1523.3,1129.8L1525.8,1130.2L1528.3,1131.4L1530.9,1132.6L1533.4,1134.4L1536,1131.2L1538.5,1129.3L1541,1130.1L1543.6,1126.1L1546.1,1136.4L1548.6,1132.2L1551.2,1131.2L1553.7,1130.7L1556.3,1130.6L1558.8,1133L1561.3,1134.5L1563.9,1133.9L1566.4,1129.5L1569,1129.4L1571.5,1131.3L1574,1134L1576.6,1131.8L1579.1,1131L1581.7,1129.7L1584.2,1130.6L1586.7,1133.9L1589.3,1129.3L1591.8,1132L1594.4,1133.7L1596.9,1128.6L1599.4,1130.5L1602,1134.2L1604.5,1127.7L1607.1,1131.6L1609.6,1133.3L1612.1,1130.8L1614.7,1128.5L1617.2,1132.1L1619.7,1131.3L1622.3,1131.3L1624.8,1133.8L1627.4,1131.8L1629.9,1130L1632.4,1132.5L1635,1134L1637.5,1133.3L1640.1,1130.7L1642.6,1134.7L1645.1,1132.7L1647.7,1131.2L1650.2,1130.5L1652.8,1128.2L1655.3,1128L1657.8,1131.2L1660.4,1130.6L1662.9,1132.7L1665.5,1132.1L1668,1132.5L1670.5,1127.8L1673.1,1132L1675.6,1129.5L1678.2,1131.9L1680.7,1127.8L1683.2,1130.4L1685.8,1127.9L1688.3,1134.2L1690.8,1130L1693.4,1131.8L1695.9,1137L1698.5,1126.6L1701,1136.1L1703.5,1134.4L1706.1,1132.3L1708.6,1130.3L1711.2,1132.5L1713.7,1134.8L1716.2,1130.5L1718.8,1135.1L1721.3,1125.9L1723.9,1131.6L1726.4,1131.9L1728.9,1133.2L1731.5,1132.2L1734,1131.1L1736.6,1133.1L1739.1,1130.1L1741.6,1133.7L1744.2,1127.9L1746.7,1129.1L1749.3,1130.2L1751.8,1132.5L1754.3,1129.6L1756.9,1132.4L1759.4,1134L1761.9,1128.3L1764.5,1133.8L1767,1130.6L1769.6,1136.1L1772.1,1128.4L1774.6,1132.4L1777.2,1131.1L1779.7,1129.6L1782.3,1133.5L1784.8,1133.6L1787.3,1128.7L1789.9,1123.5L1792.4,1131.5L1795,1131.4L1797.5,1131.7L1800,1128L1802.6,1131.8L1805.1,1128.1L1807.7,1136.6L1810.2,1133.3L1812.7,1130.7L1815.3,1131.2L1817.8,1132L1820.4,1127L1822.9,1132.9L1825.4,1129.5L1828,1127.6L1830.5,1136.3L1833,1129.3L1835.6,1135.5L1838.1,1133.6L1840.7,1131.9L1843.2,1132L1845.7,1130.6L1848.3,1131.5L1850.8,1131L1853.4,1133.5L1855.9,1130.8L1858.4,1128.3L1861,1130.9L1863.5,1133.4L1866.1,1129L1868.6,1127.6L1871.1,1134.6L1873.7,1133.3L1876.2,1129.1L1878.8,1124.7L1881.3,1132.7L1881.3,1158.8Z" fill="#984ea3"/>
<path d="M1883.8,1158.5H1970.2" stroke="#f781bf" stroke-width="1" stroke-opacity="0.55" fill="none"/>
<path d="M1883.8,1158.8L1883.8,1127.9L1886.4,1126.5L1888.9,1127.2L1891.5,1127.4L1894,1126.8L1896.5,1126.1L1899.1,1127.4L1901.6,1126.5L1904.1,1126.7L1906.7,1125.2L1909.2,1127.4L1911.8,1127.7L1914.3,1127.2L1916.8,1128.3L1919.4,1128L1921.9,1127.7L1924.5,1126.2L1927,1127.4L1929.5,1126.7L1932.1,1127.9L1934.6,1125.4L1937.2,1127.1L1939.7,1127.4L1942.2,1126.9L1944.8,1127.1L1947.3,1127.6L1949.9,1129.2L1952.4,1127.7L1954.9,1127.3L1957.5,1126.1L1960,1128.4L1962.6,1126.4L1965.1,1128.3L1967.6,1127.2L1970.2,1126.4L1970.2,1158.8Z" fill="#f781bf"/>
</g>
<g>
<path d="M195.2,1196.5H357.7" stroke="#377eb8" stroke-width="1.3" stroke-opacity="0.4" fill="none"/>
<path d="M360.3,1196.5H746.2" stroke="#4daf4a" stroke-width="1.3" stroke-opacity="0.4" fill="none"/>
<path d="M748.8,1196.5H779.2" stroke="#999999" stroke-width="1" stroke-opacity="0.55" fill="none"/>
<path d="M748.8,1196.8L748.8,1196.8L764,1196.8L766.5,1179.5L769.1,1196.8L771.6,1189.5L774.2,1190.1L776.7,1196.8L779.2,1179.9L779.2,1196.8Z" fill="#999999"/>
<path d="M781.8,1196.5H860.5" stroke="#ffff33" stroke-width="1.3" stroke-opacity="0.4" fill="none"/>
<path d="M863,1196.5H1028.1" stroke="#a65628" stroke-width="1" stroke-opacity="0.55" fill="none"/>
<path d="M863,1196.8L863,1196.8L949.4,1196.8L951.9,1190L954.5,1196.8L1028.1,1196.8L1028.1,1196.8Z" fill="#a65628"/>
<path d="M1030.6,1196.5H1480.1" stroke="#e41a1c" stroke-width="1" stroke-opacity="0.55" fill="none"/>
<path d="M1030.6,1196.8L1030.6,1168.7L1033.2,1184.9L1035.7,1196.8L1038.2,1196.8L1040.8,1184.9L1043.3,1196.8L1045.9,1174.5L1048.4,1182.6L1050.9,1196.8L1053.5,1180.8L1056,1196.8L1061.1,1196.8L1063.6,1184.1L1066.2,1189.4L1068.7,1196.8L1071.3,1182.4L1073.8,1176.8L1076.3,1168.7L1078.9,1196.8L1081.4,1186.2L1084,1178.9L1086.5,1176L1089,1180.7L1091.6,1176.4L1094.1,1179.4L1096.7,1189.5L1099.2,1196.8L1101.7,1177.9L1104.3,1196.8L1106.8,1196.8L1109.3,1187.9L1111.9,1180.4L1114.4,1176.8L1117,1172.8L1119.5,1167.9L1122,1196.8L1124.6,1181.1L1127.1,1196.8L1129.7,1170.4L1132.2,1174L1134.7,1196.8L1137.3,1188L1139.8,1196.8L1142.4,1168.8L1144.9,1196.8L1147.4,1196.8L1150,1168.7L1152.5,1178.9L1155.1,1168.1L1157.6,1196.8L1160.1,1183.4L1162.7,1173.8L1165.2,1185.6L1167.8,1174.8L1170.3,1196.8L1172.8,1177.2L1175.4,1190.6L1177.9,1196.8L1180.4,1173.7L1183,1190.4L1185.5,1182.5L1188.1,1184.6L1190.6,1174.2L1193.1,1186.2L1195.7,1181.2L1198.2,1182L1200.8,1182.6L1203.3,1181.7L1205.8,1167L1208.4,1178.3L1210.9,1196.8L1213.5,1196.8L1216,1175.3L1218.5,1180L1221.1,1184.2L1223.6,1186.3L1226.2,1196.8L1228.7,1196.8L1231.2,1178.3L1233.8,1172.9L1236.3,1182.9L1238.9,1196.8L1241.4,1177L1243.9,1188L1246.5,1171.5L1249,1196.8L1251.5,1196.8L1254.1,1184.1L1256.6,1179L1259.2,1196.8L1261.7,1196.8L1264.2,1176.4L1266.8,1196.8L1274.4,1196.8L1276.9,1182L1279.5,1196.8L1282,1189.4L1284.6,1185.8L1287.1,1196.8L1289.6,1196.8L1292.2,1180.2L1294.7,1179.8L1297.3,1177.3L1299.8,1196.8L1304.9,1196.8L1307.4,1185.4L1310,1196.8L1312.5,1177.8L1315,1175.9L1317.6,1183L1320.1,1186.9L1322.6,1182.5L1325.2,1173L1327.7,1196.8L1330.3,1186.3L1332.8,1178.4L1335.3,1167.5L1337.9,1181.3L1340.4,1180.9L1343,1190.4L1345.5,1187.7L1348,1196.8L1350.6,1183.7L1353.1,1196.8L1358.2,1196.8L1360.7,1169.6L1363.3,1196.8L1365.8,1180.6L1368.4,1176.6L1370.9,1190L1373.4,1196.8L1376,1183L1378.5,1178.1L1381.1,1184.2L1383.6,1181.9L1386.1,1177.5L1388.7,1196.8L1391.2,1182.6L1393.7,1172.2L1396.3,1186.1L1398.8,1181.2L1401.4,1183.8L1403.9,1196.8L1406.4,1196.8L1409,1183.5L1411.5,1196.8L1414.1,1180.9L1416.6,1181.7L1419.1,1178.4L1421.7,1186L1424.2,1179.3L1426.8,1196.8L1429.3,1196.8L1431.8,1181.2L1434.4,1189.7L1436.9,1196.8L1439.5,1196.8L1442,1183L1444.5,1184.4L1447.1,1196.8L1449.6,1181.7L1452.2,1167.3L1454.7,1188.7L1457.2,1196.8L1459.8,1179.3L1462.3,1196.8L1464.8,1177.6L1467.4,1178.2L1469.9,1180.8L1472.5,1185.4L1475,1196.8L1480.1,1196.8L1480.1,1196.8Z" fill="#e41a1c"/>
<path d="M1482.6,1196.5H1502.9" stroke="#ff7f00" stroke-width="1" stroke-opacity="0.55" fill="none"/>
<path d="M1482.6,1196.8L1482.6,1196.8L1487.7,1196.8L1490.2,1186.3L1492.8,1196.8L1502.9,1196.8L1502.9,1196.8Z" fill="#ff7f00"/>
<path d="M1505.5,1196.5H1881.3" stroke="#984ea3" stroke-width="1" stroke-opacity="0.55" fill="none"/>
<path d="M1505.5,1196.8L1505.5,1177L1508,1178.6L1510.6,1174L1513.1,1170.6L1515.6,1173.1L1518.2,1181.4L1520.7,1196.8L1523.3,1185.1L1525.8,1182.1L1528.3,1174.1L1530.9,1177.7L1533.4,1185.6L1536,1174.2L1538.5,1176.9L1541,1173.2L1543.6,1184.2L1546.1,1173.5L1548.6,1196.8L1551.2,1179.1L1553.7,1173.7L1556.3,1174.6L1558.8,1184L1561.3,1176L1563.9,1170.7L1566.4,1182.1L1569,1182.2L1571.5,1172.5L1574,1180.4L1576.6,1196.8L1579.1,1182.4L1581.7,1187.1L1584.2,1179.7L1586.7,1176.1L1589.3,1174.5L1591.8,1183.3L1594.4,1173L1596.9,1178.9L1599.4,1178.2L1602,1196.8L1604.5,1179.1L1607.1,1164.7L1609.6,1182.3L1612.1,1180.8L1614.7,1196.8L1617.2,1177.3L1619.7,1177.1L1622.3,1171.7L1624.8,1177.5L1627.4,1185L1629.9,1177.3L1632.4,1183.5L1635,1168.7L1637.5,1179.2L1640.1,1196.8L1642.6,1180.9L1645.1,1196.8L1647.7,1176.7L1650.2,1173.5L1652.8,1177L1655.3,1181.1L1657.8,1196.8L1660.4,1175.6L1662.9,1196.8L1665.5,1176.3L1668,1187L1670.5,1196.8L1673.1,1174L1675.6,1177.9L1678.2,1171.1L1680.7,1184.6L1683.2,1174.9L1685.8,1181.9L1688.3,1177.9L1690.8,1181.9L1693.4,1176.2L1695.9,1180.4L1698.5,1177.6L1701,1184.7L1703.5,1182.3L1706.1,1176.4L1708.6,1178.5L1711.2,1185L1713.7,1178.8L1716.2,1178.5L1718.8,1178.9L1721.3,1196.8L1723.9,1172.5L1726.4,1177.4L1728.9,1184.1L1731.5,1180.6L1734,1179.4L1736.6,1196.8L1739.1,1180.1L1741.6,1177.2L1744.2,1173.8L1746.7,1184.1L1749.3,1165.6L1751.8,1173.4L1754.3,1185.4L1756.9,1184.5L1759.4,1196.8L1761.9,1185.5L1764.5,1177.2L1767,1182.4L1769.6,1184.5L1772.1,1172.1L1774.6,1170.6L1777.2,1178.6L1779.7,1170.6L1782.3,1196.8L1784.8,1196.8L1787.3,1180.4L1789.9,1179.4L1792.4,1180.2L1795,1172.2L1797.5,1179.9L1800,1181.6L1802.6,1176.4L1805.1,1180L1807.7,1177.2L1810.2,1180.8L1812.7,1185.7L1815.3,1171.5L1817.8,1178.5L1820.4,1173.2L1822.9,1186.4L1825.4,1179.2L1828,1180.4L1830.5,1179.9L1833,1181.8L1835.6,1180L1838.1,1174.1L1840.7,1186.5L1843.2,1181.7L1845.7,1174.2L1848.3,1171.9L1850.8,1174.5L1853.4,1180.7L1855.9,1175.6L1858.4,1171.8L1861,1176.9L1863.5,1175.8L1866.1,1173.5L1868.6,1178.5L1871.1,1175.7L1873.7,1184L1876.2,1172L1878.8,1178.4L1881.3,1179.5L1881.3,1196.8Z" fill="#984ea3"/>
<path d="M1883.8,1196.5H1970.2" stroke="#f781bf" stroke-width="1" stroke-opacity="0.55" fill="none"/>
<path d="M1883.8,1196.8L1883.8,1168.5L1886.4,1170.6L1888.9,1172.1L1891.5,1168.6L1894,1167.8L1896.5,1176.8L1899.1,1162.8L1901.6,1172.4L1904.1,1169.1L1906.7,1169.7L1909.2,1168L1911.8,1170.8L1914.3,1170.7L1916.8,1170.6L1919.4,1164.2L1921.9,1164.9L1924.5,1166.6L1927,1174.3L1929.5,1166.8L1932.1,1170.9L1934.6,1170.5L1937.2,1168.1L1939.7,1171.1L1942.2,1167.9L1944.8,1168.2L1947.3,1167.3L1949.9,1172L1952.4,1169.6L1954.9,1173L1957.5,1170.7L1960,1169.2L1962.6,1168.8L1965.1,1162.4L1967.6,1176L1970.2,1167.5L1970.2,1196.8Z" fill="#f781bf"/>
</g>
<path d="M360.5,172.4V1197.6" stroke="#1f77b4" stroke-width="1.4" stroke-dasharray="4.8 2.56" fill="none"/>
<path d="M748.5,172.4V1197.6" stroke="#1f77b4" stroke-width="1.4" stroke-dasharray="4.8 2.56" fill="none"/>
<path d="M781.5,172.4V1197.6" stroke="#1f77b4" stroke-width="1.4" stroke-dasharray="4.8 2.56" fill="none"/>
<path d="M863.5,172.4V1197.6" stroke="#1f77b4" stroke-width="1.4" stroke-dasharray="4.8 2.56" fill="none"/>
<path d="M1030.5,172.4V1197.6" stroke="#1f77b4" stroke-width="1.4" stroke-dasharray="4.8 2.56" fill="none"/>
<path d="M1482.5,172.4V1197.6" stroke="#1f77b4" stroke-width="1.4" stroke-dasharray="4.8 2.56" fill="none"/>
<path d="M1505.5,172.4V1197.6" stroke="#1f77b4" stroke-width="1.4" stroke-dasharray="4.8 2.56" fill="none"/>
<path d="M1883.5,172.4V1197.6" stroke="#1f77b4" stroke-width="1.4" stroke-dasharray="4.8 2.56" fill="none"/>
<text x="185.8" y="199.3" font-size="32" text-anchor="end">NKG7</text>
<text x="185.8" y="237.3" font-size="32" text-anchor="end">CTSW</text>
<text x="185.8" y="275.3" font-size="32" text-anchor="end">GNLY</text>
<text x="185.8" y="313.3" font-size="32" text-anchor="end">CD3D</text>
<text x="185.8" y="351.2" font-size="32" text-anchor="end">LDHB</text>
<text x="185.8" y="389.2" font-size="32" text-anchor="end">AES</text>
<text x="185.8" y="427.2" font-size="32" text-anchor="end">HNRNPA1</text>
<text x="185.8" y="465.2" font-size="32" text-anchor="end">NPM1</text>
<text x="185.8" y="503.2" font-size="32" text-anchor="end">SNHG7</text>
<text x="185.8" y="541.2" font-size="32" text-anchor="end">IGJ</text>
<text x="185.8" y="579.2" font-size="32" text-anchor="end">MZB1</text>
<text x="185.8" y="617.1" font-size="32" text-anchor="end">SPCS2</text>
<text x="185.8" y="655.1" font-size="32" text-anchor="end">CD79B</text>
<text x="185.8" y="693.1" font-size="32" text-anchor="end">CD79A</text>
<text x="185.8" y="731.1" font-size="32" text-anchor="end">MS4A1</text>
<text x="185.8" y="769.1" font-size="32" text-anchor="end">FTL</text>
<text x="185.8" y="807.1" font-size="32" text-anchor="end">AIF1</text>
<text x="185.8" y="845" font-size="32" text-anchor="end">LST1</text>
<text x="185.8" y="883" font-size="32" text-anchor="end">GPX1</text>
<text x="185.8" y="921" font-size="32" text-anchor="end">PPP1R14A</text>
<text x="185.8" y="959" font-size="32" text-anchor="end">PLAC8</text>
<text x="185.8" y="997" font-size="32" text-anchor="end">FCER1A</text>
<text x="185.8" y="1035" font-size="32" text-anchor="end">LYZ</text>
<text x="185.8" y="1073" font-size="32" text-anchor="end">HLA-DRB1</text>
<text x="185.8" y="1110.9" font-size="32" text-anchor="end">IRF8</text>
<text x="185.8" y="1148.9" font-size="32" text-anchor="end">HLA-DPA1</text>
<text x="185.8" y="1186.9" font-size="32" text-anchor="end">CPVL</text>
<path d="M1989,171V1199" stroke="#000" stroke-width="2" fill="none"/>
<path d="M1983,171.8H1989M1983,210.8H1989M1983,249.1H1989M1983,285.8H1989M1983,324.6H1989M1983,369.9H1989M1983,402.2H1989M1983,440.2H1989M1983,480.6H1989M1983,514.7H1989M1983,552H1989M1983,595H1989M1983,628.5H1989M1983,672.1H1989M1983,709.9H1989M1983,742.1H1989M1983,786.5H1989M1983,823.2H1989M1983,856.9H1989M1983,895.5H1989M1983,932.9H1989M1983,974.7H1989M1983,1011.6H1989M1983,1048.3H1989M1983,1086.8H1989M1983,1125.1H1989M1983,1161.9H1989" stroke="#000" stroke-width="1.8" fill="none"/>
<text x="1998.5" y="182.1" font-size="26.7">5</text>
<text x="1998.5" y="221.1" font-size="26.7">4</text>
<text x="1998.5" y="259.4" font-size="26.7">5</text>
<text x="1998.5" y="296.1" font-size="26.7">4</text>
<text x="1998.5" y="334.9" font-size="26.7">4</text>
<text x="1998.5" y="380.2" font-size="26.7">3</text>
<text x="1998.5" y="412.5" font-size="26.7">4</text>
<text x="1998.5" y="450.5" font-size="26.7">4</text>
<text x="1998.5" y="490.9" font-size="26.7">3</text>
<text x="1998.5" y="525" font-size="26.7">6</text>
<text x="1998.5" y="562.3" font-size="26.7">5</text>
<text x="1998.5" y="605.3" font-size="26.7">3</text>
<text x="1998.5" y="638.8" font-size="26.7">4</text>
<text x="1998.5" y="682.4" font-size="26.7">4</text>
<text x="1998.5" y="720.2" font-size="26.7">3</text>
<text x="1998.5" y="752.4" font-size="26.7">6</text>
<text x="1998.5" y="796.8" font-size="26.7">4</text>
<text x="1998.5" y="833.5" font-size="26.7">4</text>
<text x="1998.5" y="867.2" font-size="26.7">4</text>
<text x="1998.5" y="905.8" font-size="26.7">3</text>
<text x="1998.5" y="943.2" font-size="26.7">4</text>
<text x="1998.5" y="985" font-size="26.7">4</text>
<text x="1998.5" y="1021.9" font-size="26.7">5</text>
<text x="1998.5" y="1058.6" font-size="26.7">5</text>
<text x="1998.5" y="1097.1" font-size="26.7">3</text>
<text x="1998.5" y="1135.4" font-size="26.7">5</text>
<text x="1998.5" y="1172.2" font-size="26.7">4</text>
<rect x="2046" y="172" width="21" height="114.2" fill="#377eb8"/>
<rect x="2046" y="285.9" width="21" height="114.2" fill="#4daf4a"/>
<rect x="2046" y="399.9" width="21" height="114.2" fill="#999999"/>
<rect x="2046" y="513.8" width="21" height="114.2" fill="#ffff33"/>
<rect x="2046" y="627.8" width="21" height="114.2" fill="#a65628"/>
<rect x="2046" y="741.7" width="21" height="114.2" fill="#e41a1c"/>
<rect x="2046" y="855.6" width="21" height="114.2" fill="#ff7f00"/>
<rect x="2046" y="969.6" width="21" height="114.2" fill="#984ea3"/>
<rect x="2046" y="1083.5" width="21" height="113.9" fill="#f781bf"/>
<rect x="195.2" y="1218" width="165.3" height="16" fill="#377eb8"/>
<text x="279.1" y="1278" font-size="32" text-anchor="middle">1</text>
<rect x="360.2" y="1218" width="388.1" height="16" fill="#4daf4a"/>
<text x="555.5" y="1278" font-size="32" text-anchor="middle">2</text>
<rect x="748" y="1218" width="33.5" height="16" fill="#999999"/>
<text x="766" y="1278" font-size="32" text-anchor="middle">8</text>
<rect x="781.2" y="1218" width="81.4" height="16" fill="#ffff33"/>
<text x="823.1" y="1278" font-size="32" text-anchor="middle">5</text>
<rect x="862.3" y="1218" width="167.9" height="16" fill="#a65628"/>
<text x="947.5" y="1278" font-size="32" text-anchor="middle">6</text>
<rect x="1029.9" y="1218" width="452.4" height="16" fill="#e41a1c"/>
<text x="1257.4" y="1278" font-size="32" text-anchor="middle">0</text>
<rect x="1482" y="1218" width="23.3" height="16" fill="#ff7f00"/>
<text x="1494.9" y="1278" font-size="32" text-anchor="middle">4</text>
<rect x="1505" y="1218" width="378.3" height="16" fill="#984ea3"/>
<text x="1695.4" y="1278" font-size="32" text-anchor="middle">3</text>
<rect x="1883" y="1218" width="89" height="16" fill="#f781bf"/>
<text x="1928.9" y="1278" font-size="32" text-anchor="middle">7</text>
<text x="1082.8" y="1327.2" font-size="38.8" text-anchor="middle">clusters</text>
</svg></body></html>
